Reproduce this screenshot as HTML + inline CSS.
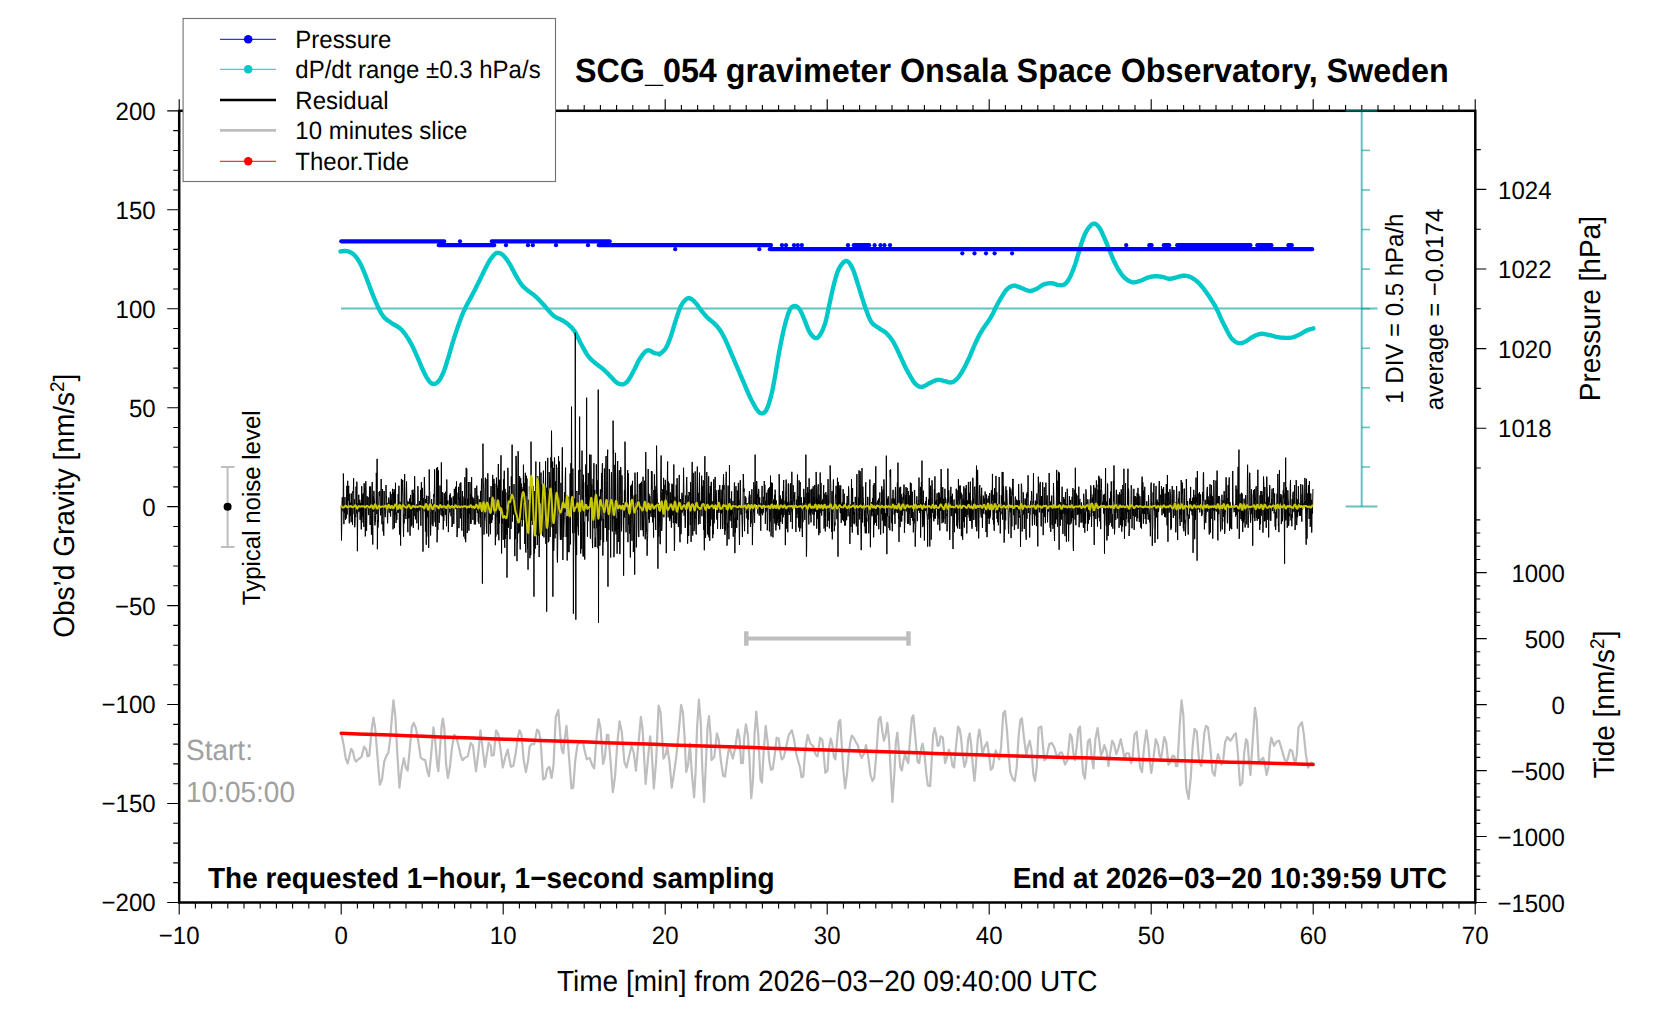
<!DOCTYPE html>
<html><head><meta charset="utf-8"><title>SCG_054 gravimeter Onsala Space Observatory, Sweden</title>
<style>html,body{margin:0;padding:0;background:#fff;}body{width:1676px;height:1020px;position:relative;overflow:hidden;}
svg text{font-family:"Liberation Sans", "DejaVu Sans", Arial, sans-serif;text-rendering:geometricPrecision;}</style></head>
<body>
<svg width="1676" height="1020" viewBox="0 0 1676 1020" style="position:absolute;left:0;top:0">
<rect width="1676" height="1020" fill="#ffffff"/>
<line x1="341" y1="308.6" x2="1377.5" y2="308.6" stroke="#009999" stroke-opacity="0.6" stroke-width="2"/>
<line x1="1361.7" y1="110.8" x2="1361.7" y2="506.6" stroke="#009999" stroke-opacity="0.6" stroke-width="2"/>
<line x1="1361.7" y1="150.38" x2="1370" y2="150.38" stroke="#009999" stroke-opacity="0.6" stroke-width="1.6"/>
<line x1="1361.7" y1="189.96" x2="1370" y2="189.96" stroke="#009999" stroke-opacity="0.6" stroke-width="1.6"/>
<line x1="1361.7" y1="229.54" x2="1370" y2="229.54" stroke="#009999" stroke-opacity="0.6" stroke-width="1.6"/>
<line x1="1361.7" y1="269.12" x2="1370" y2="269.12" stroke="#009999" stroke-opacity="0.6" stroke-width="1.6"/>
<line x1="1361.7" y1="308.7" x2="1370" y2="308.7" stroke="#009999" stroke-opacity="0.6" stroke-width="1.6"/>
<line x1="1361.7" y1="348.28" x2="1370" y2="348.28" stroke="#009999" stroke-opacity="0.6" stroke-width="1.6"/>
<line x1="1361.7" y1="387.86" x2="1370" y2="387.86" stroke="#009999" stroke-opacity="0.6" stroke-width="1.6"/>
<line x1="1361.7" y1="427.44" x2="1370" y2="427.44" stroke="#009999" stroke-opacity="0.6" stroke-width="1.6"/>
<line x1="1361.7" y1="467.02" x2="1370" y2="467.02" stroke="#009999" stroke-opacity="0.6" stroke-width="1.6"/>
<line x1="1345.7" y1="506.6" x2="1377.4" y2="506.6" stroke="#009999" stroke-opacity="0.6" stroke-width="2"/>
<path d="M340.51 251.5 L341.19 251.42 L342.12 251.26 L343.23 251.1 L344.44 250.98 L345.66 250.96 L346.81 251.11 L347.94 251.4 L349.1 251.78 L350.28 252.27 L351.46 252.87 L352.61 253.59 L353.7 254.46 L354.76 255.47 L355.78 256.64 L356.78 257.93 L357.75 259.32 L358.7 260.8 L359.61 262.33 L360.49 263.94 L361.32 265.65 L362.13 267.44 L362.93 269.3 L363.72 271.21 L364.53 273.16 L365.35 275.18 L366.17 277.28 L366.99 279.44 L367.81 281.62 L368.64 283.8 L369.46 285.96 L370.28 288.11 L371.1 290.3 L371.92 292.48 L372.74 294.64 L373.56 296.74 L374.38 298.76 L375.2 300.71 L376.02 302.62 L376.84 304.48 L377.66 306.27 L378.48 307.97 L379.3 309.58 L380.09 311.09 L380.83 312.5 L381.58 313.83 L382.36 315.09 L383.23 316.3 L384.22 317.46 L385.36 318.57 L386.63 319.61 L387.98 320.6 L389.36 321.54 L390.75 322.46 L392.1 323.37 L393.43 324.22 L394.8 325.01 L396.16 325.77 L397.49 326.54 L398.77 327.37 L399.97 328.29 L401.07 329.29 L402.09 330.33 L403.05 331.43 L403.98 332.59 L404.92 333.84 L405.88 335.18 L406.86 336.62 L407.85 338.13 L408.83 339.73 L409.82 341.41 L410.8 343.18 L411.79 345.02 L412.77 346.98 L413.76 349.04 L414.74 351.18 L415.72 353.37 L416.71 355.6 L417.69 357.82 L418.68 360.11 L419.68 362.5 L420.67 364.92 L421.66 367.29 L422.64 369.55 L423.6 371.6 L424.56 373.51 L425.51 375.32 L426.46 377.01 L427.38 378.55 L428.27 379.91 L429.11 381.06 L429.9 381.99 L430.62 382.73 L431.32 383.28 L432 383.67 L432.7 383.91 L433.44 384.01 L434.23 383.97 L435.04 383.8 L435.87 383.47 L436.7 382.97 L437.54 382.3 L438.37 381.45 L439.19 380.41 L440.01 379.18 L440.83 377.78 L441.65 376.21 L442.47 374.48 L443.29 372.59 L444.11 370.49 L444.93 368.18 L445.75 365.7 L446.57 363.11 L447.39 360.47 L448.21 357.82 L449.02 355.16 L449.82 352.43 L450.61 349.64 L451.42 346.81 L452.26 343.96 L453.13 341.09 L454.06 338.16 L455.03 335.14 L456.03 332.1 L457.03 329.09 L458.04 326.16 L459.04 323.37 L460 320.73 L460.94 318.23 L461.87 315.8 L462.83 313.41 L463.85 311.03 L464.95 308.6 L466.15 306.15 L467.43 303.71 L468.76 301.28 L470.12 298.83 L471.49 296.35 L472.82 293.83 L474.14 291.27 L475.45 288.66 L476.76 286.02 L478.07 283.37 L479.39 280.72 L480.7 278.08 L482.03 275.37 L483.4 272.54 L484.76 269.71 L486.09 267 L487.37 264.5 L488.57 262.33 L489.69 260.49 L490.76 258.89 L491.77 257.51 L492.73 256.32 L493.63 255.31 L494.48 254.46 L495.24 253.78 L495.9 253.31 L496.51 253.02 L497.11 252.87 L497.73 252.83 L498.42 252.88 L499.17 253.01 L499.95 253.23 L500.76 253.57 L501.59 254.04 L502.45 254.66 L503.34 255.44 L504.27 256.41 L505.24 257.56 L506.23 258.86 L507.24 260.27 L508.25 261.77 L509.25 263.32 L510.23 264.96 L511.22 266.74 L512.2 268.61 L513.18 270.5 L514.17 272.36 L515.15 274.14 L516.14 275.89 L517.12 277.64 L518.11 279.37 L519.09 281.04 L520.08 282.59 L521.06 283.99 L522.02 285.2 L522.96 286.25 L523.89 287.19 L524.85 288.07 L525.87 288.96 L526.97 289.9 L528.18 290.87 L529.48 291.83 L530.84 292.79 L532.22 293.76 L533.56 294.76 L534.84 295.8 L536.05 296.88 L537.21 297.99 L538.35 299.12 L539.47 300.29 L540.6 301.48 L541.73 302.69 L542.89 303.97 L544.07 305.32 L545.24 306.69 L546.4 308.05 L547.53 309.36 L548.62 310.57 L549.64 311.69 L550.59 312.76 L551.52 313.77 L552.45 314.73 L553.44 315.63 L554.53 316.48 L555.74 317.23 L557.05 317.9 L558.41 318.51 L559.78 319.1 L561.13 319.72 L562.41 320.41 L563.62 321.15 L564.81 321.91 L565.98 322.69 L567.11 323.51 L568.22 324.39 L569.3 325.34 L570.34 326.31 L571.34 327.3 L572.31 328.35 L573.27 329.49 L574.23 330.77 L575.2 332.23 L576.18 333.91 L577.14 335.8 L578.1 337.83 L579.07 339.92 L580.07 342.01 L581.11 344.04 L582.2 346.07 L583.34 348.16 L584.5 350.25 L585.67 352.28 L586.84 354.17 L588 355.85 L589.13 357.29 L590.23 358.52 L591.33 359.61 L592.45 360.63 L593.63 361.65 L594.89 362.74 L596.28 363.89 L597.77 365.04 L599.32 366.19 L600.87 367.34 L602.37 368.49 L603.75 369.64 L605.03 370.8 L606.23 371.97 L607.38 373.14 L608.49 374.3 L609.58 375.44 L610.64 376.53 L611.69 377.61 L612.7 378.71 L613.68 379.79 L614.65 380.79 L615.6 381.69 L616.55 382.43 L617.5 383.05 L618.43 383.56 L619.34 383.97 L620.26 384.26 L621.16 384.4 L622.06 384.4 L622.95 384.27 L623.83 384.04 L624.7 383.66 L625.57 383.13 L626.46 382.4 L627.38 381.45 L628.33 380.23 L629.31 378.75 L630.3 377.08 L631.3 375.29 L632.3 373.44 L633.29 371.6 L634.27 369.7 L635.26 367.67 L636.24 365.57 L637.22 363.51 L638.21 361.56 L639.19 359.79 L640.2 358.18 L641.24 356.64 L642.27 355.21 L643.28 353.93 L644.23 352.82 L645.1 351.92 L645.86 351.24 L646.52 350.77 L647.13 350.48 L647.73 350.33 L648.35 350.29 L649.04 350.34 L649.8 350.55 L650.61 350.95 L651.44 351.46 L652.28 352.01 L653.13 352.52 L653.96 352.9 L654.82 353.17 L655.74 353.38 L656.66 353.55 L657.52 353.69 L658.28 353.8 L658.88 353.88 L659.23 354.01 L659.36 354.18 L659.38 354.32 L659.41 354.36 L659.58 354.24 L660 353.88 L660.72 353.31 L661.65 352.57 L662.72 351.67 L663.83 350.6 L664.92 349.37 L665.91 347.98 L666.78 346.4 L667.62 344.62 L668.43 342.69 L669.22 340.61 L670.02 338.43 L670.83 336.16 L671.65 333.74 L672.47 331.13 L673.29 328.41 L674.11 325.66 L674.93 322.97 L675.75 320.41 L676.57 317.92 L677.39 315.42 L678.21 312.97 L679.03 310.64 L679.85 308.51 L680.67 306.63 L681.5 305.02 L682.34 303.62 L683.17 302.41 L684 301.37 L684.81 300.49 L685.6 299.74 L686.34 299.13 L687.04 298.66 L687.72 298.35 L688.42 298.19 L689.14 298.2 L689.93 298.36 L690.77 298.71 L691.66 299.25 L692.59 299.95 L693.53 300.78 L694.48 301.7 L695.44 302.69 L696.4 303.81 L697.38 305.09 L698.37 306.47 L699.36 307.89 L700.36 309.27 L701.35 310.57 L702.32 311.79 L703.28 312.98 L704.24 314.14 L705.21 315.27 L706.21 316.38 L707.25 317.46 L708.36 318.49 L709.51 319.47 L710.7 320.41 L711.88 321.36 L713.04 322.34 L714.14 323.37 L715.19 324.41 L716.19 325.45 L717.16 326.5 L718.12 327.63 L719.08 328.87 L720.05 330.26 L721.04 331.8 L722.02 333.47 L723 335.24 L723.99 337.11 L724.97 339.07 L725.96 341.09 L726.94 343.21 L727.93 345.46 L728.91 347.79 L729.9 350.17 L730.88 352.54 L731.86 354.87 L732.85 357.17 L733.83 359.46 L734.82 361.76 L735.8 364.06 L736.79 366.35 L737.77 368.65 L738.76 370.95 L739.74 373.25 L740.72 375.54 L741.71 377.84 L742.69 380.14 L743.68 382.43 L744.65 384.74 L745.61 387.06 L746.57 389.39 L747.54 391.69 L748.54 393.98 L749.58 396.22 L750.7 398.5 L751.88 400.87 L753.09 403.21 L754.29 405.41 L755.43 407.38 L756.48 409.01 L757.41 410.31 L758.26 411.37 L759.06 412.19 L759.83 412.78 L760.6 413.17 L761.4 413.35 L762.22 413.36 L763.04 413.22 L763.86 412.87 L764.68 412.24 L765.5 411.31 L766.32 410 L767.15 408.25 L768 406.1 L768.84 403.64 L769.67 400.94 L770.48 398.11 L771.24 395.23 L771.97 392.21 L772.66 388.96 L773.33 385.57 L773.98 382.14 L774.59 378.77 L775.18 375.54 L775.73 372.45 L776.24 369.42 L776.72 366.44 L777.19 363.51 L777.65 360.64 L778.13 357.82 L778.61 355.11 L779.08 352.5 L779.55 349.95 L780.03 347.39 L780.54 344.79 L781.09 342.07 L781.67 339.2 L782.29 336.2 L782.93 333.15 L783.6 330.11 L784.3 327.16 L785.02 324.35 L785.79 321.59 L786.59 318.79 L787.42 316.08 L788.27 313.57 L789.12 311.36 L789.95 309.58 L790.77 308.26 L791.59 307.31 L792.41 306.67 L793.23 306.28 L794.05 306.09 L794.87 306.04 L795.69 306.14 L796.51 306.43 L797.33 306.91 L798.15 307.6 L798.97 308.49 L799.79 309.58 L800.61 310.96 L801.43 312.62 L802.25 314.48 L803.07 316.46 L803.89 318.47 L804.71 320.41 L805.52 322.39 L806.32 324.5 L807.11 326.63 L807.92 328.69 L808.76 330.59 L809.64 332.23 L810.57 333.67 L811.57 335 L812.59 336.16 L813.61 337.11 L814.6 337.79 L815.54 338.13 L816.42 338.14 L817.26 337.84 L818.07 337.27 L818.86 336.46 L819.66 335.42 L820.46 334.2 L821.3 332.75 L822.14 331.06 L822.99 329.15 L823.82 327.05 L824.62 324.78 L825.39 322.38 L826.09 319.82 L826.74 317.06 L827.36 314.14 L827.98 311.08 L828.62 307.91 L829.32 304.66 L830.09 301.2 L830.89 297.48 L831.72 293.65 L832.57 289.86 L833.42 286.26 L834.25 283 L835.04 280.06 L835.81 277.29 L836.58 274.72 L837.38 272.35 L838.23 270.19 L839.17 268.24 L840.22 266.43 L841.36 264.75 L842.55 263.28 L843.76 262.1 L844.95 261.29 L846.06 260.95 L847.11 261.13 L848.14 261.77 L849.14 262.79 L850.11 264.1 L851.05 265.61 L851.97 267.25 L852.84 269.09 L853.68 271.22 L854.49 273.55 L855.28 276.02 L856.08 278.54 L856.89 281.04 L857.71 283.56 L858.53 286.18 L859.35 288.85 L860.17 291.54 L860.99 294.2 L861.81 296.79 L862.63 299.35 L863.45 301.93 L864.27 304.48 L865.09 306.96 L865.91 309.33 L866.73 311.55 L867.53 313.65 L868.3 315.65 L869.07 317.55 L869.87 319.31 L870.72 320.93 L871.66 322.38 L872.68 323.61 L873.77 324.62 L874.92 325.48 L876.1 326.27 L877.32 327.05 L878.55 327.9 L879.81 328.75 L881.14 329.55 L882.48 330.34 L883.83 331.18 L885.16 332.12 L886.42 333.21 L887.64 334.45 L888.83 335.79 L889.99 337.24 L891.13 338.77 L892.23 340.38 L893.31 342.07 L894.36 343.86 L895.36 345.75 L896.33 347.73 L897.29 349.76 L898.25 351.82 L899.22 353.88 L900.2 355.98 L901.19 358.15 L902.17 360.35 L903.16 362.53 L904.14 364.65 L905.13 366.68 L906.12 368.65 L907.13 370.58 L908.14 372.47 L909.14 374.27 L910.11 375.96 L911.03 377.51 L911.9 378.94 L912.71 380.26 L913.49 381.47 L914.28 382.57 L915.09 383.55 L915.96 384.4 L916.86 385.15 L917.78 385.82 L918.72 386.36 L919.71 386.75 L920.75 386.96 L921.86 386.96 L923.06 386.67 L924.34 386.1 L925.68 385.35 L927.04 384.52 L928.4 383.71 L929.74 383.02 L931.06 382.4 L932.4 381.76 L933.74 381.13 L935.06 380.57 L936.36 380.14 L937.61 379.87 L938.82 379.82 L939.98 379.94 L941.12 380.18 L942.24 380.49 L943.37 380.8 L944.5 381.06 L945.66 381.34 L946.84 381.7 L948.01 382.06 L949.17 382.36 L950.3 382.51 L951.4 382.43 L952.44 382.14 L953.44 381.7 L954.41 381.1 L955.37 380.37 L956.33 379.5 L957.3 378.5 L958.29 377.34 L959.27 376.02 L960.26 374.56 L961.24 372.99 L962.22 371.34 L963.21 369.64 L964.19 367.86 L965.18 365.99 L966.16 364.04 L967.15 362.02 L968.13 359.94 L969.12 357.82 L970.1 355.62 L971.08 353.3 L972.07 350.93 L973.05 348.56 L974.04 346.25 L975.02 344.04 L975.96 342 L976.84 340.08 L977.72 338.21 L978.66 336.33 L979.71 334.36 L980.93 332.23 L982.42 329.84 L984.14 327.25 L985.98 324.56 L987.8 321.91 L989.49 319.4 L990.91 317.15 L992.02 315.19 L992.92 313.44 L993.68 311.84 L994.38 310.32 L995.07 308.83 L995.83 307.3 L996.64 305.77 L997.43 304.28 L998.23 302.81 L999.04 301.36 L999.87 299.91 L1000.75 298.44 L1001.67 296.91 L1002.61 295.31 L1003.58 293.71 L1004.58 292.17 L1005.6 290.78 L1006.66 289.58 L1007.75 288.58 L1008.88 287.69 L1010.04 286.94 L1011.22 286.34 L1012.39 285.9 L1013.55 285.65 L1014.67 285.62 L1015.77 285.81 L1016.87 286.18 L1018 286.64 L1019.18 287.14 L1020.44 287.62 L1021.83 288.16 L1023.32 288.83 L1024.87 289.54 L1026.42 290.19 L1027.91 290.7 L1029.3 290.96 L1030.55 290.97 L1031.71 290.8 L1032.81 290.48 L1033.89 290.05 L1035.01 289.54 L1036.19 288.99 L1037.45 288.32 L1038.74 287.48 L1040.07 286.57 L1041.41 285.67 L1042.74 284.87 L1044.07 284.27 L1045.39 283.86 L1046.73 283.56 L1048.07 283.37 L1049.39 283.27 L1050.69 283.25 L1051.94 283.28 L1053.16 283.45 L1054.35 283.77 L1055.51 284.16 L1056.65 284.55 L1057.75 284.88 L1058.83 285.06 L1059.89 285.14 L1060.91 285.19 L1061.91 285.18 L1062.88 285.05 L1063.82 284.76 L1064.74 284.27 L1065.62 283.58 L1066.45 282.72 L1067.26 281.71 L1068.06 280.54 L1068.85 279.23 L1069.66 277.77 L1070.49 276.12 L1071.34 274.26 L1072.18 272.26 L1073.02 270.17 L1073.82 268.05 L1074.58 265.96 L1075.3 263.88 L1075.97 261.76 L1076.61 259.62 L1077.25 257.46 L1077.88 255.3 L1078.52 253.16 L1079.17 251 L1079.8 248.82 L1080.43 246.64 L1081.07 244.48 L1081.75 242.38 L1082.46 240.36 L1083.21 238.39 L1083.98 236.42 L1084.77 234.52 L1085.6 232.71 L1086.47 231.03 L1087.38 229.53 L1088.36 228.15 L1089.41 226.84 L1090.5 225.66 L1091.59 224.68 L1092.66 223.98 L1093.68 223.63 L1094.65 223.64 L1095.6 223.99 L1096.53 224.61 L1097.43 225.45 L1098.32 226.45 L1099.2 227.56 L1100.05 228.84 L1100.88 230.34 L1101.69 231.99 L1102.5 233.76 L1103.3 235.59 L1104.12 237.41 L1104.94 239.26 L1105.76 241.2 L1106.58 243.19 L1107.4 245.21 L1108.22 247.23 L1109.04 249.22 L1109.85 251.2 L1110.64 253.2 L1111.44 255.19 L1112.25 257.17 L1113.09 259.12 L1113.96 261.04 L1114.89 262.94 L1115.86 264.86 L1116.85 266.76 L1117.86 268.58 L1118.87 270.3 L1119.87 271.86 L1120.84 273.28 L1121.8 274.58 L1122.76 275.77 L1123.73 276.85 L1124.73 277.85 L1125.78 278.76 L1126.86 279.6 L1127.96 280.37 L1129.1 281.06 L1130.26 281.62 L1131.45 282.04 L1132.67 282.3 L1133.92 282.35 L1135.22 282.22 L1136.54 281.94 L1137.88 281.57 L1139.22 281.15 L1140.54 280.72 L1141.86 280.24 L1143.17 279.66 L1144.48 279.03 L1145.79 278.4 L1147.11 277.83 L1148.42 277.38 L1149.74 277.03 L1151.08 276.74 L1152.42 276.52 L1153.74 276.35 L1155.04 276.24 L1156.29 276.2 L1157.51 276.23 L1158.7 276.34 L1159.86 276.52 L1161 276.73 L1162.1 276.96 L1163.18 277.18 L1164.23 277.44 L1165.23 277.76 L1166.2 278.09 L1167.16 278.4 L1168.12 278.63 L1169.09 278.76 L1170.05 278.75 L1170.99 278.65 L1171.92 278.48 L1172.88 278.27 L1173.9 278.02 L1175 277.77 L1176.21 277.47 L1177.51 277.08 L1178.87 276.66 L1180.25 276.28 L1181.6 275.97 L1182.87 275.8 L1184.08 275.76 L1185.24 275.79 L1186.38 275.9 L1187.5 276.1 L1188.63 276.39 L1189.76 276.79 L1190.91 277.28 L1192.06 277.87 L1193.21 278.55 L1194.36 279.32 L1195.51 280.18 L1196.66 281.12 L1197.8 282.16 L1198.95 283.29 L1200.1 284.51 L1201.25 285.81 L1202.4 287.18 L1203.55 288.6 L1204.71 290.1 L1205.88 291.71 L1207.05 293.37 L1208.21 295.08 L1209.35 296.78 L1210.44 298.44 L1211.49 300.07 L1212.52 301.69 L1213.51 303.31 L1214.49 304.93 L1215.43 306.59 L1216.34 308.29 L1217.22 310.05 L1218.06 311.86 L1218.87 313.7 L1219.66 315.54 L1220.46 317.36 L1221.27 319.12 L1222.09 320.83 L1222.91 322.51 L1223.73 324.16 L1224.55 325.79 L1225.37 327.39 L1226.19 328.96 L1227.01 330.55 L1227.83 332.16 L1228.65 333.74 L1229.47 335.24 L1230.29 336.62 L1231.11 337.82 L1231.94 338.85 L1232.77 339.73 L1233.6 340.48 L1234.42 341.13 L1235.24 341.68 L1236.03 342.15 L1236.8 342.54 L1237.54 342.83 L1238.27 343.03 L1239.01 343.14 L1239.77 343.17 L1240.56 343.14 L1241.38 343.03 L1242.22 342.85 L1243.07 342.6 L1243.96 342.26 L1244.89 341.85 L1245.88 341.37 L1246.92 340.75 L1248.02 340 L1249.16 339.18 L1250.34 338.33 L1251.55 337.53 L1252.77 336.84 L1254.02 336.21 L1255.32 335.59 L1256.65 335.02 L1257.98 334.52 L1259.32 334.13 L1260.64 333.88 L1261.96 333.81 L1263.27 333.88 L1264.58 334.07 L1265.9 334.32 L1267.21 334.6 L1268.52 334.87 L1269.83 335.15 L1271.15 335.49 L1272.46 335.85 L1273.77 336.22 L1275.08 336.56 L1276.4 336.84 L1277.71 337.07 L1279.02 337.29 L1280.33 337.48 L1281.65 337.63 L1282.96 337.75 L1284.27 337.82 L1285.58 337.87 L1286.9 337.9 L1288.21 337.88 L1289.52 337.82 L1290.83 337.67 L1292.15 337.43 L1293.47 337.07 L1294.81 336.61 L1296.15 336.08 L1297.47 335.49 L1298.77 334.88 L1300.02 334.28 L1301.23 333.64 L1302.41 332.95 L1303.55 332.24 L1304.68 331.54 L1305.8 330.89 L1306.91 330.34 L1308.09 329.88 L1309.35 329.47 L1310.59 329.11 L1311.74 328.81 L1312.71 328.56 L1313.41 328.37" fill="none" stroke="#00c8c8" stroke-width="4.4" stroke-linecap="round" stroke-linejoin="round"/>
<line x1="341.3" y1="241.3" x2="444.2" y2="241.3" stroke="#0000ff" stroke-width="4.2" stroke-linecap="round"/>
<line x1="438.8" y1="245.2" x2="494.2" y2="245.2" stroke="#0000ff" stroke-width="4.2" stroke-linecap="round"/>
<line x1="491.8" y1="241.3" x2="609.7" y2="241.3" stroke="#0000ff" stroke-width="4.2" stroke-linecap="round"/>
<line x1="598.8" y1="245.2" x2="770.9" y2="245.2" stroke="#0000ff" stroke-width="4.2" stroke-linecap="round"/>
<line x1="769.8" y1="249.2" x2="1312.2" y2="249.2" stroke="#0000ff" stroke-width="4.2" stroke-linecap="round"/>
<circle cx="460" cy="241.3" r="2.1" fill="#0000ff"/>
<circle cx="506" cy="245.2" r="2.1" fill="#0000ff"/>
<circle cx="528" cy="245.2" r="2.1" fill="#0000ff"/>
<circle cx="532.8" cy="245.2" r="2.1" fill="#0000ff"/>
<circle cx="556" cy="245.2" r="2.1" fill="#0000ff"/>
<circle cx="588" cy="245.2" r="2.1" fill="#0000ff"/>
<circle cx="675.2" cy="249.2" r="2.1" fill="#0000ff"/>
<circle cx="759.3" cy="249.2" r="2.1" fill="#0000ff"/>
<circle cx="782" cy="245.2" r="2.1" fill="#0000ff"/>
<circle cx="786" cy="245.2" r="2.1" fill="#0000ff"/>
<circle cx="794" cy="245.2" r="2.1" fill="#0000ff"/>
<circle cx="797.8" cy="245.2" r="2.1" fill="#0000ff"/>
<circle cx="801.8" cy="245.2" r="2.1" fill="#0000ff"/>
<circle cx="848" cy="245.2" r="2.1" fill="#0000ff"/>
<circle cx="874.6" cy="245.2" r="2.1" fill="#0000ff"/>
<circle cx="880.5" cy="245.2" r="2.1" fill="#0000ff"/>
<circle cx="884.5" cy="245.2" r="2.1" fill="#0000ff"/>
<circle cx="890" cy="245.2" r="2.1" fill="#0000ff"/>
<circle cx="1126.2" cy="245.2" r="2.1" fill="#0000ff"/>
<line x1="853.8" y1="245.2" x2="869.2" y2="245.2" stroke="#0000ff" stroke-width="4.2" stroke-linecap="round"/>
<circle cx="962.3" cy="253.3" r="2.1" fill="#0000ff"/>
<circle cx="974.5" cy="253.3" r="2.1" fill="#0000ff"/>
<circle cx="986" cy="253.3" r="2.1" fill="#0000ff"/>
<circle cx="994.6" cy="253.3" r="2.1" fill="#0000ff"/>
<circle cx="1012.1" cy="253.3" r="2.1" fill="#0000ff"/>
<line x1="1149.3" y1="245.2" x2="1151.6" y2="245.2" stroke="#0000ff" stroke-width="4.2" stroke-linecap="round"/>
<line x1="1163.8" y1="245.2" x2="1169.2" y2="245.2" stroke="#0000ff" stroke-width="4.2" stroke-linecap="round"/>
<line x1="1177.2" y1="245.2" x2="1250.4" y2="245.2" stroke="#0000ff" stroke-width="4.2" stroke-linecap="round"/>
<line x1="1257.3" y1="245.2" x2="1271.4" y2="245.2" stroke="#0000ff" stroke-width="4.2" stroke-linecap="round"/>
<line x1="1288.4" y1="245.2" x2="1291.8" y2="245.2" stroke="#0000ff" stroke-width="4.2" stroke-linecap="round"/>
<path d="M341.2 505.6 L341.47 540.45 L341.74 526.8 L342.01 501.29 L342.28 497.36 L342.55 499.58 L342.82 510.6 L343.09 511.31 L343.36 473.55 L343.63 484.98 L343.9 524.13 L344.17 510.95 L344.44 512.93 L344.71 505.13 L344.98 497.04 L345.25 513.61 L345.52 519.72 L345.79 505.25 L346.06 505.72 L346.33 518.33 L346.6 493.39 L346.87 485.87 L347.14 514.53 L347.41 499.89 L347.68 480.79 L347.95 495.51 L348.22 500.63 L348.49 488.69 L348.76 485.8 L349.03 510.27 L349.3 523.37 L349.57 504.45 L349.84 493.73 L350.11 511.06 L350.38 515.81 L350.65 502.54 L350.92 514.75 L351.19 522.2 L351.46 499.7 L351.73 493.35 L352 510.39 L352.27 517.53 L352.54 524.79 L352.81 491.36 L353.08 493.23 L353.35 490.61 L353.62 478.17 L353.89 508.17 L354.16 514.2 L354.43 499.37 L354.7 527.26 L354.97 524.16 L355.24 514.41 L355.51 515.54 L355.78 517.02 L356.05 486.63 L356.32 513.65 L356.59 513.15 L356.86 481.71 L357.13 508.08 L357.4 551.25 L357.67 518.58 L357.94 503.39 L358.21 507.31 L358.48 510.13 L358.75 494.72 L359.02 512.12 L359.29 507.98 L359.56 510.56 L359.83 499.81 L360.1 519.77 L360.37 514.42 L360.64 502.84 L360.91 514.01 L361.18 529.47 L361.45 529.24 L361.72 486.23 L361.99 513.6 L362.26 516.44 L362.53 498.58 L362.8 494.47 L363.07 522.48 L363.34 493.01 L363.61 518.79 L363.88 526.89 L364.15 483.22 L364.42 493.06 L364.69 487.8 L364.96 508.99 L365.23 536.4 L365.5 534.76 L365.77 481.16 L366.04 490.4 L366.31 517.67 L366.58 530.75 L366.85 515.37 L367.12 496.16 L367.39 508.04 L367.66 505.14 L367.93 500.51 L368.2 497.24 L368.47 514.99 L368.74 514.92 L369.01 507.31 L369.28 502.51 L369.55 486.47 L369.82 497.81 L370.09 524.95 L370.36 499.91 L370.63 486.59 L370.9 524.17 L371.17 523.09 L371.44 534.69 L371.71 508.96 L371.98 490.09 L372.25 482 L372.52 526.6 L372.79 544.51 L373.06 497.55 L373.33 496.22 L373.6 511.55 L373.87 490.87 L374.14 497.74 L374.41 500.22 L374.68 512.11 L374.95 525.42 L375.22 516.02 L375.49 522.04 L375.76 505.35 L376.03 506.29 L376.3 472.92 L376.57 480.6 L376.84 514.14 L377.11 458.85 L377.38 549.25 L377.65 520.17 L377.92 527.64 L378.19 523.9 L378.46 522.5 L378.73 505.28 L379 492.04 L379.27 492.81 L379.54 496.07 L379.81 490.99 L380.08 501.76 L380.35 510.79 L380.62 515.33 L380.89 499.79 L381.16 479.05 L381.43 503 L381.7 514.9 L381.97 524.26 L382.24 516.32 L382.51 489.06 L382.78 491.67 L383.05 531.36 L383.32 521.54 L383.59 535.33 L383.86 535.67 L384.13 491.09 L384.4 504.08 L384.67 511.44 L384.94 515.56 L385.21 517.19 L385.48 514.31 L385.75 506.83 L386.02 485.04 L386.29 497.77 L386.56 496.33 L386.83 505.39 L387.1 502.94 L387.37 517.69 L387.64 523.33 L387.91 513.37 L388.18 512.55 L388.45 505.25 L388.72 497.62 L388.99 499.32 L389.26 500.15 L389.53 510.64 L389.8 512.89 L390.07 513.32 L390.34 491.81 L390.61 516.51 L390.88 497.25 L391.15 494.11 L391.42 504.97 L391.69 500.6 L391.96 511.01 L392.23 499.03 L392.5 488.84 L392.77 496.62 L393.04 529.36 L393.31 509.19 L393.58 492.29 L393.85 500.07 L394.12 489.05 L394.39 528.12 L394.66 490.66 L394.93 511.41 L395.2 514.58 L395.47 482.77 L395.74 508.13 L396.01 522.95 L396.28 513.72 L396.55 512.63 L396.82 519.69 L397.09 510.18 L397.36 507.99 L397.63 507.27 L397.9 512.53 L398.17 494.14 L398.44 512.88 L398.71 496.41 L398.98 485.79 L399.25 512.55 L399.52 534.57 L399.79 523.33 L400.06 501.88 L400.33 516.19 L400.6 545.55 L400.87 506.06 L401.14 505.92 L401.41 478.9 L401.68 508.73 L401.95 497.85 L402.22 493.52 L402.49 483.74 L402.76 479.9 L403.03 491.59 L403.3 524.96 L403.57 536.73 L403.84 514.32 L404.11 523.3 L404.38 498.14 L404.65 474.1 L404.92 504.37 L405.19 515.23 L405.46 504.69 L405.73 516.91 L406 519.06 L406.27 492.12 L406.54 481.47 L406.81 498.92 L407.08 502.35 L407.35 501.71 L407.62 525.74 L407.89 532.23 L408.16 501.52 L408.43 514.13 L408.7 518.39 L408.97 514.67 L409.24 517.74 L409.51 498.58 L409.78 515.32 L410.05 535.69 L410.32 516.77 L410.59 494.91 L410.86 512.31 L411.13 526.4 L411.4 509.3 L411.67 502.22 L411.94 525.18 L412.21 490.05 L412.48 510.11 L412.75 506.28 L413.02 489.65 L413.29 527.82 L413.56 516.75 L413.83 493.24 L414.1 516.19 L414.37 498.54 L414.64 476.18 L414.91 493.75 L415.18 512.71 L415.45 519.35 L415.72 510.95 L415.99 508.43 L416.26 510.46 L416.53 504.49 L416.8 523.27 L417.07 510.96 L417.34 509.51 L417.61 511.74 L417.88 486.15 L418.15 493.92 L418.42 529.59 L418.69 514.39 L418.96 504.66 L419.23 510.49 L419.5 501.36 L419.77 506.18 L420.04 501.15 L420.31 507.04 L420.58 490.01 L420.85 525.75 L421.12 503.01 L421.39 482.23 L421.66 499.96 L421.93 498.64 L422.2 506.33 L422.47 487.9 L422.74 520.81 L423.01 551.62 L423.28 498.24 L423.55 506.87 L423.82 505.05 L424.09 501.18 L424.36 477.17 L424.63 485.96 L424.9 511.41 L425.17 510.15 L425.44 531.59 L425.71 499.19 L425.98 513.39 L426.25 544.77 L426.52 495.7 L426.79 536.65 L427.06 502.91 L427.33 503.35 L427.6 517.24 L427.87 508.14 L428.14 495.96 L428.41 514.24 L428.68 547.96 L428.95 525.3 L429.22 469.44 L429.49 490.6 L429.76 491.83 L430.03 508.52 L430.3 511.74 L430.57 535.5 L430.84 526.46 L431.11 516.82 L431.38 506.3 L431.65 499.13 L431.92 508.3 L432.19 524.64 L432.46 514.08 L432.73 503.72 L433 526.25 L433.27 514.48 L433.54 506.58 L433.81 494.15 L434.08 497.03 L434.35 489.69 L434.62 469.32 L434.89 520.4 L435.16 522.35 L435.43 511.68 L435.7 526.75 L435.97 517.88 L436.24 502 L436.51 467.86 L436.78 492.25 L437.05 542.25 L437.32 535.98 L437.59 467.15 L437.86 529.94 L438.13 482.13 L438.4 470.37 L438.67 507.44 L438.94 513.05 L439.21 522.97 L439.48 513.3 L439.75 505.78 L440.02 485.55 L440.29 507.54 L440.56 502.19 L440.83 511.73 L441.1 515.2 L441.37 462.45 L441.64 510.55 L441.91 507.56 L442.18 516.39 L442.45 513.46 L442.72 492.25 L442.99 497.92 L443.26 529.6 L443.53 511.27 L443.8 520.92 L444.07 514.38 L444.34 493.34 L444.61 494.3 L444.88 506.71 L445.15 515.02 L445.42 514.9 L445.69 491.66 L445.96 493.42 L446.23 512.99 L446.5 526.18 L446.77 479.53 L447.04 505.25 L447.31 501.51 L447.58 507.23 L447.85 500.5 L448.12 512.94 L448.39 532.08 L448.66 514.25 L448.93 514.47 L449.2 510.38 L449.47 495.13 L449.74 512.27 L450.01 502.87 L450.28 493.38 L450.55 504.44 L450.82 503.34 L451.09 516.33 L451.36 502.81 L451.63 497.73 L451.9 526.96 L452.17 525.64 L452.44 525.89 L452.71 515.46 L452.98 500.68 L453.25 496.22 L453.52 501.61 L453.79 523.93 L454.06 509.52 L454.33 488.83 L454.6 503.2 L454.87 489.93 L455.14 507.89 L455.41 492.09 L455.68 486.81 L455.95 509.17 L456.22 503.89 L456.49 481.4 L456.76 522.68 L457.03 537.11 L457.3 533.45 L457.57 529.18 L457.84 497.32 L458.11 492.61 L458.38 499.22 L458.65 486.84 L458.92 528.12 L459.19 519.77 L459.46 497.73 L459.73 501.62 L460 483.36 L460.27 501.74 L460.54 518.31 L460.81 482.46 L461.08 497.02 L461.35 512.7 L461.62 526.72 L461.89 530.61 L462.16 499.49 L462.43 491 L462.7 506.47 L462.97 496.51 L463.24 500.29 L463.51 526.59 L463.78 536.57 L464.05 513.43 L464.32 505.68 L464.59 505.46 L464.86 477.25 L465.13 539.25 L465.4 498.37 L465.67 542.14 L465.94 526.85 L466.21 467.85 L466.48 497.28 L466.75 468.68 L467.02 514.56 L467.29 532.96 L467.56 498.67 L467.83 517.69 L468.1 513.69 L468.37 482.03 L468.64 517.99 L468.91 530.63 L469.18 509.97 L469.45 507.59 L469.72 513.75 L469.99 481.99 L470.26 507.29 L470.53 524.03 L470.8 493.96 L471.07 523.66 L471.34 500.74 L471.61 477.07 L471.88 499.39 L472.15 496.86 L472.42 508.16 L472.69 497.57 L472.96 519.91 L473.23 500.32 L473.5 508.09 L473.77 498.37 L474.04 501.9 L474.31 524.41 L474.58 511.23 L474.85 495.7 L475.12 487.94 L475.39 524.44 L475.66 522.44 L475.93 506.08 L476.2 509.87 L476.47 489.53 L476.74 485.69 L477.01 491.85 L477.28 513.04 L477.55 512.13 L477.82 495.62 L478.09 520.37 L478.36 521.99 L478.63 511.67 L478.9 523.75 L479.17 499.27 L479.44 501.8 L479.71 511.31 L479.98 510.85 L480.25 517.74 L480.52 491.04 L480.79 527.25 L481.06 493.93 L481.33 489.19 L481.6 478.56 L481.87 519.09 L482.14 541.37 L482.41 583.65 L482.68 526.45 L482.95 443.65 L483.22 479.98 L483.49 487.91 L483.76 488.04 L484.03 534.54 L484.3 521.78 L484.57 513.15 L484.84 517.21 L485.11 483.11 L485.38 477.74 L485.65 485.07 L485.92 519.1 L486.19 522.24 L486.46 530.06 L486.73 533.58 L487 479.09 L487.27 487.61 L487.54 501.84 L487.81 473.21 L488.08 492.5 L488.35 532.35 L488.62 536.44 L488.89 533.26 L489.16 504.56 L489.43 497.73 L489.7 523.62 L489.97 497.12 L490.24 513.86 L490.51 534.24 L490.78 495.13 L491.05 486.11 L491.32 503.58 L491.59 522.94 L491.86 521.58 L492.13 518.14 L492.4 519.42 L492.67 474.9 L492.94 487.29 L493.21 514.86 L493.48 489.73 L493.75 479.32 L494.02 478.85 L494.29 485.11 L494.56 499.08 L494.83 483.74 L495.1 517.56 L495.37 545.2 L495.64 513.79 L495.91 536.55 L496.18 511.58 L496.45 477.58 L496.72 486.83 L496.99 485.78 L497.26 517.15 L497.53 487.9 L497.8 534.48 L498.07 520.34 L498.34 464 L498.61 527.24 L498.88 540.3 L499.15 501.02 L499.42 523.29 L499.69 479.95 L499.96 503.08 L500.23 479.39 L500.5 508.34 L500.77 468.82 L501.04 455.29 L501.31 524.45 L501.58 553.48 L501.85 505.84 L502.12 523.53 L502.39 511.42 L502.66 490.64 L502.93 526.24 L503.2 539.8 L503.47 479.46 L503.74 511.8 L504.01 508.73 L504.28 470.73 L504.55 544.22 L504.82 547.71 L505.09 488.89 L505.36 538.92 L505.63 504.53 L505.9 492.41 L506.17 534.72 L506.44 509.57 L506.71 516.02 L506.98 577.65 L507.25 541.94 L507.52 528.39 L507.79 467.81 L508.06 469.67 L508.33 527.68 L508.6 494.94 L508.87 505.18 L509.14 490.82 L509.41 491.9 L509.68 486.15 L509.95 539.24 L510.22 494.61 L510.49 496.45 L510.76 513.52 L511.03 529 L511.3 476.37 L511.57 496.47 L511.84 505.02 L512.11 444.65 L512.38 521.67 L512.65 497.46 L512.92 510.6 L513.19 497.72 L513.46 514.49 L513.73 497.76 L514 484.14 L514.27 497.37 L514.54 524.1 L514.81 556.13 L515.08 507.28 L515.35 522.42 L515.62 539.14 L515.89 456.21 L516.16 455.88 L516.43 467 L516.7 512.6 L516.97 561.12 L517.24 542.27 L517.51 542.85 L517.78 498.87 L518.05 451.22 L518.32 454.15 L518.59 533.33 L518.86 513.49 L519.13 482.31 L519.4 531.59 L519.67 476.13 L519.94 534.57 L520.21 549.43 L520.48 479.94 L520.75 478.27 L521.02 516.1 L521.29 483.54 L521.56 519.93 L521.83 487.03 L522.1 526.52 L522.37 523.81 L522.64 490.69 L522.91 488.99 L523.18 502.76 L523.45 464.69 L523.72 487.21 L523.99 508.67 L524.26 520.26 L524.53 483 L524.8 544.02 L525.07 499.72 L525.34 472.8 L525.61 547.32 L525.88 552.57 L526.15 501.51 L526.42 475.79 L526.69 495.94 L526.96 478.52 L527.23 498.7 L527.5 549.08 L527.77 525.36 L528.04 569.65 L528.31 513.81 L528.58 499.84 L528.85 525.44 L529.12 527.99 L529.39 486.47 L529.66 507.25 L529.93 558.18 L530.2 521.6 L530.47 503.8 L530.74 555.22 L531.01 441.65 L531.28 472.67 L531.55 520.46 L531.82 482.18 L532.09 491.81 L532.36 524.8 L532.63 506.24 L532.9 487.03 L533.17 486.01 L533.44 491.52 L533.71 538.3 L533.98 596.65 L534.25 491.08 L534.52 553.6 L534.79 503.65 L535.06 546.68 L535.33 548.49 L535.6 487.61 L535.87 461.56 L536.14 504.88 L536.41 528.16 L536.68 534.67 L536.95 513.13 L537.22 545.05 L537.49 542.07 L537.76 476.27 L538.03 536.01 L538.3 510.59 L538.57 478.64 L538.84 499.64 L539.11 557.03 L539.38 539.06 L539.65 461.93 L539.92 503.13 L540.19 503.25 L540.46 502.8 L540.73 488.47 L541 472.55 L541.27 531.11 L541.54 484.51 L541.81 490.38 L542.08 489.73 L542.35 487.55 L542.62 536.06 L542.89 524.03 L543.16 482.44 L543.43 470.69 L543.7 490.49 L543.97 537.4 L544.24 521.24 L544.51 518.92 L544.78 494.04 L545.05 499.88 L545.32 499.09 L545.59 461.29 L545.86 543.81 L546.13 487.58 L546.4 489.66 L546.67 611.65 L546.94 521.51 L547.21 504.57 L547.48 479.01 L547.75 457.9 L548.02 514.62 L548.29 542.29 L548.56 490.97 L548.83 541.05 L549.1 472.06 L549.37 475.59 L549.64 525.63 L549.91 521.99 L550.18 536.98 L550.45 494.47 L550.72 471.06 L550.99 457.34 L551.26 467.81 L551.53 430.65 L551.8 468.53 L552.07 527.26 L552.34 483.18 L552.61 461.62 L552.88 596.65 L553.15 490.15 L553.42 468.02 L553.69 550.9 L553.96 543.21 L554.23 470.65 L554.5 457.54 L554.77 474.62 L555.04 538.34 L555.31 509.37 L555.58 481.44 L555.85 519.31 L556.12 533.7 L556.39 464.6 L556.66 468.74 L556.93 467.87 L557.2 557.85 L557.47 562.56 L557.74 540.85 L558.01 518.14 L558.28 514.16 L558.55 456.21 L558.82 497.9 L559.09 467.33 L559.36 461.42 L559.63 484.21 L559.9 501.58 L560.17 534.25 L560.44 540.04 L560.71 514.27 L560.98 482.83 L561.25 528.03 L561.52 515.66 L561.79 539.71 L562.06 470.67 L562.33 447.34 L562.6 484.17 L562.87 560.02 L563.14 533.12 L563.41 508.37 L563.68 536.94 L563.95 527.21 L564.22 519.99 L564.49 492.35 L564.76 507.62 L565.03 512.18 L565.3 478.76 L565.57 467.63 L565.84 508.33 L566.11 536.99 L566.38 531.16 L566.65 516.6 L566.92 527 L567.19 560.51 L567.46 516.09 L567.73 532.37 L568 551.96 L568.27 496.86 L568.54 501.24 L568.81 539.43 L569.08 552.24 L569.35 518.8 L569.62 518.67 L569.89 503.48 L570.16 473.45 L570.43 544.39 L570.7 506.84 L570.97 463.18 L571.24 498.71 L571.51 406.65 L571.78 478.13 L572.05 509.15 L572.32 490.62 L572.59 533.21 L572.86 468.59 L573.13 504.37 L573.4 613.65 L573.67 550.1 L573.94 539.82 L574.21 513.56 L574.48 498.6 L574.75 503.85 L575.02 532.97 L575.29 332.65 L575.56 511.29 L575.83 619.65 L576.1 502.48 L576.37 509.03 L576.64 555.07 L576.91 490.9 L577.18 501.32 L577.45 516.2 L577.72 526.27 L577.99 525.37 L578.26 532.65 L578.53 535.32 L578.8 470.23 L579.07 494.94 L579.34 475.01 L579.61 416.65 L579.88 471.59 L580.15 469.74 L580.42 511.66 L580.69 553.58 L580.96 541.55 L581.23 533.48 L581.5 548.98 L581.77 469.06 L582.04 450.62 L582.31 478.39 L582.58 490.3 L582.85 549.72 L583.12 556.44 L583.39 474.72 L583.66 556.27 L583.93 553.41 L584.2 521.69 L584.47 526.74 L584.74 559.56 L585.01 509.45 L585.28 482.29 L585.55 496.97 L585.82 464.53 L586.09 516.29 L586.36 508.62 L586.63 397.65 L586.9 515.98 L587.17 484.99 L587.44 536.71 L587.71 489.93 L587.98 521.25 L588.25 472.95 L588.52 512.37 L588.79 494.21 L589.06 507.28 L589.33 486.49 L589.6 454.65 L589.87 475.75 L590.14 525.59 L590.41 538.58 L590.68 470.06 L590.95 454.65 L591.22 474.09 L591.49 497.02 L591.76 484.41 L592.03 488.45 L592.3 539.59 L592.57 548.07 L592.84 533.46 L593.11 478.84 L593.38 501.92 L593.65 489.5 L593.92 463.19 L594.19 528.34 L594.46 507.1 L594.73 489.9 L595 547.16 L595.27 539.23 L595.54 537.52 L595.81 546.89 L596.08 526.76 L596.35 464.36 L596.62 486.44 L596.89 528.14 L597.16 480.31 L597.43 499.54 L597.7 525.95 L597.97 548.43 L598.24 389.65 L598.51 622.65 L598.78 496.14 L599.05 525.92 L599.32 517.62 L599.59 496.87 L599.86 545.74 L600.13 519.3 L600.4 489.39 L600.67 540.02 L600.94 516.12 L601.21 520.66 L601.48 473.05 L601.75 492.4 L602.02 481.12 L602.29 464.25 L602.56 463.24 L602.83 555.57 L603.1 518.89 L603.37 520.52 L603.64 542.1 L603.91 506.42 L604.18 508.4 L604.45 468.46 L604.72 504.53 L604.99 504.76 L605.26 528.04 L605.53 515.86 L605.8 463.92 L606.07 455.98 L606.34 480.51 L606.61 540.34 L606.88 541.44 L607.15 528.68 L607.42 457.34 L607.69 449.69 L607.96 586.65 L608.23 503.29 L608.5 502.63 L608.77 530 L609.04 506.31 L609.31 469.04 L609.58 472.23 L609.85 507.48 L610.12 505.66 L610.39 519.44 L610.66 557.5 L610.93 508.13 L611.2 494.54 L611.47 472.26 L611.74 483.57 L612.01 526.36 L612.28 531.47 L612.55 515.97 L612.82 519.07 L613.09 420.65 L613.36 453.68 L613.63 450.03 L613.9 557.2 L614.17 549.34 L614.44 514.67 L614.71 464.89 L614.98 473.25 L615.25 531.2 L615.52 452.83 L615.79 489.59 L616.06 534.35 L616.33 521.44 L616.6 529.56 L616.87 518.13 L617.14 553.73 L617.41 476.72 L617.68 461.02 L617.95 515.61 L618.22 541.95 L618.49 512.07 L618.76 529.02 L619.03 482.23 L619.3 470.22 L619.57 542.82 L619.84 554.12 L620.11 548.64 L620.38 495.22 L620.65 466.95 L620.92 469.68 L621.19 495.93 L621.46 531.29 L621.73 523.34 L622 475.42 L622.27 507.21 L622.54 508.87 L622.81 507.18 L623.08 506.03 L623.35 503.32 L623.62 575.65 L623.89 516.3 L624.16 513.75 L624.43 490.2 L624.7 517.49 L624.97 441.65 L625.24 460.4 L625.51 510.91 L625.78 509.57 L626.05 532.31 L626.32 512.62 L626.59 507.23 L626.86 513.32 L627.13 511.01 L627.4 486.08 L627.67 470.18 L627.94 542.14 L628.21 473.23 L628.48 489.06 L628.75 524.71 L629.02 514.6 L629.29 516.99 L629.56 530.99 L629.83 533.82 L630.1 527.99 L630.37 557.45 L630.64 485.87 L630.91 495.49 L631.18 494.64 L631.45 484.71 L631.72 519.63 L631.99 540.79 L632.26 485.05 L632.53 480.83 L632.8 519.95 L633.07 526.23 L633.34 552.07 L633.61 540.19 L633.88 512.86 L634.15 495.43 L634.42 508.94 L634.69 574.65 L634.96 472.67 L635.23 498.99 L635.5 502.4 L635.77 494.33 L636.04 504.37 L636.31 547.43 L636.58 536.68 L636.85 529.57 L637.12 489.27 L637.39 472.21 L637.66 492.36 L637.93 509.54 L638.2 500.47 L638.47 507.86 L638.74 537.03 L639.01 517.37 L639.28 484.28 L639.55 489.48 L639.82 490.85 L640.09 506.5 L640.36 483.01 L640.63 504.9 L640.9 530.17 L641.17 507.65 L641.44 481.73 L641.71 487.84 L641.98 510.1 L642.25 520.7 L642.52 530.27 L642.79 496.94 L643.06 476.73 L643.33 536.32 L643.6 521.18 L643.87 517 L644.14 513.06 L644.41 480.71 L644.68 500.44 L644.95 520.56 L645.22 539.19 L645.49 501.12 L645.76 452.14 L646.03 481.63 L646.3 514.9 L646.57 532.51 L646.84 534.67 L647.11 555.74 L647.38 542.71 L647.65 535.41 L647.92 517.94 L648.19 469.08 L648.46 515.8 L648.73 519.3 L649 493.77 L649.27 522.85 L649.54 517.7 L649.81 495.86 L650.08 500.97 L650.35 506.6 L650.62 513.48 L650.89 509.78 L651.16 516.92 L651.43 471.13 L651.7 489.29 L651.97 471.32 L652.24 491.83 L652.51 522.27 L652.78 512.78 L653.05 504.12 L653.32 518.48 L653.59 537.52 L653.86 489.98 L654.13 517.35 L654.4 474.4 L654.67 487.84 L654.94 511.06 L655.21 489.63 L655.48 519.67 L655.75 529.96 L656.02 486.14 L656.29 506.88 L656.56 445.65 L656.83 468.08 L657.1 491.99 L657.37 497.84 L657.64 528.08 L657.91 568.65 L658.18 533.17 L658.45 502.86 L658.72 536.57 L658.99 517.89 L659.26 505.13 L659.53 522.77 L659.8 527.83 L660.07 544.07 L660.34 544.16 L660.61 498.6 L660.88 467.47 L661.15 455.53 L661.42 491.34 L661.69 530.92 L661.96 525.93 L662.23 517.32 L662.5 502.55 L662.77 489.18 L663.04 504 L663.31 510.25 L663.58 477.85 L663.85 517.3 L664.12 484.83 L664.39 500.9 L664.66 499.59 L664.93 496.69 L665.2 479.88 L665.47 480.64 L665.74 494.78 L666.01 495.5 L666.28 553.16 L666.55 513.97 L666.82 490.6 L667.09 495.44 L667.36 476.68 L667.63 461.59 L667.9 503.67 L668.17 517.4 L668.44 481.56 L668.71 502.9 L668.98 483.19 L669.25 503.15 L669.52 517.46 L669.79 521.09 L670.06 513.01 L670.33 492.34 L670.6 519.1 L670.87 499.48 L671.14 512.87 L671.41 527.64 L671.68 498.55 L671.95 483.69 L672.22 515.34 L672.49 487.75 L672.76 484.46 L673.03 486.88 L673.3 523.07 L673.57 498.05 L673.84 464.46 L674.11 520.51 L674.38 550.81 L674.65 542.65 L674.92 496.73 L675.19 501.54 L675.46 514.36 L675.73 523.15 L676 506.18 L676.27 484.72 L676.54 523.48 L676.81 519.29 L677.08 478.15 L677.35 494.55 L677.62 512.36 L677.89 509.66 L678.16 524.08 L678.43 527.05 L678.7 518.13 L678.97 493.87 L679.24 474.9 L679.51 512.17 L679.78 537.89 L680.05 542.28 L680.32 504.94 L680.59 499 L680.86 534.23 L681.13 532.94 L681.4 517.4 L681.67 515.52 L681.94 492.8 L682.21 512.55 L682.48 495.67 L682.75 503.49 L683.02 510.62 L683.29 493.66 L683.56 467.75 L683.83 485.75 L684.1 515.55 L684.37 506.31 L684.64 503.14 L684.91 517.6 L685.18 527.89 L685.45 524.87 L685.72 495.48 L685.99 503.46 L686.26 499.72 L686.53 479.48 L686.8 477.13 L687.07 495.94 L687.34 498.33 L687.61 543.62 L687.88 516.06 L688.15 495.34 L688.42 506.1 L688.69 535.91 L688.96 492.02 L689.23 493.43 L689.5 492.4 L689.77 496.42 L690.04 509.97 L690.31 525.05 L690.58 482.24 L690.85 509.47 L691.12 541.89 L691.39 501.62 L691.66 502 L691.93 483.99 L692.2 461.92 L692.47 504.19 L692.74 535.51 L693.01 496.72 L693.28 472.9 L693.55 507.4 L693.82 511.97 L694.09 531.07 L694.36 526.69 L694.63 503.29 L694.9 500.25 L695.17 471.43 L695.44 518.12 L695.71 517.07 L695.98 531.94 L696.25 534.46 L696.52 503.35 L696.79 501.14 L697.06 482.8 L697.33 466.57 L697.6 501.13 L697.87 510.48 L698.14 492.83 L698.41 524.44 L698.68 515.46 L698.95 514.53 L699.22 486.64 L699.49 472.61 L699.76 519.21 L700.03 523.96 L700.3 507.45 L700.57 502.79 L700.84 500.76 L701.11 507.39 L701.38 491.49 L701.65 475.69 L701.92 516.22 L702.19 486.22 L702.46 494.21 L702.73 506.03 L703 502.53 L703.27 480.2 L703.54 528.16 L703.81 530 L704.08 525.45 L704.35 550.25 L704.62 480.23 L704.89 456.19 L705.16 504.59 L705.43 538.05 L705.7 535.21 L705.97 504.88 L706.24 507.25 L706.51 504.89 L706.78 472.09 L707.05 483.76 L707.32 500.68 L707.59 533.87 L707.86 504.49 L708.13 535.22 L708.4 502.69 L708.67 476.29 L708.94 537.41 L709.21 493.59 L709.48 516.93 L709.75 540.71 L710.02 496.56 L710.29 485.96 L710.56 526.12 L710.83 508.97 L711.1 481.96 L711.37 481.9 L711.64 497.05 L711.91 519.51 L712.18 501.35 L712.45 518.03 L712.72 538.17 L712.99 529.72 L713.26 534.25 L713.53 521.75 L713.8 479.3 L714.07 523.33 L714.34 519.02 L714.61 503.45 L714.88 488.93 L715.15 476.91 L715.42 488.45 L715.69 506.32 L715.96 490.15 L716.23 491.02 L716.5 498.74 L716.77 519.5 L717.04 503.19 L717.31 508.53 L717.58 528.92 L717.85 505.15 L718.12 510.88 L718.39 489.82 L718.66 509.1 L718.93 512.83 L719.2 509.5 L719.47 495.74 L719.74 485.04 L720.01 497.09 L720.28 499.17 L720.55 529.08 L720.82 524 L721.09 489.79 L721.36 513.45 L721.63 499.49 L721.9 512.09 L722.17 498.11 L722.44 485.32 L722.71 528.97 L722.98 523.11 L723.25 484.5 L723.52 474.22 L723.79 489.72 L724.06 484.98 L724.33 497.63 L724.6 525.42 L724.87 534.74 L725.14 509.83 L725.41 530.46 L725.68 527.47 L725.95 485.92 L726.22 471.79 L726.49 509.41 L726.76 520.13 L727.03 545.65 L727.3 536.12 L727.57 523.3 L727.84 527.93 L728.11 485.57 L728.38 501.55 L728.65 504.13 L728.92 539.25 L729.19 513.57 L729.46 465.06 L729.73 520.27 L730 498.56 L730.27 515.93 L730.54 506.07 L730.81 509.41 L731.08 521.28 L731.35 505.96 L731.62 491.36 L731.89 528.02 L732.16 513.44 L732.43 505.2 L732.7 513.92 L732.97 500.93 L733.24 536.69 L733.51 518.21 L733.78 512.86 L734.05 511.56 L734.32 483.68 L734.59 482.48 L734.86 553.15 L735.13 517.99 L735.4 532.62 L735.67 515 L735.94 486.15 L736.21 513.42 L736.48 522.22 L736.75 527.89 L737.02 510.48 L737.29 490.5 L737.56 520.02 L737.83 500.47 L738.1 505.65 L738.37 482.84 L738.64 509.64 L738.91 499.88 L739.18 527.73 L739.45 544.89 L739.72 527.52 L739.99 485.76 L740.26 480.21 L740.53 487.76 L740.8 513.77 L741.07 514.83 L741.34 507.69 L741.61 513.05 L741.88 515.74 L742.15 525.22 L742.42 536.92 L742.69 514.14 L742.96 505.87 L743.23 473.97 L743.5 477.22 L743.77 492.06 L744.04 488.54 L744.31 518.74 L744.58 531.21 L744.85 505.48 L745.12 496.16 L745.39 497.43 L745.66 503.87 L745.93 497.62 L746.2 512.66 L746.47 513.11 L746.74 511.14 L747.01 518.53 L747.28 502.99 L747.55 510.42 L747.82 533.9 L748.09 511.5 L748.36 519.75 L748.63 509.66 L748.9 496.79 L749.17 496.03 L749.44 491.06 L749.71 505.24 L749.98 494.69 L750.25 502.32 L750.52 527.01 L750.79 511.52 L751.06 523.36 L751.33 511.99 L751.6 513.04 L751.87 489.24 L752.14 506.52 L752.41 545.09 L752.68 527.61 L752.95 522.12 L753.22 512.35 L753.49 512.56 L753.76 482.35 L754.03 485.61 L754.3 515.66 L754.57 522.94 L754.84 505.59 L755.11 454.65 L755.38 504.09 L755.65 504.88 L755.92 487.17 L756.19 485.85 L756.46 505.04 L756.73 481.11 L757 490.5 L757.27 497.59 L757.54 494.24 L757.81 513.69 L758.08 504.64 L758.35 504.29 L758.62 488.92 L758.89 491.87 L759.16 515.57 L759.43 512.25 L759.7 497.34 L759.97 510.79 L760.24 506.46 L760.51 511.04 L760.78 530.72 L761.05 503.13 L761.32 509.27 L761.59 513.4 L761.86 495.11 L762.13 485.85 L762.4 515.02 L762.67 515.22 L762.94 508.18 L763.21 512.67 L763.48 505.82 L763.75 496.79 L764.02 506.01 L764.29 481.02 L764.56 499.26 L764.83 484.8 L765.1 499.82 L765.37 523.86 L765.64 504.28 L765.91 500.61 L766.18 511.36 L766.45 500.05 L766.72 492.68 L766.99 502.53 L767.26 530.33 L767.53 525.72 L767.8 510.07 L768.07 489.81 L768.34 504.73 L768.61 488.38 L768.88 502.61 L769.15 497.31 L769.42 531.46 L769.69 487.07 L769.96 521.64 L770.23 519.7 L770.5 475.67 L770.77 501.8 L771.04 536.43 L771.31 527.82 L771.58 482.53 L771.85 489.54 L772.12 483.67 L772.39 482.93 L772.66 500.66 L772.93 537.34 L773.2 515.33 L773.47 501.06 L773.74 499.54 L774.01 518.34 L774.28 514.87 L774.55 494.77 L774.82 523.48 L775.09 489.62 L775.36 493.6 L775.63 516.48 L775.9 530.41 L776.17 500.26 L776.44 506.99 L776.71 525.11 L776.98 514.91 L777.25 522.57 L777.52 521.43 L777.79 507.39 L778.06 517.42 L778.33 518.95 L778.6 509.31 L778.87 525.96 L779.14 474.18 L779.41 485.28 L779.68 529.53 L779.95 514.77 L780.22 495.41 L780.49 514.88 L780.76 521.89 L781.03 498.58 L781.3 514.72 L781.57 505.99 L781.84 500.12 L782.11 508.69 L782.38 523.84 L782.65 491.15 L782.92 499.65 L783.19 517.29 L783.46 484.12 L783.73 480.05 L784 514.72 L784.27 506.14 L784.54 507.11 L784.81 506.4 L785.08 500.67 L785.35 545.16 L785.62 496.07 L785.89 489.04 L786.16 479.6 L786.43 495.32 L786.7 528.7 L786.97 512.36 L787.24 514.02 L787.51 502.28 L787.78 532.26 L788.05 506.2 L788.32 483.42 L788.59 512.03 L788.86 501.7 L789.13 514.95 L789.4 513.34 L789.67 510.02 L789.94 507.8 L790.21 485.39 L790.48 483.28 L790.75 521.91 L791.02 512 L791.29 511.92 L791.56 499.48 L791.83 471.79 L792.1 488.21 L792.37 528.8 L792.64 502.11 L792.91 498.17 L793.18 485.27 L793.45 494.94 L793.72 502.17 L793.99 504.63 L794.26 505.96 L794.53 494.66 L794.8 492.2 L795.07 504.23 L795.34 507.85 L795.61 507.97 L795.88 531.95 L796.15 515.77 L796.42 505.43 L796.69 499.64 L796.96 518.06 L797.23 489.83 L797.5 474.57 L797.77 492.38 L798.04 513.92 L798.31 496.03 L798.58 527.39 L798.85 511.1 L799.12 480.33 L799.39 504.21 L799.66 531.42 L799.93 491.32 L800.2 482.13 L800.47 514.13 L800.74 528.31 L801.01 521.06 L801.28 497.32 L801.55 502.5 L801.82 505.71 L802.09 526.12 L802.36 537.02 L802.63 510.84 L802.9 522.19 L803.17 502.88 L803.44 509.16 L803.71 488.84 L803.98 492.06 L804.25 510.63 L804.52 497.08 L804.79 519.88 L805.06 500.91 L805.33 502.69 L805.6 500.16 L805.87 454.65 L806.14 505.35 L806.41 556.65 L806.68 548.34 L806.95 493.1 L807.22 504.16 L807.49 499.54 L807.76 487.13 L808.03 509 L808.3 492.55 L808.57 509.31 L808.84 524.38 L809.11 478.3 L809.38 506.33 L809.65 513.29 L809.92 489.82 L810.19 515.32 L810.46 511.43 L810.73 504.73 L811 522.4 L811.27 489.31 L811.54 512.45 L811.81 502.08 L812.08 488.74 L812.35 500.68 L812.62 504.96 L812.89 514.47 L813.16 486.33 L813.43 495.47 L813.7 506.68 L813.97 525.67 L814.24 497.48 L814.51 514.66 L814.78 484.94 L815.05 507.25 L815.32 511.6 L815.59 511.14 L815.86 495.02 L816.13 471.93 L816.4 481.61 L816.67 528.63 L816.94 515.76 L817.21 498.4 L817.48 518.63 L817.75 492.63 L818.02 486.26 L818.29 484.38 L818.56 524.92 L818.83 535.2 L819.1 494.85 L819.37 506.51 L819.64 527.66 L819.91 533.05 L820.18 472.5 L820.45 501.62 L820.72 512.69 L820.99 482.84 L821.26 509.92 L821.53 515.42 L821.8 515.58 L822.07 501.13 L822.34 509.25 L822.61 499.5 L822.88 511.09 L823.15 509.02 L823.42 492.01 L823.69 485.13 L823.96 528.58 L824.23 528.21 L824.5 517.55 L824.77 493.64 L825.04 496.93 L825.31 531.4 L825.58 517.64 L825.85 492.07 L826.12 501.52 L826.39 506.41 L826.66 497.77 L826.93 495.01 L827.2 526.76 L827.47 521.09 L827.74 498.16 L828.01 479.12 L828.28 488.13 L828.55 507.28 L828.82 520.71 L829.09 512.16 L829.36 528.38 L829.63 517.08 L829.9 488.55 L830.17 465.46 L830.44 478.02 L830.71 483.41 L830.98 503.57 L831.25 518.63 L831.52 531.75 L831.79 506.04 L832.06 491.12 L832.33 539.31 L832.6 513.64 L832.87 497.58 L833.14 492.84 L833.41 479.47 L833.68 507 L833.95 513.74 L834.22 531.25 L834.49 527.69 L834.76 522.3 L835.03 525.48 L835.3 498.41 L835.57 494.61 L835.84 498.36 L836.11 485.8 L836.38 501.68 L836.65 505.11 L836.92 519.18 L837.19 507.92 L837.46 477.78 L837.73 509.86 L838 556.65 L838.27 481.89 L838.54 493.59 L838.81 507.54 L839.08 485.26 L839.35 499.02 L839.62 507.96 L839.89 488.25 L840.16 511.39 L840.43 513.16 L840.7 485.37 L840.97 505.95 L841.24 522.81 L841.51 504.05 L841.78 513.25 L842.05 516.26 L842.32 502.21 L842.59 520.1 L842.86 509.48 L843.13 489.15 L843.4 511.12 L843.67 521.25 L843.94 515.74 L844.21 493.7 L844.48 510.01 L844.75 525.54 L845.02 510.02 L845.29 525.41 L845.56 525.11 L845.83 506.18 L846.1 511.88 L846.37 503.39 L846.64 520.21 L846.91 505.59 L847.18 496 L847.45 507.06 L847.72 507.6 L847.99 516.41 L848.26 513.95 L848.53 486.42 L848.8 489.57 L849.07 509.7 L849.34 510.94 L849.61 511.72 L849.88 543.94 L850.15 526.86 L850.42 504.68 L850.69 516.58 L850.96 526.88 L851.23 505.03 L851.5 479.27 L851.77 498.5 L852.04 514.61 L852.31 532.5 L852.58 488.01 L852.85 523.05 L853.12 509.75 L853.39 514.46 L853.66 502 L853.93 507.75 L854.2 524.21 L854.47 511.87 L854.74 523.11 L855.01 505.99 L855.28 496.83 L855.55 502.67 L855.82 498.71 L856.09 509 L856.36 526.29 L856.63 485.58 L856.9 474.14 L857.17 503.03 L857.44 533.27 L857.71 529.7 L857.98 535.07 L858.25 527.37 L858.52 497.41 L858.79 500.73 L859.06 470.34 L859.33 496.6 L859.6 519.39 L859.87 481.8 L860.14 471.25 L860.41 483.44 L860.68 512.78 L860.95 535.36 L861.22 550.16 L861.49 533.64 L861.76 480.26 L862.03 468.09 L862.3 507.05 L862.57 522.51 L862.84 486.58 L863.11 496.55 L863.38 501.32 L863.65 504.75 L863.92 504.75 L864.19 516.14 L864.46 526.36 L864.73 510.18 L865 522.27 L865.27 533.25 L865.54 488.2 L865.81 482.24 L866.08 515.9 L866.35 533.35 L866.62 517.67 L866.89 521.62 L867.16 506.07 L867.43 513.34 L867.7 496.88 L867.97 512.4 L868.24 515.66 L868.51 514.97 L868.78 533.34 L869.05 521.75 L869.32 497.4 L869.59 509.89 L869.86 479.53 L870.13 520.81 L870.4 547.28 L870.67 521.15 L870.94 513.29 L871.21 509.5 L871.48 515.06 L871.75 502.12 L872.02 516.26 L872.29 505.79 L872.56 498.29 L872.83 511.73 L873.1 503.13 L873.37 485.28 L873.64 537.36 L873.91 511.55 L874.18 483.03 L874.45 524.58 L874.72 514.77 L874.99 514.2 L875.26 522.84 L875.53 488.24 L875.8 466.3 L876.07 500.7 L876.34 518.91 L876.61 526 L876.88 502.64 L877.15 503.91 L877.42 515.05 L877.69 500.6 L877.96 506.12 L878.23 509 L878.5 499.15 L878.77 529.2 L879.04 498.31 L879.31 502.29 L879.58 499.52 L879.85 492.46 L880.12 516.06 L880.39 527.18 L880.66 534.57 L880.93 517.12 L881.2 501.76 L881.47 513.81 L881.74 486.36 L882.01 505.36 L882.28 520.5 L882.55 519.22 L882.82 491.49 L883.09 489.6 L883.36 533.14 L883.63 502.33 L883.9 479.48 L884.17 485.15 L884.44 508.2 L884.71 525.62 L884.98 513.51 L885.25 526.29 L885.52 513.16 L885.79 514.61 L886.06 521.33 L886.33 455.65 L886.6 509.84 L886.87 554.15 L887.14 499.09 L887.41 516.2 L887.68 498.58 L887.95 504.51 L888.22 496.29 L888.49 500.9 L888.76 502.18 L889.03 528.05 L889.3 516.05 L889.57 520.43 L889.84 530.25 L890.11 470.01 L890.38 477.22 L890.65 469.39 L890.92 502.99 L891.19 520.68 L891.46 523.16 L891.73 513.3 L892 498.48 L892.27 531.19 L892.54 516.07 L892.81 497.82 L893.08 489.82 L893.35 508.38 L893.62 499.75 L893.89 498.2 L894.16 514.53 L894.43 510.29 L894.7 499.33 L894.97 523.88 L895.24 492.28 L895.51 487.01 L895.78 512.27 L896.05 512.68 L896.32 511.37 L896.59 503.96 L896.86 509.67 L897.13 495.12 L897.4 482.55 L897.67 512.9 L897.94 462.65 L898.21 504.08 L898.48 518.84 L898.75 516.14 L899.02 541.85 L899.29 488.79 L899.56 487.53 L899.83 508.97 L900.1 527.14 L900.37 502.22 L900.64 486.77 L900.91 520.88 L901.18 494.14 L901.45 502.82 L901.72 521.64 L901.99 496.76 L902.26 500.79 L902.53 515.43 L902.8 508.93 L903.07 511.05 L903.34 492.77 L903.61 500.09 L903.88 484.6 L904.15 484.65 L904.42 532.72 L904.69 524.21 L904.96 521.8 L905.23 494.85 L905.5 503.84 L905.77 500.36 L906.04 487.06 L906.31 511.33 L906.58 499.25 L906.85 497.87 L907.12 487.94 L907.39 521.01 L907.66 523.91 L907.93 511.99 L908.2 490.95 L908.47 496.73 L908.74 523.64 L909.01 504.12 L909.28 513.43 L909.55 507.09 L909.82 495.31 L910.09 525.3 L910.36 482.59 L910.63 506.6 L910.9 506.65 L911.17 483.35 L911.44 512.24 L911.71 518.01 L911.98 505.82 L912.25 491.74 L912.52 511.11 L912.79 520.7 L913.06 511.83 L913.33 532.41 L913.6 522.37 L913.87 518.67 L914.14 523.33 L914.41 490 L914.68 490.36 L914.95 509.77 L915.22 546.65 L915.49 532.24 L915.76 527.62 L916.03 510.44 L916.3 506.3 L916.57 499.62 L916.84 496.33 L917.11 501.22 L917.38 521.18 L917.65 504.13 L917.92 504.85 L918.19 510.8 L918.46 502.18 L918.73 498.66 L919 477.58 L919.27 509.91 L919.54 504.34 L919.81 513 L920.08 510 L920.35 486.89 L920.62 537.64 L920.89 518.61 L921.16 502.67 L921.43 482.03 L921.7 510.51 L921.97 460.65 L922.24 501.76 L922.51 514.77 L922.78 527.11 L923.05 500.07 L923.32 490.61 L923.59 525.32 L923.86 510.86 L924.13 508.95 L924.4 540.53 L924.67 513.94 L924.94 503.37 L925.21 511.02 L925.48 501.1 L925.75 510.96 L926.02 509.99 L926.29 496.91 L926.56 502.17 L926.83 513.07 L927.1 515.15 L927.37 520.44 L927.64 546.65 L927.91 514.57 L928.18 515.53 L928.45 499.35 L928.72 501.9 L928.99 519.47 L929.26 477.88 L929.53 519.48 L929.8 546.49 L930.07 488.16 L930.34 518.1 L930.61 485.7 L930.88 508.5 L931.15 539.61 L931.42 531.46 L931.69 496.64 L931.96 480.36 L932.23 484.01 L932.5 512.56 L932.77 505.37 L933.04 508.19 L933.31 516.98 L933.58 514.77 L933.85 521.27 L934.12 503.68 L934.39 489.11 L934.66 518.39 L934.93 476.39 L935.2 518.73 L935.47 507.19 L935.74 501.85 L936.01 503.56 L936.28 499.96 L936.55 508.52 L936.82 498.49 L937.09 493.25 L937.36 515.88 L937.63 503.82 L937.9 524.7 L938.17 507.22 L938.44 492.55 L938.71 513.32 L938.98 518.97 L939.25 492.77 L939.52 505.06 L939.79 530.58 L940.06 497.52 L940.33 497.19 L940.6 510.94 L940.87 486.24 L941.14 469.07 L941.41 481.28 L941.68 515.9 L941.95 523.23 L942.22 522.21 L942.49 512.91 L942.76 487.17 L943.03 515.09 L943.3 522.38 L943.57 498.81 L943.84 519.13 L944.11 501.97 L944.38 509.69 L944.65 508.97 L944.92 488.75 L945.19 523.76 L945.46 497.64 L945.73 499.13 L946 499.13 L946.27 512.48 L946.54 515.88 L946.81 515.03 L947.08 531.4 L947.35 518.47 L947.62 496.18 L947.89 468.6 L948.16 495.86 L948.43 502.28 L948.7 490.08 L948.97 494.78 L949.24 517.95 L949.51 528.94 L949.78 539.82 L950.05 525.44 L950.32 496.86 L950.59 502.55 L950.86 486.85 L951.13 516.14 L951.4 515.97 L951.67 496.24 L951.94 501.08 L952.21 497.21 L952.48 493.8 L952.75 529.72 L953.02 549.05 L953.29 523.24 L953.56 520.37 L953.83 502.47 L954.1 499.53 L954.37 532.17 L954.64 504.88 L954.91 508.11 L955.18 508.95 L955.45 512.68 L955.72 509.73 L955.99 513.39 L956.26 488.71 L956.53 503.51 L956.8 526.22 L957.07 490.19 L957.34 499.62 L957.61 528.39 L957.88 523.64 L958.15 520.58 L958.42 479.23 L958.69 500.43 L958.96 489.29 L959.23 485.71 L959.5 522.33 L959.77 528.88 L960.04 489.93 L960.31 485.55 L960.58 498.52 L960.85 499.1 L961.12 492.62 L961.39 536.17 L961.66 519.29 L961.93 494.46 L962.2 497.93 L962.47 538.41 L962.74 539.67 L963.01 499.24 L963.28 510.06 L963.55 521.56 L963.82 486.39 L964.09 498.8 L964.36 527.59 L964.63 500.78 L964.9 499.57 L965.17 488.3 L965.44 496.5 L965.71 517.07 L965.98 496.09 L966.25 485.04 L966.52 500.26 L966.79 533.46 L967.06 514.32 L967.33 500.35 L967.6 509.39 L967.87 514.92 L968.14 503.67 L968.41 481.94 L968.68 505.99 L968.95 510.46 L969.22 517.67 L969.49 492.87 L969.76 520.94 L970.03 497.74 L970.3 481.64 L970.57 520.77 L970.84 500.39 L971.11 505.73 L971.38 506.43 L971.65 523.9 L971.92 528.76 L972.19 527.04 L972.46 517.06 L972.73 477.75 L973 478.24 L973.27 506.05 L973.54 498.55 L973.81 520.04 L974.08 516.07 L974.35 487.19 L974.62 487.65 L974.89 486.62 L975.16 492.27 L975.43 505.02 L975.7 521.44 L975.97 526.91 L976.24 492.3 L976.51 465.65 L976.78 531.31 L977.05 525.07 L977.32 506.42 L977.59 469.92 L977.86 484.47 L978.13 503.97 L978.4 505.39 L978.67 538.38 L978.94 519.6 L979.21 510.11 L979.48 489.88 L979.75 485.03 L980.02 493.43 L980.29 495.39 L980.56 507.04 L980.83 514.28 L981.1 516.12 L981.37 517.5 L981.64 487.81 L981.91 502.92 L982.18 515.11 L982.45 527.85 L982.72 508.63 L982.99 507.83 L983.26 495.59 L983.53 511.08 L983.8 513.74 L984.07 498.2 L984.34 498.52 L984.61 508.04 L984.88 509.91 L985.15 491.55 L985.42 514.73 L985.69 506.67 L985.96 532.01 L986.23 530.15 L986.5 494.47 L986.77 497.43 L987.04 537.14 L987.31 519.57 L987.58 511.16 L987.85 498.76 L988.12 499.5 L988.39 518.43 L988.66 514.02 L988.93 495.79 L989.2 524.03 L989.47 509.44 L989.74 493.11 L990.01 518.25 L990.28 510.34 L990.55 516.04 L990.82 506.18 L991.09 508.19 L991.36 490.41 L991.63 506.43 L991.9 490.41 L992.17 500.35 L992.44 473.92 L992.71 501.71 L992.98 519.73 L993.25 517.85 L993.52 524.2 L993.79 494.76 L994.06 529.75 L994.33 530.83 L994.6 488.22 L994.87 491.79 L995.14 496.45 L995.41 508.83 L995.68 507.46 L995.95 475.92 L996.22 512.89 L996.49 503.2 L996.76 492.36 L997.03 518.96 L997.3 504.42 L997.57 522.19 L997.84 516.5 L998.11 504.03 L998.38 525.24 L998.65 519.49 L998.92 494.12 L999.19 476.94 L999.46 493.44 L999.73 511.6 L1000 508.07 L1000.27 533.42 L1000.54 516.18 L1000.81 511.51 L1001.08 514.16 L1001.35 495.23 L1001.62 503.39 L1001.89 495.49 L1002.16 471.91 L1002.43 483.38 L1002.7 519.66 L1002.97 472.05 L1003.24 505.12 L1003.51 486.15 L1003.78 494.89 L1004.05 542.65 L1004.32 541.75 L1004.59 501.76 L1004.86 529.76 L1005.13 506.72 L1005.4 504.91 L1005.67 520.44 L1005.94 486.36 L1006.21 509.05 L1006.48 492.95 L1006.75 490.21 L1007.02 497.27 L1007.29 505.75 L1007.56 508.25 L1007.83 508.6 L1008.1 510.71 L1008.37 528.76 L1008.64 533.59 L1008.91 518.26 L1009.18 515.53 L1009.45 493.8 L1009.72 486.87 L1009.99 507.62 L1010.26 512.24 L1010.53 512.16 L1010.8 488.62 L1011.07 538.09 L1011.34 496.22 L1011.61 508.92 L1011.88 526.36 L1012.15 491.67 L1012.42 495.32 L1012.69 478.91 L1012.96 480.04 L1013.23 479.1 L1013.5 507.96 L1013.77 515.18 L1014.04 507.61 L1014.31 529.88 L1014.58 529.79 L1014.85 504.75 L1015.12 499.18 L1015.39 496.54 L1015.66 499.22 L1015.93 524.77 L1016.2 513.62 L1016.47 499.67 L1016.74 502.97 L1017.01 509.79 L1017.28 500.5 L1017.55 509.44 L1017.82 509.59 L1018.09 528.84 L1018.36 523.89 L1018.63 483.98 L1018.9 499.83 L1019.17 513.3 L1019.44 500.44 L1019.71 517.58 L1019.98 515.72 L1020.25 517.11 L1020.52 546.75 L1020.79 513.66 L1021.06 510.93 L1021.33 483.67 L1021.6 485.22 L1021.87 494.58 L1022.14 531.48 L1022.41 520.27 L1022.68 513.78 L1022.95 510.42 L1023.22 492.37 L1023.49 494.11 L1023.76 514.62 L1024.03 507.11 L1024.3 528.97 L1024.57 513.26 L1024.84 501.97 L1025.11 498.44 L1025.38 499.99 L1025.65 505.56 L1025.92 532.75 L1026.19 539.72 L1026.46 493.79 L1026.73 509.42 L1027 518.76 L1027.27 491.95 L1027.54 497.75 L1027.81 495.45 L1028.08 475.29 L1028.35 512.96 L1028.62 508.7 L1028.89 504.88 L1029.16 507.05 L1029.43 514.87 L1029.7 537.46 L1029.97 515.34 L1030.24 515.16 L1030.51 500.93 L1030.78 507.16 L1031.05 501.59 L1031.32 500.23 L1031.59 491.08 L1031.86 494.38 L1032.13 516.36 L1032.4 525.53 L1032.67 515.51 L1032.94 501.64 L1033.21 502.48 L1033.48 473.12 L1033.75 514.01 L1034.02 510 L1034.29 513.55 L1034.56 524.79 L1034.83 504.22 L1035.1 515.61 L1035.37 500.61 L1035.64 510.08 L1035.91 501.22 L1036.18 511.99 L1036.45 526.13 L1036.72 494.22 L1036.99 493.41 L1037.26 500.36 L1037.53 518.53 L1037.8 546.37 L1038.07 503.02 L1038.34 476.66 L1038.61 492.55 L1038.88 484.04 L1039.15 502.04 L1039.42 512.27 L1039.69 498.67 L1039.96 493.34 L1040.23 481.93 L1040.5 505.72 L1040.77 501.48 L1041.04 526.24 L1041.31 526.44 L1041.58 496.06 L1041.85 497.44 L1042.12 506.97 L1042.39 512.63 L1042.66 482.2 L1042.93 506.16 L1043.2 535.16 L1043.47 508.57 L1043.74 509.76 L1044.01 502.11 L1044.28 487.3 L1044.55 516.9 L1044.82 514.97 L1045.09 510.05 L1045.36 523.19 L1045.63 515.39 L1045.9 482.7 L1046.17 508.16 L1046.44 501.02 L1046.71 506.74 L1046.98 497.14 L1047.25 495.49 L1047.52 522.3 L1047.79 511.86 L1048.06 506.82 L1048.33 506.63 L1048.6 511.55 L1048.87 503.14 L1049.14 473.04 L1049.41 489.06 L1049.68 503.04 L1049.95 522.89 L1050.22 527.79 L1050.49 501.67 L1050.76 531.88 L1051.03 512.25 L1051.3 509.69 L1051.57 495.78 L1051.84 495.58 L1052.11 524.88 L1052.38 507.25 L1052.65 506.09 L1052.92 528.84 L1053.19 527.46 L1053.46 483.02 L1053.73 494.55 L1054 505.16 L1054.27 533.16 L1054.54 541.04 L1054.81 507.59 L1055.08 508 L1055.35 520.93 L1055.62 523.57 L1055.89 507.31 L1056.16 519.43 L1056.43 494.8 L1056.7 469.92 L1056.97 487.37 L1057.24 519.69 L1057.51 526.62 L1057.78 480.76 L1058.05 485.01 L1058.32 504.37 L1058.59 471.75 L1058.86 518.77 L1059.13 549.75 L1059.4 472.72 L1059.67 513.66 L1059.94 512.02 L1060.21 525.81 L1060.48 515.96 L1060.75 501.94 L1061.02 511.39 L1061.29 519.57 L1061.56 512.15 L1061.83 501.26 L1062.1 486.76 L1062.37 509.1 L1062.64 515.37 L1062.91 533.93 L1063.18 514.61 L1063.45 502.73 L1063.72 497.17 L1063.99 513.49 L1064.26 503.53 L1064.53 499.36 L1064.8 533.58 L1065.07 536.17 L1065.34 496.61 L1065.61 492.07 L1065.88 515.4 L1066.15 503.93 L1066.42 541.82 L1066.69 516.62 L1066.96 514.98 L1067.23 488.73 L1067.5 498.8 L1067.77 524.2 L1068.04 512.38 L1068.31 506.43 L1068.58 541.33 L1068.85 522.93 L1069.12 502.42 L1069.39 496.08 L1069.66 505.05 L1069.93 524.72 L1070.2 500.9 L1070.47 503.39 L1070.74 499.94 L1071.01 523.53 L1071.28 510.74 L1071.55 521.32 L1071.82 517.66 L1072.09 496.71 L1072.36 514.16 L1072.63 517.78 L1072.9 488.05 L1073.17 545.75 L1073.44 550.94 L1073.71 512.12 L1073.98 509.38 L1074.25 489.76 L1074.52 505.99 L1074.79 501.71 L1075.06 519.6 L1075.33 467.75 L1075.6 494.21 L1075.87 525.24 L1076.14 506.71 L1076.41 493.64 L1076.68 507.13 L1076.95 495.72 L1077.22 515.04 L1077.49 509.57 L1077.76 508.02 L1078.03 514.12 L1078.3 495.11 L1078.57 514.31 L1078.84 486.72 L1079.11 527.23 L1079.38 518.42 L1079.65 500.8 L1079.92 498.89 L1080.19 514.23 L1080.46 506.39 L1080.73 506.73 L1081 522.69 L1081.27 502.59 L1081.54 502.38 L1081.81 516.03 L1082.08 522.45 L1082.35 506.29 L1082.62 509.18 L1082.89 509.03 L1083.16 521.69 L1083.43 527.79 L1083.7 493.72 L1083.97 500.03 L1084.24 505.38 L1084.51 517.64 L1084.78 532.67 L1085.05 512.27 L1085.32 515.27 L1085.59 523.57 L1085.86 489.38 L1086.13 491.95 L1086.4 499.84 L1086.67 509.66 L1086.94 511.55 L1087.21 506.02 L1087.48 531.05 L1087.75 499.29 L1088.02 501.52 L1088.29 523.72 L1088.56 518.76 L1088.83 506.73 L1089.1 514.95 L1089.37 519.72 L1089.64 513.25 L1089.91 516.84 L1090.18 499.25 L1090.45 502.94 L1090.72 485.51 L1090.99 488.54 L1091.26 497.73 L1091.53 526.88 L1091.8 511.56 L1092.07 512.59 L1092.34 497.67 L1092.61 503.1 L1092.88 500.39 L1093.15 494.28 L1093.42 516.12 L1093.69 485.08 L1093.96 521.93 L1094.23 544.88 L1094.5 503.57 L1094.77 501.25 L1095.04 487.7 L1095.31 500.18 L1095.58 489.43 L1095.85 519.05 L1096.12 505.74 L1096.39 480.45 L1096.66 486.47 L1096.93 484.88 L1097.2 507.9 L1097.47 526.51 L1097.74 508.49 L1098.01 489.66 L1098.28 496.8 L1098.55 504.63 L1098.82 475.83 L1099.09 517.64 L1099.36 512.96 L1099.63 477.47 L1099.9 521.36 L1100.17 490.02 L1100.44 507.12 L1100.71 529.1 L1100.98 485.12 L1101.25 478.77 L1101.52 488.64 L1101.79 492.63 L1102.06 507.74 L1102.33 505.01 L1102.6 501.93 L1102.87 502.58 L1103.14 503.63 L1103.41 494.69 L1103.68 513.54 L1103.95 505.54 L1104.22 498.07 L1104.49 553.65 L1104.76 493.87 L1105.03 510.03 L1105.3 496.77 L1105.57 468.05 L1105.84 513.48 L1106.11 522.79 L1106.38 525.74 L1106.65 501.49 L1106.92 540.42 L1107.19 514.34 L1107.46 483.49 L1107.73 484.75 L1108 535.99 L1108.27 533.91 L1108.54 508.51 L1108.81 519.94 L1109.08 525.01 L1109.35 506.57 L1109.62 498.36 L1109.89 507.11 L1110.16 522.92 L1110.43 507.67 L1110.7 491.66 L1110.97 513.42 L1111.24 481.43 L1111.51 493.25 L1111.78 526.5 L1112.05 515.49 L1112.32 514.2 L1112.59 515.14 L1112.86 528.7 L1113.13 507.01 L1113.4 480.82 L1113.67 501.54 L1113.94 465.39 L1114.21 475.63 L1114.48 534.35 L1114.75 528.88 L1115.02 506.49 L1115.29 507.58 L1115.56 511.59 L1115.83 519.8 L1116.1 495.29 L1116.37 489.77 L1116.64 495.96 L1116.91 510.4 L1117.18 512.92 L1117.45 507.78 L1117.72 518.38 L1117.99 494.37 L1118.26 503.46 L1118.53 496.72 L1118.8 495.07 L1119.07 527.75 L1119.34 504.93 L1119.61 492.26 L1119.88 504.07 L1120.15 494.37 L1120.42 515.54 L1120.69 525.16 L1120.96 521.34 L1121.23 489.33 L1121.5 502.61 L1121.77 531.64 L1122.04 505.58 L1122.31 526.51 L1122.58 525.15 L1122.85 484.97 L1123.12 517.54 L1123.39 519.02 L1123.66 520.08 L1123.93 468.75 L1124.2 514.69 L1124.47 538.75 L1124.74 511.41 L1125.01 504.3 L1125.28 505.42 L1125.55 483.12 L1125.82 526.23 L1126.09 507.37 L1126.36 514.96 L1126.63 519.08 L1126.9 510.08 L1127.17 512.12 L1127.44 506.94 L1127.71 482.62 L1127.98 468.75 L1128.25 522.59 L1128.52 488.66 L1128.79 491.95 L1129.06 536.04 L1129.33 530.35 L1129.6 528.74 L1129.87 508.47 L1130.14 509.48 L1130.41 519.04 L1130.68 517.39 L1130.95 502.43 L1131.22 485.19 L1131.49 488.45 L1131.76 488.46 L1132.03 528.31 L1132.3 508.67 L1132.57 505.96 L1132.84 514.7 L1133.11 507.59 L1133.38 516.03 L1133.65 494.64 L1133.92 488.83 L1134.19 529.91 L1134.46 502.07 L1134.73 496.19 L1135 496.82 L1135.27 496.11 L1135.54 511.42 L1135.81 516.88 L1136.08 496.92 L1136.35 506.75 L1136.62 502.6 L1136.89 521.32 L1137.16 492.88 L1137.43 508.37 L1137.7 518.28 L1137.97 487.92 L1138.24 506.51 L1138.51 509.31 L1138.78 494.22 L1139.05 504.93 L1139.32 522.03 L1139.59 509.64 L1139.86 496.26 L1140.13 498.61 L1140.4 510.85 L1140.67 527.46 L1140.94 522.77 L1141.21 525.75 L1141.48 528.59 L1141.75 486.83 L1142.02 476.61 L1142.29 477.33 L1142.56 513.63 L1142.83 482.36 L1143.1 509.65 L1143.37 523.6 L1143.64 490.58 L1143.91 495.32 L1144.18 506.49 L1144.45 513.89 L1144.72 486.83 L1144.99 508.05 L1145.26 519.08 L1145.53 507.87 L1145.8 512.02 L1146.07 524.12 L1146.34 511.38 L1146.61 501.5 L1146.88 501.2 L1147.15 511.39 L1147.42 505.32 L1147.69 514.18 L1147.96 513.2 L1148.23 519.63 L1148.5 495.16 L1148.77 502.07 L1149.04 508.88 L1149.31 510.05 L1149.58 522.24 L1149.85 514.59 L1150.12 523.63 L1150.39 536.25 L1150.66 520.05 L1150.93 485.6 L1151.2 482.59 L1151.47 509.13 L1151.74 502.57 L1152.01 510.45 L1152.28 545.75 L1152.55 530.2 L1152.82 527.06 L1153.09 492.37 L1153.36 507.83 L1153.63 497.13 L1153.9 483.39 L1154.17 510.28 L1154.44 503.84 L1154.71 516.56 L1154.98 542.91 L1155.25 530.69 L1155.52 522.06 L1155.79 495.11 L1156.06 485.93 L1156.33 517.47 L1156.6 501.13 L1156.87 503.68 L1157.14 499.62 L1157.41 511.03 L1157.68 539.08 L1157.95 507.58 L1158.22 502.12 L1158.49 511.91 L1158.76 509.66 L1159.03 488.12 L1159.3 481.03 L1159.57 499.02 L1159.84 506.64 L1160.11 498.76 L1160.38 495.46 L1160.65 494.75 L1160.92 503.56 L1161.19 504.88 L1161.46 486.04 L1161.73 498.76 L1162 515.23 L1162.27 504.08 L1162.54 488.83 L1162.81 498.21 L1163.08 510.11 L1163.35 513.44 L1163.62 487.09 L1163.89 512.49 L1164.16 503.11 L1164.43 509.06 L1164.7 517.07 L1164.97 493.76 L1165.24 493.54 L1165.51 506.48 L1165.78 517.29 L1166.05 497.3 L1166.32 484.1 L1166.59 494.04 L1166.86 515.21 L1167.13 525.49 L1167.4 475.05 L1167.67 501.02 L1167.94 541.75 L1168.21 501.3 L1168.48 492.13 L1168.75 500.9 L1169.02 512.62 L1169.29 511.58 L1169.56 505.28 L1169.83 489.21 L1170.1 491.26 L1170.37 492.98 L1170.64 522.62 L1170.91 529.82 L1171.18 518.82 L1171.45 527.99 L1171.72 503.66 L1171.99 493.41 L1172.26 486.08 L1172.53 504.95 L1172.8 503.36 L1173.07 510.09 L1173.34 517.92 L1173.61 502.41 L1173.88 489.84 L1174.15 503.47 L1174.42 505.04 L1174.69 506.1 L1174.96 515.71 L1175.23 502.44 L1175.5 504.83 L1175.77 532.36 L1176.04 524.2 L1176.31 500.75 L1176.58 485.99 L1176.85 493.77 L1177.12 508.34 L1177.39 524.32 L1177.66 540.09 L1177.93 508.76 L1178.2 504.83 L1178.47 498.64 L1178.74 502.39 L1179.01 495.32 L1179.28 491.38 L1179.55 518.57 L1179.82 515.22 L1180.09 525.92 L1180.36 504.37 L1180.63 510.53 L1180.9 515.07 L1181.17 480.09 L1181.44 488.47 L1181.71 522.09 L1181.98 511.11 L1182.25 482.58 L1182.52 493.59 L1182.79 488.8 L1183.06 503.32 L1183.33 528.34 L1183.6 506.74 L1183.87 531.26 L1184.14 500.69 L1184.41 488.64 L1184.68 523.35 L1184.95 519.88 L1185.22 529.44 L1185.49 536 L1185.76 526.18 L1186.03 518.9 L1186.3 479.12 L1186.57 487.61 L1186.84 509.31 L1187.11 509.78 L1187.38 515.71 L1187.65 500.97 L1187.92 522.95 L1188.19 534.56 L1188.46 517.24 L1188.73 517.06 L1189 514.64 L1189.27 518.57 L1189.54 510.11 L1189.81 498.4 L1190.08 510.34 L1190.35 505.8 L1190.62 486.91 L1190.89 508.05 L1191.16 511.35 L1191.43 509.76 L1191.7 501.28 L1191.97 513.75 L1192.24 515.34 L1192.51 497.77 L1192.78 512.54 L1193.05 552.85 L1193.32 517.79 L1193.59 489.81 L1193.86 490.09 L1194.13 500.11 L1194.4 497.67 L1194.67 539.17 L1194.94 503.74 L1195.21 494.99 L1195.48 519.56 L1195.75 497.34 L1196.02 477.63 L1196.29 502.16 L1196.56 497.54 L1196.83 498.04 L1197.1 560.65 L1197.37 471.05 L1197.64 509.24 L1197.91 507.27 L1198.18 493.49 L1198.45 495.31 L1198.72 495.03 L1198.99 509.62 L1199.26 503.64 L1199.53 492 L1199.8 512.41 L1200.07 500.14 L1200.34 506.91 L1200.61 494.44 L1200.88 505.64 L1201.15 504.45 L1201.42 505.73 L1201.69 516.11 L1201.96 515.07 L1202.23 514.78 L1202.5 510.2 L1202.77 491.94 L1203.04 500.65 L1203.31 473.5 L1203.58 472.3 L1203.85 498.22 L1204.12 508.57 L1204.39 529.38 L1204.66 522.24 L1204.93 519.2 L1205.2 499.79 L1205.47 508.33 L1205.74 522.88 L1206.01 515.53 L1206.28 513.73 L1206.55 506.52 L1206.82 492.13 L1207.09 488.82 L1207.36 486.91 L1207.63 511.65 L1207.9 503.41 L1208.17 496.43 L1208.44 509.5 L1208.71 500.29 L1208.98 523.84 L1209.25 534.51 L1209.52 513.77 L1209.79 489.99 L1210.06 484.22 L1210.33 532.73 L1210.6 515.17 L1210.87 494.47 L1211.14 518.8 L1211.41 485.03 L1211.68 492.67 L1211.95 504.36 L1212.22 496.2 L1212.49 497.33 L1212.76 538.61 L1213.03 509.35 L1213.3 510.68 L1213.57 504.21 L1213.84 480.03 L1214.11 492.74 L1214.38 511.75 L1214.65 520.28 L1214.92 508.68 L1215.19 510.13 L1215.46 507.99 L1215.73 509.88 L1216 480.56 L1216.27 511.52 L1216.54 504.07 L1216.81 490.55 L1217.08 470.62 L1217.35 486.97 L1217.62 523.7 L1217.89 540.33 L1218.16 504.18 L1218.43 496.31 L1218.7 514.3 L1218.97 507.08 L1219.24 496.07 L1219.51 498.04 L1219.78 499.28 L1220.05 512.07 L1220.32 521.83 L1220.59 531.43 L1220.86 523.13 L1221.13 510.4 L1221.4 507.57 L1221.67 509.24 L1221.94 494.79 L1222.21 529.46 L1222.48 518.09 L1222.75 521.62 L1223.02 500.13 L1223.29 516.91 L1223.56 511.58 L1223.83 498.1 L1224.1 491.13 L1224.37 493.27 L1224.64 533.77 L1224.91 531.59 L1225.18 515.08 L1225.45 512.18 L1225.72 494.29 L1225.99 477.22 L1226.26 477.84 L1226.53 497.75 L1226.8 505.28 L1227.07 497.67 L1227.34 522.41 L1227.61 523.34 L1227.88 510.14 L1228.15 485.17 L1228.42 499.61 L1228.69 506.02 L1228.96 482.69 L1229.23 477.46 L1229.5 530.97 L1229.77 518.55 L1230.04 502.05 L1230.31 528.32 L1230.58 521.38 L1230.85 508.69 L1231.12 506.96 L1231.39 517.64 L1231.66 529.28 L1231.93 508.13 L1232.2 506.22 L1232.47 507.87 L1232.74 470.97 L1233.01 500.4 L1233.28 505.19 L1233.55 505.92 L1233.82 509.08 L1234.09 512.18 L1234.36 510.64 L1234.63 505.89 L1234.9 507.58 L1235.17 510.18 L1235.44 503.95 L1235.71 516.61 L1235.98 485.51 L1236.25 505.55 L1236.52 514.58 L1236.79 489.21 L1237.06 506.77 L1237.33 528.63 L1237.6 510.04 L1237.87 486.23 L1238.14 466.86 L1238.41 504.19 L1238.68 511.5 L1238.95 449.65 L1239.22 538.8 L1239.49 511.44 L1239.76 503.11 L1240.03 493.99 L1240.3 500.93 L1240.57 507.57 L1240.84 519.1 L1241.11 517.17 L1241.38 492.76 L1241.65 499.09 L1241.92 520.78 L1242.19 493.61 L1242.46 514.94 L1242.73 531.95 L1243 515.71 L1243.27 511.49 L1243.54 522.42 L1243.81 509.13 L1244.08 498.67 L1244.35 502.49 L1244.62 520.34 L1244.89 521.97 L1245.16 527.47 L1245.43 503.36 L1245.7 495.1 L1245.97 499.19 L1246.24 508.42 L1246.51 504.35 L1246.78 524.36 L1247.05 516.56 L1247.32 488.68 L1247.59 464.77 L1247.86 479.52 L1248.13 527.77 L1248.4 517.94 L1248.67 515.73 L1248.94 510.53 L1249.21 510.16 L1249.48 478.13 L1249.75 472.71 L1250.02 482.2 L1250.29 509.61 L1250.56 522.62 L1250.83 519.75 L1251.1 503.85 L1251.37 489.26 L1251.64 514.07 L1251.91 505.56 L1252.18 506.5 L1252.45 508.86 L1252.72 545.75 L1252.99 495.93 L1253.26 493.51 L1253.53 490.24 L1253.8 506.8 L1254.07 511.68 L1254.34 517.9 L1254.61 489.01 L1254.88 521.12 L1255.15 512.94 L1255.42 501.22 L1255.69 496 L1255.96 487.92 L1256.23 486.27 L1256.5 517.54 L1256.77 510.33 L1257.04 520.08 L1257.31 520.79 L1257.58 498.73 L1257.85 469.75 L1258.12 500.47 L1258.39 519 L1258.66 508.06 L1258.93 509.21 L1259.2 512.68 L1259.47 508.03 L1259.74 529.88 L1260.01 495.31 L1260.28 521.76 L1260.55 524.26 L1260.82 491.05 L1261.09 514.77 L1261.36 515.63 L1261.63 514.48 L1261.9 491.18 L1262.17 505.36 L1262.44 495.38 L1262.71 505.67 L1262.98 532.65 L1263.25 506.71 L1263.52 476.51 L1263.79 482.34 L1264.06 491.5 L1264.33 521.46 L1264.6 498.5 L1264.87 487 L1265.14 521.01 L1265.41 515.62 L1265.68 511.34 L1265.95 502.2 L1266.22 527.75 L1266.49 505.69 L1266.76 476.6 L1267.03 486.41 L1267.3 492.34 L1267.57 504.73 L1267.84 519.74 L1268.11 497.43 L1268.38 502.23 L1268.65 537.42 L1268.92 510.27 L1269.19 496.35 L1269.46 501.7 L1269.73 485.17 L1270 512.77 L1270.27 520.37 L1270.54 503.67 L1270.81 520.8 L1271.08 508.2 L1271.35 507.92 L1271.62 497.6 L1271.89 490.83 L1272.16 488.68 L1272.43 511.07 L1272.7 509.83 L1272.97 504.36 L1273.24 492.44 L1273.51 488.16 L1273.78 497.89 L1274.05 513.33 L1274.32 511.36 L1274.59 493.46 L1274.86 510.82 L1275.13 526.66 L1275.4 512.44 L1275.67 529.88 L1275.94 518.3 L1276.21 518.65 L1276.48 503.64 L1276.75 518.08 L1277.02 493.67 L1277.29 505.28 L1277.56 499.62 L1277.83 473.94 L1278.1 487.52 L1278.37 526 L1278.64 523.28 L1278.91 532.15 L1279.18 509.29 L1279.45 470.22 L1279.72 503.91 L1279.99 500.88 L1280.26 497.54 L1280.53 502.36 L1280.8 494.02 L1281.07 495.03 L1281.34 524.06 L1281.61 515.5 L1281.88 495.29 L1282.15 502.03 L1282.42 521.3 L1282.69 517.91 L1282.96 510.41 L1283.23 490.39 L1283.5 497.87 L1283.77 487.61 L1284.04 482.11 L1284.31 518.14 L1284.58 563.65 L1284.85 497.06 L1285.12 492.71 L1285.39 520.19 L1285.66 457.65 L1285.93 520.33 L1286.2 514.48 L1286.47 487.53 L1286.74 501.9 L1287.01 512.45 L1287.28 527.73 L1287.55 506.7 L1287.82 490.32 L1288.09 499.05 L1288.36 500.36 L1288.63 525.87 L1288.9 522.16 L1289.17 513.49 L1289.44 514.14 L1289.71 516.12 L1289.98 498.76 L1290.25 484.37 L1290.52 479.95 L1290.79 518.35 L1291.06 520.44 L1291.33 514.53 L1291.6 515.49 L1291.87 526.29 L1292.14 499.24 L1292.41 517.72 L1292.68 497.74 L1292.95 493.14 L1293.22 491.73 L1293.49 506.32 L1293.76 506.6 L1294.03 512.15 L1294.3 496.33 L1294.57 485.14 L1294.84 515.03 L1295.11 530.02 L1295.38 519.87 L1295.65 508.43 L1295.92 506.53 L1296.19 480.12 L1296.46 496.55 L1296.73 525.1 L1297 513.25 L1297.27 499.34 L1297.54 517.28 L1297.81 508.85 L1298.08 511.91 L1298.35 486.14 L1298.62 494.3 L1298.89 511.01 L1299.16 511.72 L1299.43 515.84 L1299.7 508.17 L1299.97 503.49 L1300.24 514.92 L1300.51 515.69 L1300.78 484.05 L1301.05 497.78 L1301.32 503.17 L1301.59 514.03 L1301.86 521.67 L1302.13 494.63 L1302.4 509.41 L1302.67 484.76 L1302.94 491.43 L1303.21 502.28 L1303.48 504.76 L1303.75 504.12 L1304.02 503.48 L1304.29 506.47 L1304.56 500.46 L1304.83 477.94 L1305.1 479.64 L1305.37 498.5 L1305.64 514.42 L1305.91 528.71 L1306.18 544.64 L1306.45 478.85 L1306.72 490.15 L1306.99 538.75 L1307.26 515.05 L1307.53 508.27 L1307.8 493.45 L1308.07 505.51 L1308.34 508.43 L1308.61 485.29 L1308.88 493.54 L1309.15 518.93 L1309.42 481.02 L1309.69 504.58 L1309.96 508.76 L1310.23 526.82 L1310.5 514.01 L1310.77 493.53 L1311.04 516.53 L1311.31 499.76 L1311.58 532.42 L1311.85 532.49 L1312.12 505.13 L1312.39 513.49 L1312.66 503.02 L1312.93 489.05" fill="none" stroke="#000000" stroke-width="1" stroke-linejoin="round"/>
<path d="M341.2 505.71 L341.47 506.06 L341.74 506.45 L342.01 506.84 L342.28 507.16 L342.55 507.38 L342.82 507.5 L343.09 507.52 L343.36 507.48 L343.63 507.4 L343.9 507.27 L344.17 507.09 L344.44 506.84 L344.71 506.53 L344.98 506.18 L345.25 505.88 L345.52 505.69 L345.79 505.68 L346.06 505.89 L346.33 506.26 L346.6 506.72 L346.87 507.11 L347.14 507.34 L347.41 507.34 L347.68 507.13 L347.95 506.79 L348.22 506.46 L348.49 506.26 L348.76 506.25 L349.03 506.4 L349.3 506.6 L349.57 506.75 L349.84 506.75 L350.11 506.59 L350.38 506.34 L350.65 506.11 L350.92 506.03 L351.19 506.15 L351.46 506.43 L351.73 506.79 L352 507.1 L352.27 507.26 L352.54 507.24 L352.81 507.1 L353.08 506.91 L353.35 506.74 L353.62 506.64 L353.89 506.55 L354.16 506.43 L354.43 506.2 L354.7 505.86 L354.97 505.5 L355.24 505.25 L355.51 505.27 L355.78 505.63 L356.05 506.3 L356.32 507.15 L356.59 507.95 L356.86 508.5 L357.13 508.66 L357.4 508.41 L357.67 507.88 L357.94 507.23 L358.21 506.65 L358.48 506.27 L358.75 506.12 L359.02 506.17 L359.29 506.36 L359.56 506.57 L359.83 506.73 L360.1 506.78 L360.37 506.73 L360.64 506.58 L360.91 506.41 L361.18 506.26 L361.45 506.2 L361.72 506.24 L361.99 506.35 L362.26 506.48 L362.53 506.56 L362.8 506.55 L363.07 506.45 L363.34 506.32 L363.61 506.22 L363.88 506.25 L364.15 506.42 L364.42 506.73 L364.69 507.08 L364.96 507.36 L365.23 507.46 L365.5 507.34 L365.77 507.02 L366.04 506.6 L366.31 506.2 L366.58 505.93 L366.85 505.83 L367.12 505.9 L367.39 506.06 L367.66 506.26 L367.93 506.44 L368.2 506.61 L368.47 506.79 L368.74 506.98 L369.01 507.19 L369.28 507.37 L369.55 507.48 L369.82 507.45 L370.09 507.27 L370.36 506.92 L370.63 506.45 L370.9 505.95 L371.17 505.53 L371.44 505.31 L371.71 505.38 L371.98 505.79 L372.25 506.49 L372.52 507.34 L372.79 508.13 L373.06 508.65 L373.33 508.74 L373.6 508.34 L373.87 507.54 L374.14 506.51 L374.41 505.5 L374.68 504.72 L374.95 504.32 L375.22 504.34 L375.49 504.73 L375.76 505.41 L376.03 506.23 L376.3 507.07 L376.57 507.81 L376.84 508.35 L377.11 508.6 L377.38 508.54 L377.65 508.17 L377.92 507.58 L378.19 506.9 L378.46 506.27 L378.73 505.82 L379 505.65 L379.27 505.75 L379.54 506.05 L379.81 506.45 L380.08 506.83 L380.35 507.1 L380.62 507.2 L380.89 507.14 L381.16 506.98 L381.43 506.77 L381.7 506.6 L381.97 506.49 L382.24 506.47 L382.51 506.51 L382.78 506.57 L383.05 506.64 L383.32 506.7 L383.59 506.75 L383.86 506.78 L384.13 506.76 L384.4 506.63 L384.67 506.38 L384.94 506.02 L385.21 505.66 L385.48 505.43 L385.75 505.48 L386.02 505.89 L386.29 506.6 L386.56 507.45 L386.83 508.18 L387.1 508.55 L387.37 508.41 L387.64 507.77 L387.91 506.81 L388.18 505.81 L388.45 505.05 L388.72 504.76 L388.99 504.98 L389.26 505.63 L389.53 506.49 L389.8 507.29 L390.07 507.81 L390.34 507.94 L390.61 507.69 L390.88 507.19 L391.15 506.61 L391.42 506.15 L391.69 505.94 L391.96 506.04 L392.23 506.41 L392.5 506.95 L392.77 507.52 L393.04 507.98 L393.31 508.2 L393.58 508.11 L393.85 507.72 L394.12 507.08 L394.39 506.3 L394.66 505.53 L394.93 504.92 L395.2 504.56 L395.47 504.49 L395.74 504.69 L396.01 505.09 L396.28 505.62 L396.55 506.23 L396.82 506.89 L397.09 507.57 L397.36 508.21 L397.63 508.72 L397.9 508.98 L398.17 508.84 L398.44 508.29 L398.71 507.37 L398.98 506.29 L399.25 505.34 L399.52 504.79 L399.79 504.79 L400.06 505.36 L400.33 506.32 L400.6 507.37 L400.87 508.21 L401.14 508.61 L401.41 508.48 L401.68 507.89 L401.95 507.04 L402.22 506.18 L402.49 505.51 L402.76 505.16 L403.03 505.13 L403.3 505.35 L403.57 505.7 L403.84 506.06 L404.11 506.34 L404.38 506.52 L404.65 506.63 L404.92 506.71 L405.19 506.83 L405.46 507.01 L405.73 507.24 L406 507.48 L406.27 507.66 L406.54 507.73 L406.81 507.66 L407.08 507.44 L407.35 507.11 L407.62 506.69 L407.89 506.23 L408.16 505.76 L408.43 505.35 L408.7 505.06 L408.97 504.95 L409.24 505.09 L409.51 505.49 L409.78 506.09 L410.05 506.81 L410.32 507.5 L410.59 508.02 L410.86 508.29 L411.13 508.27 L411.4 508.01 L411.67 507.6 L411.94 507.13 L412.21 506.68 L412.48 506.3 L412.75 506.02 L413.02 505.87 L413.29 505.85 L413.56 505.97 L413.83 506.22 L414.1 506.54 L414.37 506.85 L414.64 507.06 L414.91 507.12 L415.18 507 L415.45 506.77 L415.72 506.53 L415.99 506.38 L416.26 506.39 L416.53 506.54 L416.8 506.77 L417.07 506.98 L417.34 507.1 L417.61 507.09 L417.88 506.96 L418.15 506.78 L418.42 506.6 L418.69 506.46 L418.96 506.36 L419.23 506.28 L419.5 506.19 L419.77 506.11 L420.04 506.05 L420.31 506.05 L420.58 506.14 L420.85 506.31 L421.12 506.54 L421.39 506.74 L421.66 506.86 L421.93 506.87 L422.2 506.77 L422.47 506.65 L422.74 506.61 L423.01 506.73 L423.28 507.05 L423.55 507.5 L423.82 507.97 L424.09 508.27 L424.36 508.25 L424.63 507.85 L424.9 507.1 L425.17 506.14 L425.44 505.17 L425.71 504.37 L425.98 503.91 L426.25 503.88 L426.52 504.29 L426.79 505.11 L427.06 506.21 L427.33 507.44 L427.6 508.58 L427.87 509.41 L428.14 509.77 L428.41 509.56 L428.68 508.83 L428.95 507.73 L429.22 506.52 L429.49 505.42 L429.76 504.63 L430.03 504.25 L430.3 504.24 L430.57 504.54 L430.84 505.04 L431.11 505.65 L431.38 506.34 L431.65 507.08 L431.92 507.81 L432.19 508.49 L432.46 508.98 L432.73 509.17 L433 508.98 L433.27 508.4 L433.54 507.53 L433.81 506.56 L434.08 505.68 L434.35 505.1 L434.62 504.89 L434.89 505.05 L435.16 505.45 L435.43 505.93 L435.7 506.31 L435.97 506.49 L436.24 506.45 L436.51 506.26 L436.78 506.07 L437.05 506 L437.32 506.17 L437.59 506.58 L437.86 507.16 L438.13 507.76 L438.4 508.2 L438.67 508.33 L438.94 508.05 L439.21 507.42 L439.48 506.56 L439.75 505.73 L440.02 505.16 L440.29 505.02 L440.56 505.32 L440.83 505.95 L441.1 506.67 L441.37 507.23 L441.64 507.47 L441.91 507.36 L442.18 507.02 L442.45 506.64 L442.72 506.36 L442.99 506.27 L443.26 506.32 L443.53 506.42 L443.8 506.47 L444.07 506.43 L444.34 506.35 L444.61 506.33 L444.88 506.46 L445.15 506.76 L445.42 507.2 L445.69 507.64 L445.96 507.95 L446.23 508.03 L446.5 507.85 L446.77 507.43 L447.04 506.87 L447.31 506.27 L447.58 505.74 L447.85 505.36 L448.12 505.16 L448.39 505.19 L448.66 505.43 L448.93 505.85 L449.2 506.39 L449.47 506.95 L449.74 507.42 L450.01 507.73 L450.28 507.82 L450.55 507.71 L450.82 507.43 L451.09 507.07 L451.36 506.7 L451.63 506.38 L451.9 506.16 L452.17 506.05 L452.44 506.09 L452.71 506.27 L452.98 506.58 L453.25 506.97 L453.52 507.36 L453.79 507.63 L454.06 507.69 L454.33 507.49 L454.6 507.04 L454.87 506.45 L455.14 505.87 L455.41 505.45 L455.68 505.32 L455.95 505.49 L456.22 505.9 L456.49 506.41 L456.76 506.88 L457.03 507.19 L457.3 507.28 L457.57 507.17 L457.84 506.93 L458.11 506.64 L458.38 506.4 L458.65 506.3 L458.92 506.35 L459.19 506.55 L459.46 506.83 L459.73 507.11 L460 507.28 L460.27 507.3 L460.54 507.16 L460.81 506.91 L461.08 506.65 L461.35 506.47 L461.62 506.44 L461.89 506.53 L462.16 506.68 L462.43 506.8 L462.7 506.83 L462.97 506.75 L463.24 506.59 L463.51 506.42 L463.78 506.29 L464.05 506.22 L464.32 506.2 L464.59 506.2 L464.86 506.19 L465.13 506.19 L465.4 506.24 L465.67 506.39 L465.94 506.65 L466.21 506.99 L466.48 507.33 L466.75 507.57 L467.02 507.62 L467.29 507.46 L467.56 507.14 L467.83 506.8 L468.1 506.56 L468.37 506.53 L468.64 506.69 L468.91 506.95 L469.18 507.13 L469.45 507.11 L469.72 506.82 L469.99 506.3 L470.26 505.74 L470.53 505.32 L470.8 505.2 L471.07 505.46 L471.34 506 L471.61 506.66 L471.88 507.2 L472.15 507.46 L472.42 507.4 L472.69 507.09 L472.96 506.73 L473.23 506.51 L473.5 506.56 L473.77 506.88 L474.04 507.37 L474.31 507.83 L474.58 508.06 L474.85 507.94 L475.12 507.47 L475.39 506.74 L475.66 505.94 L475.93 505.24 L476.2 504.83 L476.47 504.78 L476.74 505.09 L477.01 505.7 L477.28 506.46 L477.55 507.22 L477.82 507.81 L478.09 508.24 L478.36 508.51 L478.63 508.29 L478.9 507.56 L479.17 506.42 L479.44 505.09 L479.71 503.86 L479.98 503.05 L480.25 502.94 L480.52 503.65 L480.79 505.1 L481.06 507.03 L481.33 508.97 L481.6 510.44 L481.87 511.01 L482.14 510.5 L482.41 508.97 L482.68 506.81 L482.95 504.57 L483.22 502.88 L483.49 502.22 L483.76 502.81 L484.03 504.51 L484.3 506.85 L484.57 509.17 L484.84 510.85 L485.11 511.41 L485.38 510.76 L485.65 509.26 L485.92 507.34 L486.19 505.46 L486.46 503.97 L486.73 503.01 L487 502.6 L487.27 502.66 L487.54 503.07 L487.81 503.73 L488.08 504.59 L488.35 505.57 L488.62 506.64 L488.89 507.75 L489.16 508.88 L489.43 509.99 L489.7 511.06 L489.97 512.03 L490.24 512.73 L490.51 512.94 L490.78 512.41 L491.05 510.96 L491.32 508.59 L491.59 505.55 L491.86 502.33 L492.13 499.55 L492.4 497.8 L492.67 497.46 L492.94 498.63 L493.21 501.01 L493.48 504.02 L493.75 506.97 L494.02 509.25 L494.29 510.54 L494.56 510.87 L494.83 510.58 L495.1 510.12 L495.37 509.85 L495.64 509.86 L495.91 509.94 L496.18 509.74 L496.45 508.9 L496.72 507.33 L496.99 505.22 L497.26 503.02 L497.53 501.25 L497.8 500.34 L498.07 500.45 L498.34 501.52 L498.61 503.25 L498.88 505.28 L499.15 507.24 L499.42 508.84 L499.69 509.87 L499.96 510.21 L500.23 507.64 L500.5 507.67 L500.77 507.83 L501.04 508.21 L501.31 508.91 L501.58 509.99 L501.85 511.41 L502.12 513.06 L502.39 514.73 L502.66 516.19 L502.93 517.22 L503.2 517.7 L503.47 517.67 L503.74 517.27 L504.01 516.73 L504.28 516.27 L504.55 516.05 L504.82 516.19 L505.09 516.6 L505.36 517.17 L505.63 517.74 L505.9 518.16 L506.17 518.31 L506.44 518.08 L506.71 517.35 L506.98 516 L507.25 514.01 L507.52 511.48 L507.79 508.63 L508.06 505.83 L508.33 503.47 L508.6 501.86 L508.87 501.13 L509.14 501.15 L509.41 501.63 L509.68 502.15 L509.95 502.32 L510.22 501.92 L510.49 500.9 L510.76 499.42 L511.03 497.78 L511.3 496.3 L511.57 495.26 L511.84 494.77 L512.11 494.84 L512.38 495.37 L512.65 496.18 L512.92 497.09 L513.19 498.02 L513.46 499 L513.73 500.12 L514 501.52 L514.27 503.26 L514.54 505.29 L514.81 507.43 L515.08 509.43 L515.35 511.09 L515.62 512.3 L515.89 513.13 L516.16 513.76 L516.43 514.43 L516.7 515.32 L516.97 516.5 L517.24 517.88 L517.51 519.3 L517.78 520.59 L518.05 521.59 L518.32 522.25 L518.59 522.5 L518.86 522.23 L519.13 521.44 L519.4 520.15 L519.67 518.38 L519.94 516.19 L520.21 513.67 L520.48 510.95 L520.75 508.14 L521.02 505.34 L521.29 502.63 L521.56 500.06 L521.83 497.69 L522.1 495.64 L522.37 493.98 L522.64 492.82 L522.91 492.18 L523.18 492.04 L523.45 492.32 L523.72 493.03 L523.99 494.3 L524.26 496.08 L524.53 498.34 L524.8 501.05 L525.07 504.11 L525.34 507.38 L525.61 510.68 L525.88 513.87 L526.15 516.84 L526.42 519.61 L526.69 522.22 L526.96 524.75 L527.23 527.22 L527.5 529.53 L527.77 531.49 L528.04 532.83 L528.31 532.9 L528.58 530.62 L528.85 526.14 L529.12 519.9 L529.39 512.5 L529.66 504.62 L529.93 496.91 L530.2 489.91 L530.47 484.03 L530.74 479.58 L531.01 476.79 L531.28 475.82 L531.55 476.33 L531.82 478.28 L532.09 481.73 L532.36 486.63 L532.63 492.76 L532.9 499.78 L533.17 507.21 L533.44 514.53 L533.71 521.24 L533.98 526.93 L534.25 531.3 L534.52 534.19 L534.79 535.55 L535.06 535.37 L535.33 532.53 L535.6 526.84 L535.87 518.91 L536.14 509.65 L536.41 500.09 L536.68 491.31 L536.95 484.33 L537.22 479.92 L537.49 478.58 L537.76 479.73 L538.03 482.44 L538.3 486.52 L538.57 491.7 L538.84 497.71 L539.11 504.24 L539.38 510.98 L539.65 517.55 L539.92 523.53 L540.19 528.48 L540.46 531.97 L540.73 533.67 L541 533.39 L541.27 531.13 L541.54 527.06 L541.81 521.55 L542.08 515.05 L542.35 508.1 L542.62 501.25 L542.89 495.05 L543.16 489.95 L543.43 486.34 L543.7 484.44 L543.97 484.35 L544.24 485.9 L544.51 488.86 L544.78 492.98 L545.05 497.98 L545.32 503.51 L545.59 509.23 L545.86 514.77 L546.13 519.74 L546.4 523.8 L546.67 526.6 L546.94 527.9 L547.21 527.66 L547.48 526.14 L547.75 523.48 L548.02 519.9 L548.29 515.7 L548.56 511.16 L548.83 506.56 L549.1 502.1 L549.37 497.97 L549.64 494.34 L549.91 491.4 L550.18 489.37 L550.45 488.47 L550.72 488.71 L550.99 490.21 L551.26 492.95 L551.53 496.77 L551.8 501.37 L552.07 506.35 L552.34 511.26 L552.61 515.68 L552.88 519.25 L553.15 521.73 L553.42 522.99 L553.69 523.05 L553.96 521.95 L554.23 519.86 L554.5 516.93 L554.77 513.36 L555.04 509.36 L555.31 505.19 L555.58 501.13 L555.85 497.53 L556.12 494.74 L556.39 493.07 L556.66 492.71 L556.93 493.29 L557.2 494.55 L557.47 496.36 L557.74 498.51 L558.01 500.79 L558.28 503.02 L558.55 505.08 L558.82 506.89 L559.09 508.44 L559.36 509.73 L559.63 510.78 L559.9 511.59 L560.17 512.16 L560.44 512.44 L560.71 512.38 L560.98 511.97 L561.25 511.15 L561.52 509.95 L561.79 508.45 L562.06 506.78 L562.33 505.16 L562.6 503.8 L562.87 502.87 L563.14 502.49 L563.41 502.69 L563.68 503.37 L563.95 504.3 L564.22 505.3 L564.49 506.23 L564.76 506.97 L565.03 507.43 L565.3 507.56 L565.57 507.32 L565.84 506.72 L566.11 504.04 L566.38 500.9 L566.65 498.18 L566.92 496.31 L567.19 495.68 L567.46 496.48 L567.73 498.63 L568 501.82 L568.27 505.54 L568.54 509.23 L568.81 512.38 L569.08 514.68 L569.35 516.01 L569.62 516.4 L569.89 516 L570.16 514.94 L570.43 513.28 L570.7 511.05 L570.97 508.28 L571.24 505.12 L571.51 501.89 L571.78 499.1 L572.05 497.29 L572.32 496.93 L572.59 498.14 L572.86 500.7 L573.13 503.99 L573.4 507.24 L573.67 509.74 L573.94 511.04 L574.21 511.14 L574.48 510.36 L574.75 509.25 L575.02 508.28 L575.29 507.72 L575.56 507.53 L575.83 507.46 L576.1 507.19 L576.37 506.53 L576.64 505.5 L576.91 504.35 L577.18 503.41 L577.45 503 L577.72 503.27 L577.99 504.2 L578.26 505.59 L578.53 507.2 L578.8 508.79 L579.07 510.16 L579.34 511.17 L579.61 511.67 L579.88 511.55 L580.15 510.74 L580.42 509.24 L580.69 507.18 L580.96 504.88 L581.23 502.72 L581.5 501.13 L581.77 500.45 L582.04 500.82 L582.31 502.14 L582.58 504.09 L582.85 506.25 L583.12 508.19 L583.39 509.6 L583.66 510.32 L583.93 510.37 L584.2 509.87 L584.47 509 L584.74 507.91 L585.01 506.78 L585.28 505.76 L585.55 505.02 L585.82 504.71 L586.09 504.89 L586.36 505.56 L586.63 506.55 L586.9 507.61 L587.17 508.45 L587.44 508.86 L587.71 508.79 L587.98 508.34 L588.25 507.74 L588.52 507.25 L588.79 507.07 L589.06 507.18 L589.33 507.39 L589.6 507.37 L589.87 506.77 L590.14 505.4 L590.41 503.33 L590.68 500.97 L590.95 498.9 L591.22 497.81 L591.49 498.21 L591.76 500.3 L592.03 503.87 L592.3 508.34 L592.57 512.9 L592.84 516.73 L593.11 519.17 L593.38 519.87 L593.65 518.81 L593.92 516.26 L594.19 512.72 L594.46 508.7 L594.73 504.7 L595 501.1 L595.27 498.16 L595.54 496.06 L595.81 494.91 L596.08 494.8 L596.35 495.82 L596.62 497.98 L596.89 501.17 L597.16 505.14 L597.43 509.43 L597.7 513.48 L597.97 516.67 L598.24 518.48 L598.51 518.61 L598.78 517.05 L599.05 514.11 L599.32 510.35 L599.59 506.47 L599.86 503.15 L600.13 500.89 L600.4 499.93 L600.67 500.17 L600.94 501.27 L601.21 502.77 L601.48 504.18 L601.75 505.21 L602.02 505.77 L602.29 506.01 L602.56 506.2 L602.83 506.64 L603.1 507.48 L603.37 508.71 L603.64 510.11 L603.91 511.34 L604.18 512.04 L604.45 511.97 L604.72 511.02 L604.99 509.32 L605.26 507.1 L605.53 504.73 L605.8 502.57 L606.07 500.93 L606.34 500.02 L606.61 499.94 L606.88 500.7 L607.15 502.22 L607.42 504.33 L607.69 506.81 L607.96 509.37 L608.23 511.67 L608.5 513.4 L608.77 514.26 L609.04 514.09 L609.31 512.9 L609.58 510.86 L609.85 508.29 L610.12 505.6 L610.39 503.18 L610.66 501.33 L610.93 500.2 L611.2 499.8 L611.47 500.03 L611.74 500.72 L612.01 501.78 L612.28 503.16 L612.55 504.87 L612.82 506.9 L613.09 509.19 L613.36 511.51 L613.63 513.52 L613.9 514.8 L614.17 515.03 L614.44 514.05 L614.71 511.97 L614.98 509.17 L615.25 506.16 L615.52 503.49 L615.79 501.62 L616.06 500.76 L616.33 500.92 L616.6 501.92 L616.87 503.43 L617.14 505.1 L617.41 506.61 L617.68 507.72 L617.95 508.3 L618.22 508.32 L618.49 507.86 L618.76 507.11 L619.03 506.31 L619.3 505.7 L619.57 505.48 L619.84 505.72 L620.11 506.36 L620.38 507.21 L620.65 508.05 L620.92 508.62 L621.19 508.75 L621.46 508.39 L621.73 507.64 L622 506.71 L622.27 505.89 L622.54 505.46 L622.81 505.6 L623.08 506.32 L623.35 507.44 L623.62 508.64 L623.89 509.54 L624.16 509.81 L624.43 509.31 L624.7 508.12 L624.97 506.5 L625.24 504.85 L625.51 503.51 L625.78 502.72 L626.05 502.51 L626.32 502.75 L626.59 503.22 L626.86 503.71 L627.13 504.14 L627.4 504.57 L627.67 505.17 L627.94 506.09 L628.21 507.42 L628.48 509.07 L628.75 510.81 L629.02 512.32 L629.29 513.29 L629.56 513.5 L629.83 512.87 L630.1 511.46 L630.37 509.47 L630.64 507.18 L630.91 504.86 L631.18 502.79 L631.45 501.17 L631.72 500.13 L631.99 499.74 L632.26 499.97 L632.53 500.79 L632.8 502.11 L633.07 503.85 L633.34 505.89 L633.61 508.04 L633.88 510.04 L634.15 511.59 L634.42 512.45 L634.69 512.51 L634.96 511.83 L635.23 510.68 L635.5 509.41 L635.77 508.32 L636.04 507.59 L636.31 507.19 L636.58 506.95 L636.85 506.61 L637.12 505.99 L637.39 505.04 L637.66 503.91 L637.93 502.86 L638.2 502.16 L638.47 502.03 L638.74 502.52 L639.01 503.49 L639.28 504.7 L639.55 505.83 L639.82 506.68 L640.09 507.14 L640.36 507.3 L640.63 507.34 L640.9 507.47 L641.17 507.84 L641.44 508.47 L641.71 509.23 L641.98 509.95 L642.25 510.42 L642.52 510.5 L642.79 510.15 L643.06 509.38 L643.33 508.26 L643.6 506.87 L643.87 505.35 L644.14 503.84 L644.41 502.59 L644.68 501.82 L644.95 501.77 L645.22 502.53 L645.49 504.03 L645.76 506.02 L646.03 508.09 L646.3 509.81 L646.57 510.79 L646.84 510.85 L647.11 510 L647.38 508.48 L647.65 506.66 L647.92 504.99 L648.19 503.84 L648.46 503.48 L648.73 503.95 L649 505.11 L649.27 506.64 L649.54 508.11 L649.81 509.15 L650.08 509.52 L650.35 509.18 L650.62 508.27 L650.89 507.08 L651.16 505.92 L651.43 505.04 L651.7 504.56 L651.97 504.49 L652.24 504.77 L652.51 505.3 L652.78 506 L653.05 506.78 L653.32 507.55 L653.59 508.18 L653.86 508.55 L654.13 508.59 L654.4 508.27 L654.67 507.71 L654.94 507.06 L655.21 506.49 L655.48 506.13 L655.75 505.99 L656.02 505.99 L656.29 506.01 L656.56 505.9 L656.83 505.61 L657.1 505.16 L657.37 504.71 L657.64 504.41 L657.91 504.46 L658.18 504.96 L658.45 505.92 L658.72 507.21 L658.99 508.6 L659.26 509.83 L659.53 510.63 L659.8 510.78 L660.07 510.21 L660.34 508.95 L660.61 507.17 L660.88 505.15 L661.15 503.25 L661.42 501.85 L661.69 501.28 L661.96 501.77 L662.23 503.33 L662.5 505.74 L662.77 508.54 L663.04 511.16 L663.31 513.03 L663.58 513.74 L663.85 513.12 L664.12 511.32 L664.39 508.74 L664.66 505.89 L664.93 503.31 L665.2 501.42 L665.47 500.46 L665.74 500.49 L666.01 501.39 L666.28 502.93 L666.55 504.79 L666.82 506.67 L667.09 508.26 L667.36 509.38 L667.63 509.92 L667.9 509.93 L668.17 509.56 L668.44 509 L668.71 508.42 L668.98 507.9 L669.25 507.46 L669.52 507.02 L669.79 506.51 L670.06 505.91 L670.33 505.25 L670.6 504.67 L670.87 504.31 L671.14 504.3 L671.41 504.73 L671.68 505.56 L671.95 506.7 L672.22 507.94 L672.49 509.04 L672.76 509.78 L673.03 509.97 L673.3 509.51 L673.57 508.42 L673.84 506.85 L674.11 505.07 L674.38 503.38 L674.65 502.12 L674.92 501.57 L675.19 501.86 L675.46 503 L675.73 504.79 L676 506.91 L676.27 508.97 L676.54 510.6 L676.81 511.57 L677.08 511.78 L677.35 511.29 L677.62 510.26 L677.89 508.9 L678.16 507.4 L678.43 505.92 L678.7 504.61 L678.97 503.57 L679.24 502.91 L679.51 502.74 L679.78 503.08 L680.05 503.9 L680.32 505.08 L680.59 506.41 L680.86 507.64 L681.13 508.57 L681.4 509.04 L681.67 509.05 L681.94 508.69 L682.21 508.11 L682.48 507.48 L682.75 506.89 L683.02 506.39 L683.29 505.96 L683.56 505.59 L683.83 505.29 L684.1 505.13 L684.37 505.18 L684.64 505.5 L684.91 506.1 L685.18 506.88 L685.45 507.73 L685.72 508.48 L685.99 509.01 L686.26 509.22 L686.53 509.08 L686.8 508.58 L687.07 507.73 L687.34 506.6 L687.61 505.31 L687.88 504.04 L688.15 503.01 L688.42 502.49 L688.69 502.66 L688.96 503.6 L689.23 505.17 L689.5 507.06 L689.77 508.84 L690.04 510.11 L690.31 510.59 L690.58 510.23 L690.85 509.2 L691.12 507.83 L691.39 506.47 L691.66 505.38 L691.93 504.68 L692.2 504.35 L692.47 504.3 L692.74 504.48 L693.01 504.89 L693.28 505.57 L693.55 506.52 L693.82 507.71 L694.09 508.93 L694.36 509.92 L694.63 510.39 L694.9 510.16 L695.17 509.18 L695.44 507.64 L695.71 505.87 L695.98 504.25 L696.25 503.13 L696.52 502.72 L696.79 503 L697.06 503.82 L697.33 504.91 L697.6 505.97 L697.87 506.81 L698.14 507.34 L698.41 507.61 L698.68 507.73 L698.95 507.85 L699.22 508.04 L699.49 508.34 L699.76 508.7 L700.03 509.01 L700.3 509.15 L700.57 509.03 L700.84 508.63 L701.11 507.96 L701.38 507.13 L701.65 506.25 L701.92 505.45 L702.19 504.81 L702.46 504.37 L702.73 504.12 L703 504.01 L703.27 504.03 L703.54 504.19 L703.81 504.53 L704.08 505.09 L704.35 505.89 L704.62 506.88 L704.89 507.94 L705.16 508.9 L705.43 509.58 L705.7 509.81 L705.97 509.52 L706.24 508.72 L706.51 507.58 L706.78 506.34 L707.05 505.29 L707.32 504.66 L707.59 504.61 L707.86 505.11 L708.13 505.99 L708.4 506.95 L708.67 507.73 L708.94 508.12 L709.21 508.08 L709.48 507.71 L709.75 507.21 L710.02 506.76 L710.29 506.49 L710.56 506.38 L710.83 506.34 L711.1 506.25 L711.37 506.03 L711.64 505.71 L711.91 505.4 L712.18 505.26 L712.45 505.39 L712.72 505.84 L712.99 506.53 L713.26 507.28 L713.53 507.91 L713.8 508.22 L714.07 508.12 L714.34 507.61 L714.61 506.84 L714.88 506.03 L715.15 505.44 L715.42 505.27 L715.69 505.62 L715.96 506.43 L716.23 507.5 L716.5 508.51 L716.77 509.15 L717.04 509.17 L717.31 508.49 L717.58 507.22 L717.85 505.65 L718.12 504.16 L718.39 503.1 L718.66 502.73 L718.93 503.08 L719.2 504.03 L719.47 505.31 L719.74 506.62 L720.01 507.7 L720.28 508.43 L720.55 508.8 L720.82 508.92 L721.09 508.88 L721.36 508.76 L721.63 508.57 L721.9 508.27 L722.17 507.81 L722.44 507.17 L722.71 506.43 L722.98 505.72 L723.25 505.19 L723.52 504.97 L723.79 505.07 L724.06 505.4 L724.33 505.79 L724.6 506.06 L724.87 506.09 L725.14 505.91 L725.41 505.65 L725.68 505.49 L725.95 505.64 L726.22 506.17 L726.49 507.03 L726.76 508.04 L727.03 508.94 L727.3 509.5 L727.57 509.55 L727.84 509.07 L728.11 508.16 L728.38 506.99 L728.65 505.78 L728.92 504.77 L729.19 504.12 L729.46 503.96 L729.73 504.32 L730 505.14 L730.27 506.24 L730.54 507.39 L730.81 508.32 L731.08 508.84 L731.35 508.86 L731.62 508.42 L731.89 507.7 L732.16 506.92 L732.43 506.29 L732.7 505.93 L732.97 505.85 L733.24 505.96 L733.51 506.13 L733.78 506.27 L734.05 506.32 L734.32 506.29 L734.59 506.24 L734.86 506.22 L735.13 506.26 L735.4 506.33 L735.67 506.41 L735.94 506.48 L736.21 506.53 L736.48 506.6 L736.75 506.73 L737.02 506.92 L737.29 507.14 L737.56 507.32 L737.83 507.37 L738.1 507.25 L738.37 506.98 L738.64 506.61 L738.91 506.25 L739.18 505.99 L739.45 505.88 L739.72 505.94 L739.99 506.13 L740.26 506.4 L740.53 506.71 L740.8 507 L741.07 507.2 L741.34 507.28 L741.61 507.21 L741.88 507.01 L742.15 506.76 L742.42 506.54 L742.69 506.41 L742.96 506.39 L743.23 506.44 L743.5 506.47 L743.77 506.41 L744.04 506.23 L744.31 505.98 L744.58 505.78 L744.85 505.73 L745.12 505.92 L745.39 506.34 L745.66 506.92 L745.93 507.51 L746.2 508 L746.47 508.26 L746.74 508.25 L747.01 507.95 L747.28 507.4 L747.55 506.7 L747.82 505.96 L748.09 505.33 L748.36 504.99 L748.63 505.06 L748.9 505.55 L749.17 506.39 L749.44 507.33 L749.71 508.09 L749.98 508.43 L750.25 508.2 L750.52 507.49 L750.79 506.51 L751.06 505.59 L751.33 505.03 L751.6 504.99 L751.87 505.44 L752.14 506.22 L752.41 507.08 L752.68 507.77 L752.95 508.12 L753.22 508.05 L753.49 507.6 L753.76 506.89 L754.03 506.09 L754.3 505.4 L754.57 504.97 L754.84 504.91 L755.11 505.21 L755.38 505.79 L755.65 506.52 L755.92 507.23 L756.19 507.83 L756.46 508.23 L756.73 508.42 L757 508.39 L757.27 508.14 L757.54 507.7 L757.81 507.11 L758.08 506.48 L758.35 505.94 L758.62 505.6 L758.89 505.5 L759.16 505.59 L759.43 505.78 L759.7 505.93 L759.97 505.98 L760.24 505.96 L760.51 505.98 L760.78 506.15 L761.05 506.53 L761.32 507.07 L761.59 507.62 L761.86 508 L762.13 508.06 L762.4 507.77 L762.67 507.22 L762.94 506.57 L763.21 506.02 L763.48 505.72 L763.75 505.71 L764.02 505.95 L764.29 506.32 L764.56 506.68 L764.83 506.92 L765.1 507 L765.37 506.92 L765.64 506.76 L765.91 506.6 L766.18 506.5 L766.45 506.5 L766.72 506.6 L766.99 506.71 L767.26 506.78 L767.53 506.74 L767.8 506.58 L768.07 506.33 L768.34 506.1 L768.61 506 L768.88 506.13 L769.15 506.51 L769.42 507.09 L769.69 507.7 L769.96 508.15 L770.23 508.25 L770.5 507.92 L770.77 507.19 L771.04 506.24 L771.31 505.33 L771.58 504.73 L771.85 504.62 L772.12 505.05 L772.39 505.88 L772.66 506.84 L772.93 507.65 L773.2 508.05 L773.47 507.95 L773.74 507.4 L774.01 506.63 L774.28 505.92 L774.55 505.53 L774.82 505.6 L775.09 506.11 L775.36 506.87 L775.63 507.61 L775.9 508.03 L776.17 507.95 L776.44 507.38 L776.71 506.47 L776.98 505.53 L777.25 504.87 L777.52 504.71 L777.79 505.11 L778.06 505.95 L778.33 506.99 L778.6 507.92 L778.87 508.52 L779.14 508.66 L779.41 508.37 L779.68 507.77 L779.95 507.02 L780.22 506.31 L780.49 505.76 L780.76 505.43 L781.03 505.36 L781.3 505.52 L781.57 505.87 L781.84 506.34 L782.11 506.84 L782.38 507.28 L782.65 507.54 L782.92 507.57 L783.19 507.34 L783.46 506.89 L783.73 506.33 L784 505.8 L784.27 505.44 L784.54 505.34 L784.81 505.55 L785.08 506.05 L785.35 506.71 L785.62 507.4 L785.89 507.96 L786.16 508.27 L786.43 508.29 L786.7 508.02 L786.97 507.58 L787.24 507.07 L787.51 506.64 L787.78 506.36 L788.05 506.25 L788.32 506.27 L788.59 506.34 L788.86 506.38 L789.13 506.36 L789.4 506.3 L789.67 506.24 L789.94 506.24 L790.21 506.31 L790.48 506.41 L790.75 506.45 L791.02 506.39 L791.29 506.23 L791.56 506.02 L791.83 505.9 L792.1 505.97 L792.37 506.29 L792.64 506.8 L792.91 507.4 L793.18 507.91 L793.45 508.2 L793.72 508.18 L793.99 507.86 L794.26 507.34 L794.53 506.73 L794.8 506.18 L795.07 505.79 L795.34 505.62 L795.61 505.68 L795.88 505.91 L796.15 506.25 L796.42 506.61 L796.69 506.92 L796.96 507.11 L797.23 507.17 L797.5 507.11 L797.77 506.97 L798.04 506.8 L798.31 506.65 L798.58 506.56 L798.85 506.51 L799.12 506.48 L799.39 506.44 L799.66 506.35 L799.93 506.23 L800.2 506.11 L800.47 506.04 L800.74 506.08 L801.01 506.26 L801.28 506.59 L801.55 507.02 L801.82 507.47 L802.09 507.83 L802.36 508 L802.63 507.93 L802.9 507.62 L803.17 507.16 L803.44 506.65 L803.71 506.23 L803.98 505.96 L804.25 505.85 L804.52 505.84 L804.79 505.85 L805.06 505.81 L805.33 505.71 L805.6 505.63 L805.87 505.69 L806.14 505.98 L806.41 506.52 L806.68 507.24 L806.95 507.98 L807.22 508.56 L807.49 508.83 L807.76 508.71 L808.03 508.22 L808.3 507.46 L808.57 506.56 L808.84 505.66 L809.11 504.92 L809.38 504.44 L809.65 504.32 L809.92 504.58 L810.19 505.18 L810.46 506.01 L810.73 506.87 L811 507.56 L811.27 507.92 L811.54 507.9 L811.81 507.57 L812.08 507.12 L812.35 506.74 L812.62 506.61 L812.89 506.77 L813.16 507.13 L813.43 507.53 L813.7 507.76 L813.97 507.67 L814.24 507.21 L814.51 506.47 L814.78 505.62 L815.05 504.9 L815.32 504.53 L815.59 504.62 L815.86 505.21 L816.13 506.17 L816.4 507.3 L816.67 508.31 L816.94 508.94 L817.21 509.04 L817.48 508.56 L817.75 507.64 L818.02 506.54 L818.29 505.56 L818.56 504.98 L818.83 504.94 L819.1 505.42 L819.37 506.23 L819.64 507.09 L819.91 507.7 L820.18 507.84 L820.45 507.49 L820.72 506.77 L820.99 505.95 L821.26 505.33 L821.53 505.12 L821.8 505.44 L822.07 506.19 L822.34 507.15 L822.61 508.03 L822.88 508.56 L823.15 508.57 L823.42 508.06 L823.69 507.17 L823.96 506.15 L824.23 505.29 L824.5 504.81 L824.77 504.82 L825.04 505.29 L825.31 506.04 L825.58 506.87 L825.85 507.55 L826.12 507.93 L826.39 507.96 L826.66 507.7 L826.93 507.28 L827.2 506.84 L827.47 506.54 L827.74 506.46 L828.01 506.61 L828.28 506.89 L828.55 507.16 L828.82 507.29 L829.09 507.14 L829.36 506.68 L829.63 505.98 L829.9 505.2 L830.17 504.56 L830.44 504.23 L830.71 504.34 L830.98 504.88 L831.25 505.73 L831.52 506.7 L831.79 507.57 L832.06 508.22 L832.33 508.57 L832.6 508.67 L832.87 508.58 L833.14 508.37 L833.41 508.05 L833.68 507.61 L833.95 507.03 L834.22 506.33 L834.49 505.58 L834.76 504.93 L835.03 504.55 L835.3 504.54 L835.57 504.94 L835.84 505.67 L836.11 506.56 L836.38 507.42 L836.65 508.05 L836.92 508.38 L837.19 508.4 L837.46 508.18 L837.73 507.81 L838 507.39 L838.27 506.96 L838.54 506.52 L838.81 506.1 L839.08 505.7 L839.35 505.4 L839.62 505.27 L839.89 505.38 L840.16 505.7 L840.43 506.18 L840.7 506.67 L840.97 507.06 L841.24 507.26 L841.51 507.3 L841.78 507.24 L842.05 507.21 L842.32 507.27 L842.59 507.39 L842.86 507.48 L843.13 507.42 L843.4 507.14 L843.67 506.65 L843.94 506.06 L844.21 505.53 L844.48 505.18 L844.75 505.11 L845.02 505.27 L845.29 505.59 L845.56 505.98 L845.83 506.37 L846.1 506.74 L846.37 507.13 L846.64 507.51 L846.91 507.87 L847.18 508.1 L847.45 508.13 L847.72 507.89 L847.99 507.41 L848.26 506.8 L848.53 506.21 L848.8 505.83 L849.07 505.74 L849.34 505.96 L849.61 506.38 L849.88 506.84 L850.15 507.19 L850.42 507.36 L850.69 507.32 L850.96 507.14 L851.23 506.91 L851.5 506.71 L851.77 506.55 L852.04 506.4 L852.31 506.23 L852.58 506.02 L852.85 505.77 L853.12 505.57 L853.39 505.49 L853.66 505.61 L853.93 505.95 L854.2 506.45 L854.47 507.02 L854.74 507.52 L855.01 507.82 L855.28 507.84 L855.55 507.57 L855.82 507.11 L856.09 506.58 L856.36 506.16 L856.63 505.95 L856.9 506 L857.17 506.28 L857.44 506.65 L857.71 507.01 L857.98 507.25 L858.25 507.32 L858.52 507.24 L858.79 507.06 L859.06 506.81 L859.33 506.55 L859.6 506.27 L859.87 506 L860.14 505.76 L860.41 505.61 L860.68 505.61 L860.95 505.79 L861.22 506.14 L861.49 506.61 L861.76 507.09 L862.03 507.48 L862.3 507.68 L862.57 507.63 L862.84 507.38 L863.11 506.99 L863.38 506.59 L863.65 506.3 L863.92 506.2 L864.19 506.3 L864.46 506.53 L864.73 506.79 L865 506.97 L865.27 506.99 L865.54 506.84 L865.81 506.6 L866.08 506.36 L866.35 506.23 L866.62 506.22 L866.89 506.29 L867.16 506.34 L867.43 506.29 L867.7 506.12 L867.97 505.93 L868.24 505.86 L868.51 506.06 L868.78 506.59 L869.05 507.36 L869.32 508.16 L869.59 508.73 L869.86 508.87 L870.13 508.47 L870.4 507.63 L870.67 506.56 L870.94 505.54 L871.21 504.84 L871.48 504.61 L871.75 504.87 L872.02 505.49 L872.29 506.28 L872.56 506.98 L872.83 507.41 L873.1 507.47 L873.37 507.2 L873.64 506.73 L873.91 506.29 L874.18 506.06 L874.45 506.17 L874.72 506.59 L874.99 507.2 L875.26 507.77 L875.53 508.09 L875.8 508.03 L876.07 507.62 L876.34 506.99 L876.61 506.34 L876.88 505.85 L877.15 505.6 L877.42 505.58 L877.69 505.71 L877.96 505.86 L878.23 505.99 L878.5 506.1 L878.77 506.24 L879.04 506.47 L879.31 506.8 L879.58 507.21 L879.85 507.58 L880.12 507.8 L880.39 507.77 L880.66 507.48 L880.93 507 L881.2 506.47 L881.47 506.02 L881.74 505.78 L882.01 505.79 L882.28 506.01 L882.55 506.35 L882.82 506.7 L883.09 507 L883.36 507.21 L883.63 507.35 L883.9 507.41 L884.17 507.4 L884.44 507.3 L884.71 507.06 L884.98 506.7 L885.25 506.29 L885.52 505.93 L885.79 505.74 L886.06 505.79 L886.33 506.08 L886.6 506.5 L886.87 506.9 L887.14 507.13 L887.41 507.13 L887.68 506.93 L887.95 506.65 L888.22 506.41 L888.49 506.32 L888.76 506.36 L889.03 506.5 L889.3 506.62 L889.57 506.67 L889.84 506.65 L890.11 506.61 L890.38 506.66 L890.65 506.84 L890.92 507.15 L891.19 507.47 L891.46 507.65 L891.73 507.55 L892 507.08 L892.27 506.32 L892.54 505.46 L892.81 504.77 L893.08 504.5 L893.35 504.76 L893.62 505.53 L893.89 506.57 L894.16 507.56 L894.43 508.18 L894.7 508.26 L894.97 507.82 L895.24 507.08 L895.51 506.37 L895.78 506 L896.05 506.12 L896.32 506.7 L896.59 507.51 L896.86 508.2 L897.13 508.47 L897.4 508.18 L897.67 507.35 L897.94 506.19 L898.21 505.04 L898.48 504.19 L898.75 503.88 L899.02 504.17 L899.29 504.99 L899.56 506.15 L899.83 507.39 L900.1 508.49 L900.37 509.26 L900.64 509.58 L900.91 509.46 L901.18 508.93 L901.45 508.11 L901.72 507.14 L901.99 506.17 L902.26 505.31 L902.53 504.7 L902.8 504.39 L903.07 504.43 L903.34 504.78 L903.61 505.37 L903.88 506.11 L904.15 506.86 L904.42 507.51 L904.69 507.97 L904.96 508.2 L905.23 508.19 L905.5 507.98 L905.77 507.61 L906.04 507.13 L906.31 506.6 L906.58 506.06 L906.85 505.6 L907.12 505.27 L907.39 505.14 L907.66 505.25 L907.93 505.58 L908.2 506.06 L908.47 506.59 L908.74 507.02 L909.01 507.27 L909.28 507.28 L909.55 507.11 L909.82 506.82 L910.09 506.55 L910.36 506.36 L910.63 506.29 L910.9 506.29 L911.17 506.3 L911.44 506.29 L911.71 506.26 L911.98 506.26 L912.25 506.4 L912.52 506.72 L912.79 507.21 L913.06 507.8 L913.33 508.3 L913.6 508.55 L913.87 508.42 L914.14 507.87 L914.41 506.99 L914.68 505.99 L914.95 505.11 L915.22 504.57 L915.49 504.51 L915.76 504.95 L916.03 505.75 L916.3 506.68 L916.57 507.48 L916.84 507.93 L917.11 507.93 L917.38 507.53 L917.65 506.91 L917.92 506.32 L918.19 506 L918.46 506.03 L918.73 506.36 L919 506.79 L919.27 507.08 L919.54 507.04 L919.81 506.63 L920.08 506 L920.35 505.39 L920.62 505.09 L920.89 505.27 L921.16 505.93 L921.43 506.9 L921.7 507.89 L921.97 508.6 L922.24 508.84 L922.51 508.55 L922.78 507.86 L923.05 506.97 L923.32 506.14 L923.59 505.57 L923.86 505.37 L924.13 505.53 L924.4 505.96 L924.67 506.51 L924.94 507.01 L925.21 507.34 L925.48 507.41 L925.75 507.26 L926.02 506.96 L926.29 506.64 L926.56 506.41 L926.83 506.34 L927.1 506.42 L927.37 506.56 L927.64 506.66 L927.91 506.64 L928.18 506.5 L928.45 506.26 L928.72 506.04 L928.99 505.92 L929.26 505.95 L929.53 506.14 L929.8 506.44 L930.07 506.81 L930.34 507.2 L930.61 507.56 L930.88 507.84 L931.15 507.96 L931.42 507.84 L931.69 507.45 L931.96 506.8 L932.23 505.99 L932.5 505.24 L932.77 504.76 L933.04 504.73 L933.31 505.22 L933.58 506.09 L933.85 507.08 L934.12 507.88 L934.39 508.23 L934.66 508.03 L934.93 507.38 L935.2 506.53 L935.47 505.8 L935.74 505.42 L936.01 505.49 L936.28 505.95 L936.55 506.58 L936.82 507.16 L937.09 507.54 L937.36 507.68 L937.63 507.67 L937.9 507.63 L938.17 507.66 L938.44 507.78 L938.71 507.89 L938.98 507.87 L939.25 507.58 L939.52 506.99 L939.79 506.2 L940.06 505.37 L940.33 504.71 L940.6 504.37 L940.87 504.4 L941.14 504.71 L941.41 505.18 L941.68 505.67 L941.95 506.1 L942.22 506.48 L942.49 506.87 L942.76 507.34 L943.03 507.91 L943.3 508.53 L943.57 509.05 L943.84 509.31 L944.11 509.2 L944.38 508.66 L944.65 507.78 L944.92 506.69 L945.19 505.59 L945.46 504.68 L945.73 504.1 L946 503.93 L946.27 504.18 L946.54 504.81 L946.81 505.73 L947.08 506.77 L947.35 507.75 L947.62 508.47 L947.89 508.77 L948.16 508.6 L948.43 508.01 L948.7 507.16 L948.97 506.27 L949.24 505.55 L949.51 505.16 L949.78 505.13 L950.05 505.42 L950.32 505.89 L950.59 506.4 L950.86 506.81 L951.13 507.04 L951.4 507.07 L951.67 506.96 L951.94 506.79 L952.21 506.67 L952.48 506.66 L952.75 506.77 L953.02 506.98 L953.29 507.19 L953.56 507.35 L953.83 507.4 L954.1 507.35 L954.37 507.21 L954.64 507.02 L954.91 506.79 L955.18 506.53 L955.45 506.23 L955.72 505.93 L955.99 505.66 L956.26 505.5 L956.53 505.5 L956.8 505.69 L957.07 506.05 L957.34 506.53 L957.61 507.04 L957.88 507.48 L958.15 507.75 L958.42 507.8 L958.69 507.58 L958.96 507.14 L959.23 506.56 L959.5 505.98 L959.77 505.57 L960.04 505.49 L960.31 505.76 L960.58 506.35 L960.85 507.06 L961.12 507.69 L961.39 508.03 L961.66 508 L961.93 507.62 L962.2 507.04 L962.47 506.44 L962.74 506 L963.01 505.77 L963.28 505.75 L963.55 505.87 L963.82 506.03 L964.09 506.17 L964.36 506.27 L964.63 506.35 L964.9 506.46 L965.17 506.62 L965.44 506.85 L965.71 507.13 L965.98 507.44 L966.25 507.72 L966.52 507.88 L966.79 507.88 L967.06 507.68 L967.33 507.26 L967.6 506.68 L967.87 506.03 L968.14 505.42 L968.41 505 L968.68 504.87 L968.95 505.08 L969.22 505.59 L969.49 506.28 L969.76 506.98 L970.03 507.48 L970.3 507.65 L970.57 507.48 L970.84 507.06 L971.11 506.61 L971.38 506.33 L971.65 506.4 L971.92 506.83 L972.19 507.5 L972.46 508.16 L972.73 508.54 L973 508.45 L973.27 507.85 L973.54 506.88 L973.81 505.79 L974.08 504.9 L974.35 504.47 L974.62 504.6 L974.89 505.23 L975.16 506.14 L975.43 507.04 L975.7 507.68 L975.97 507.92 L976.24 507.75 L976.51 507.3 L976.78 506.73 L977.05 506.25 L977.32 505.96 L977.59 505.91 L977.86 506.09 L978.13 506.4 L978.4 506.74 L978.67 506.99 L978.94 507.06 L979.21 506.93 L979.48 506.62 L979.75 506.22 L980.02 505.85 L980.29 505.62 L980.56 505.61 L980.83 505.85 L981.1 506.3 L981.37 506.85 L981.64 507.4 L981.91 507.82 L982.18 507.98 L982.45 507.84 L982.72 507.41 L982.99 506.74 L983.26 506 L983.53 505.32 L983.8 504.88 L984.07 504.75 L984.34 504.97 L984.61 505.5 L984.88 506.25 L985.15 507.11 L985.42 507.95 L985.69 508.67 L985.96 509.14 L986.23 509.26 L986.5 508.96 L986.77 508.22 L987.04 507.11 L987.31 505.83 L987.58 504.62 L987.85 503.78 L988.12 503.52 L988.39 503.95 L988.66 504.98 L988.93 506.37 L989.2 507.76 L989.47 508.78 L989.74 509.15 L990.01 508.82 L990.28 507.9 L990.55 506.7 L990.82 505.57 L991.09 504.83 L991.36 504.67 L991.63 505.09 L991.9 505.97 L992.17 507.05 L992.44 508.07 L992.71 508.82 L992.98 509.15 L993.25 509 L993.52 508.42 L993.79 507.5 L994.06 506.4 L994.33 505.33 L994.6 504.45 L994.87 503.96 L995.14 503.94 L995.41 504.41 L995.68 505.3 L995.95 506.45 L996.22 507.64 L996.49 508.64 L996.76 509.28 L997.03 509.43 L997.3 509.1 L997.57 508.39 L997.84 507.47 L998.11 506.56 L998.38 505.8 L998.65 505.31 L998.92 505.1 L999.19 505.13 L999.46 505.33 L999.73 505.63 L1000 505.98 L1000.27 506.34 L1000.54 506.69 L1000.81 507.02 L1001.08 507.28 L1001.35 507.47 L1001.62 507.55 L1001.89 507.52 L1002.16 507.36 L1002.43 507.1 L1002.7 506.77 L1002.97 506.42 L1003.24 506.08 L1003.51 505.82 L1003.78 505.67 L1004.05 505.68 L1004.32 505.84 L1004.59 506.18 L1004.86 506.65 L1005.13 507.16 L1005.4 507.61 L1005.67 507.87 L1005.94 507.85 L1006.21 507.54 L1006.48 507.04 L1006.75 506.51 L1007.02 506.14 L1007.29 506.05 L1007.56 506.26 L1007.83 506.64 L1008.1 507 L1008.37 507.13 L1008.64 506.96 L1008.91 506.54 L1009.18 506.03 L1009.45 505.65 L1009.72 505.57 L1009.99 505.82 L1010.26 506.31 L1010.53 506.83 L1010.8 507.15 L1011.07 507.14 L1011.34 506.81 L1011.61 506.31 L1011.88 505.87 L1012.15 505.7 L1012.42 505.9 L1012.69 506.42 L1012.96 507.09 L1013.23 507.7 L1013.5 508.06 L1013.77 508.08 L1014.04 507.81 L1014.31 507.35 L1014.58 506.86 L1014.85 506.45 L1015.12 506.18 L1015.39 506.04 L1015.66 506 L1015.93 505.98 L1016.2 505.98 L1016.47 505.96 L1016.74 505.95 L1017.01 505.96 L1017.28 506 L1017.55 506.1 L1017.82 506.3 L1018.09 506.61 L1018.36 507.05 L1018.63 507.57 L1018.9 508.09 L1019.17 508.47 L1019.44 508.56 L1019.71 508.25 L1019.98 507.54 L1020.25 506.52 L1020.52 505.44 L1020.79 504.57 L1021.06 504.17 L1021.33 504.39 L1021.6 505.18 L1021.87 506.34 L1022.14 507.54 L1022.41 508.47 L1022.68 508.89 L1022.95 508.75 L1023.22 508.15 L1023.49 507.34 L1023.76 506.55 L1024.03 505.96 L1024.3 505.65 L1024.57 505.58 L1024.84 505.66 L1025.11 505.8 L1025.38 505.98 L1025.65 506.2 L1025.92 506.47 L1026.19 506.81 L1026.46 507.17 L1026.73 507.46 L1027 507.61 L1027.27 507.54 L1027.54 507.25 L1027.81 506.83 L1028.08 506.4 L1028.35 506.09 L1028.62 506.01 L1028.89 506.17 L1029.16 506.5 L1029.43 506.87 L1029.7 507.14 L1029.97 507.2 L1030.24 507.03 L1030.51 506.69 L1030.78 506.29 L1031.05 505.97 L1031.32 505.83 L1031.59 505.9 L1031.86 506.14 L1032.13 506.45 L1032.4 506.71 L1032.67 506.81 L1032.94 506.69 L1033.21 506.38 L1033.48 505.96 L1033.75 505.59 L1034.02 505.42 L1034.29 505.57 L1034.56 506.05 L1034.83 506.78 L1035.1 507.61 L1035.37 508.32 L1035.64 508.74 L1035.91 508.76 L1036.18 508.37 L1036.45 507.66 L1036.72 506.82 L1036.99 506.03 L1037.26 505.47 L1037.53 505.25 L1037.8 505.37 L1038.07 505.73 L1038.34 506.19 L1038.61 506.57 L1038.88 506.75 L1039.15 506.72 L1039.42 506.53 L1039.69 506.31 L1039.96 506.2 L1040.23 506.28 L1040.5 506.57 L1040.77 506.98 L1041.04 507.39 L1041.31 507.7 L1041.58 507.81 L1041.85 507.73 L1042.12 507.47 L1042.39 507.12 L1042.66 506.73 L1042.93 506.37 L1043.2 506.07 L1043.47 505.9 L1043.74 505.85 L1044.01 505.92 L1044.28 506.08 L1044.55 506.22 L1044.82 506.28 L1045.09 506.21 L1045.36 506.01 L1045.63 505.79 L1045.9 505.66 L1046.17 505.74 L1046.44 506.09 L1046.71 506.67 L1046.98 507.34 L1047.25 507.92 L1047.52 508.27 L1047.79 508.3 L1048.06 508.02 L1048.33 507.54 L1048.6 507.02 L1048.87 506.61 L1049.14 506.39 L1049.41 506.37 L1049.68 506.46 L1049.95 506.55 L1050.22 506.55 L1050.49 506.42 L1050.76 506.21 L1051.03 506.04 L1051.3 506.04 L1051.57 506.27 L1051.84 506.73 L1052.11 507.27 L1052.38 507.7 L1052.65 507.84 L1052.92 507.59 L1053.19 507 L1053.46 506.24 L1053.73 505.58 L1054 505.24 L1054.27 505.32 L1054.54 505.78 L1054.81 506.46 L1055.08 507.1 L1055.35 507.52 L1055.62 507.61 L1055.89 507.4 L1056.16 507.03 L1056.43 506.67 L1056.7 506.46 L1056.97 506.46 L1057.24 506.63 L1057.51 506.87 L1057.78 507.04 L1058.05 507.05 L1058.32 506.87 L1058.59 506.51 L1058.86 506.06 L1059.13 505.62 L1059.4 505.32 L1059.67 505.25 L1059.94 505.43 L1060.21 505.88 L1060.48 506.51 L1060.75 507.24 L1061.02 507.93 L1061.29 508.45 L1061.56 508.68 L1061.83 508.57 L1062.1 508.11 L1062.37 507.4 L1062.64 506.6 L1062.91 505.88 L1063.18 505.43 L1063.45 505.32 L1063.72 505.55 L1063.99 506.01 L1064.26 506.52 L1064.53 506.9 L1064.8 507.03 L1065.07 506.9 L1065.34 506.6 L1065.61 506.28 L1065.88 506.11 L1066.15 506.17 L1066.42 506.46 L1066.69 506.87 L1066.96 507.26 L1067.23 507.49 L1067.5 507.46 L1067.77 507.19 L1068.04 506.76 L1068.31 506.3 L1068.58 505.96 L1068.85 505.83 L1069.12 505.95 L1069.39 506.3 L1069.66 506.76 L1069.93 507.16 L1070.2 507.35 L1070.47 507.24 L1070.74 506.83 L1071.01 506.22 L1071.28 505.62 L1071.55 505.23 L1071.82 505.19 L1072.09 505.52 L1072.36 506.13 L1072.63 506.82 L1072.9 507.41 L1073.17 507.76 L1073.44 507.85 L1073.71 507.71 L1073.98 507.45 L1074.25 507.17 L1074.52 506.91 L1074.79 506.72 L1075.06 506.57 L1075.33 506.46 L1075.6 506.4 L1075.87 506.39 L1076.14 506.44 L1076.41 506.51 L1076.68 506.58 L1076.95 506.61 L1077.22 506.6 L1077.49 506.57 L1077.76 506.57 L1078.03 506.61 L1078.3 506.68 L1078.57 506.73 L1078.84 506.69 L1079.11 506.52 L1079.38 506.25 L1079.65 505.97 L1079.92 505.81 L1080.19 505.88 L1080.46 506.22 L1080.73 506.77 L1081 507.37 L1081.27 507.87 L1081.54 508.1 L1081.81 508.02 L1082.08 507.66 L1082.35 507.13 L1082.62 506.59 L1082.89 506.16 L1083.16 505.94 L1083.43 505.96 L1083.7 506.2 L1083.97 506.58 L1084.24 506.99 L1084.51 507.31 L1084.78 507.44 L1085.05 507.36 L1085.32 507.1 L1085.59 506.74 L1085.86 506.36 L1086.13 506.05 L1086.4 505.8 L1086.67 505.61 L1086.94 505.42 L1087.21 505.24 L1087.48 505.12 L1087.75 505.15 L1088.02 505.44 L1088.29 506.03 L1088.56 506.86 L1088.83 507.82 L1089.1 508.7 L1089.37 509.32 L1089.64 509.56 L1089.91 509.36 L1090.18 508.78 L1090.45 507.9 L1090.72 506.85 L1090.99 505.75 L1091.26 504.74 L1091.53 503.94 L1091.8 503.48 L1092.07 503.44 L1092.34 503.88 L1092.61 504.79 L1092.88 506.04 L1093.15 507.44 L1093.42 508.75 L1093.69 509.72 L1093.96 510.17 L1094.23 510.02 L1094.5 509.31 L1094.77 508.18 L1095.04 506.83 L1095.31 505.51 L1095.58 504.43 L1095.85 503.77 L1096.12 503.62 L1096.39 503.98 L1096.66 504.75 L1096.93 505.74 L1097.2 506.73 L1097.47 507.5 L1097.74 507.92 L1098.01 507.98 L1098.28 507.75 L1098.55 507.41 L1098.82 507.12 L1099.09 506.99 L1099.36 507.03 L1099.63 507.17 L1099.9 507.26 L1100.17 507.18 L1100.44 506.88 L1100.71 506.42 L1100.98 505.97 L1101.25 505.7 L1101.52 505.73 L1101.79 506.07 L1102.06 506.57 L1102.33 507.04 L1102.6 507.28 L1102.87 507.19 L1103.14 506.83 L1103.41 506.34 L1103.68 505.93 L1103.95 505.77 L1104.22 505.93 L1104.49 506.36 L1104.76 506.9 L1105.03 507.37 L1105.3 507.61 L1105.57 507.56 L1105.84 507.29 L1106.11 506.9 L1106.38 506.56 L1106.65 506.38 L1106.92 506.4 L1107.19 506.6 L1107.46 506.87 L1107.73 507.08 L1108 507.16 L1108.27 507.06 L1108.54 506.8 L1108.81 506.46 L1109.08 506.14 L1109.35 505.93 L1109.62 505.91 L1109.89 506.1 L1110.16 506.46 L1110.43 506.91 L1110.7 507.32 L1110.97 507.54 L1111.24 507.48 L1111.51 507.13 L1111.78 506.59 L1112.05 506.04 L1112.32 505.68 L1112.59 505.68 L1112.86 506.06 L1113.13 506.71 L1113.4 507.4 L1113.67 507.9 L1113.94 508.03 L1114.21 507.74 L1114.48 507.11 L1114.75 506.33 L1115.02 505.61 L1115.29 505.12 L1115.56 504.93 L1115.83 505.03 L1116.1 505.35 L1116.37 505.76 L1116.64 506.19 L1116.91 506.59 L1117.18 506.95 L1117.45 507.31 L1117.72 507.67 L1117.99 507.99 L1118.26 508.19 L1118.53 508.18 L1118.8 507.9 L1119.07 507.38 L1119.34 506.72 L1119.61 506.09 L1119.88 505.67 L1120.15 505.55 L1120.42 505.74 L1120.69 506.13 L1120.96 506.58 L1121.23 506.93 L1121.5 507.1 L1121.77 507.07 L1122.04 506.89 L1122.31 506.65 L1122.58 506.41 L1122.85 506.24 L1123.12 506.15 L1123.39 506.17 L1123.66 506.3 L1123.93 506.51 L1124.2 506.77 L1124.47 507.01 L1124.74 507.19 L1125.01 507.25 L1125.28 507.19 L1125.55 507.01 L1125.82 506.74 L1126.09 506.44 L1126.36 506.15 L1126.63 505.9 L1126.9 505.74 L1127.17 505.72 L1127.44 505.89 L1127.71 506.26 L1127.98 506.81 L1128.25 507.46 L1128.52 508.08 L1128.79 508.5 L1129.06 508.6 L1129.33 508.31 L1129.6 507.7 L1129.87 506.92 L1130.14 506.15 L1130.41 505.57 L1130.68 505.27 L1130.95 505.24 L1131.22 505.38 L1131.49 505.56 L1131.76 505.71 L1132.03 505.81 L1132.3 505.91 L1132.57 506.09 L1132.84 506.41 L1133.11 506.84 L1133.38 507.34 L1133.65 507.79 L1133.92 508.07 L1134.19 508.14 L1134.46 507.99 L1134.73 507.67 L1135 507.27 L1135.27 506.86 L1135.54 506.5 L1135.81 506.22 L1136.08 506.01 L1136.35 505.88 L1136.62 505.84 L1136.89 505.89 L1137.16 506.05 L1137.43 506.31 L1137.7 506.6 L1137.97 506.86 L1138.24 507.02 L1138.51 507.03 L1138.78 506.89 L1139.05 506.64 L1139.32 506.38 L1139.59 506.17 L1139.86 506.07 L1140.13 506.11 L1140.4 506.25 L1140.67 506.42 L1140.94 506.57 L1141.21 506.65 L1141.48 506.66 L1141.75 506.64 L1142.02 506.67 L1142.29 506.78 L1142.56 506.98 L1142.83 507.21 L1143.1 507.37 L1143.37 507.39 L1143.64 507.22 L1143.91 506.91 L1144.18 506.56 L1144.45 506.27 L1144.72 506.13 L1144.99 506.16 L1145.26 506.31 L1145.53 506.52 L1145.8 506.68 L1146.07 506.76 L1146.34 506.75 L1146.61 506.66 L1146.88 506.57 L1147.15 506.54 L1147.42 506.61 L1147.69 506.78 L1147.96 507.02 L1148.23 507.24 L1148.5 507.35 L1148.77 507.3 L1149.04 507.06 L1149.31 506.69 L1149.58 506.3 L1149.85 506.02 L1150.12 505.96 L1150.39 506.15 L1150.66 506.52 L1150.93 506.97 L1151.2 507.35 L1151.47 507.56 L1151.74 507.54 L1152.01 507.32 L1152.28 506.99 L1152.55 506.65 L1152.82 506.38 L1153.09 506.21 L1153.36 506.11 L1153.63 506.03 L1153.9 505.92 L1154.17 505.78 L1154.44 505.63 L1154.71 505.55 L1154.98 505.63 L1155.25 505.9 L1155.52 506.37 L1155.79 506.92 L1156.06 507.44 L1156.33 507.77 L1156.6 507.83 L1156.87 507.59 L1157.14 507.15 L1157.41 506.62 L1157.68 506.19 L1157.95 505.98 L1158.22 506.04 L1158.49 506.32 L1158.76 506.72 L1159.03 507.07 L1159.3 507.27 L1159.57 507.23 L1159.84 507 L1160.11 506.68 L1160.38 506.4 L1160.65 506.3 L1160.92 506.43 L1161.19 506.75 L1161.46 507.17 L1161.73 507.53 L1162 507.7 L1162.27 507.61 L1162.54 507.25 L1162.81 506.73 L1163.08 506.17 L1163.35 505.7 L1163.62 505.42 L1163.89 505.36 L1164.16 505.51 L1164.43 505.83 L1164.7 506.25 L1164.97 506.7 L1165.24 507.09 L1165.51 507.35 L1165.78 507.44 L1166.05 507.36 L1166.32 507.13 L1166.59 506.86 L1166.86 506.65 L1167.13 506.57 L1167.4 506.64 L1167.67 506.83 L1167.94 507.02 L1168.21 507.14 L1168.48 507.09 L1168.75 506.88 L1169.02 506.53 L1169.29 506.12 L1169.56 505.76 L1169.83 505.5 L1170.1 505.41 L1170.37 505.49 L1170.64 505.73 L1170.91 506.1 L1171.18 506.54 L1171.45 506.99 L1171.72 507.4 L1171.99 507.76 L1172.26 508.06 L1172.53 508.29 L1172.8 508.44 L1173.07 508.43 L1173.34 508.2 L1173.61 507.65 L1173.88 506.79 L1174.15 505.72 L1174.42 504.65 L1174.69 503.87 L1174.96 503.63 L1175.23 504.07 L1175.5 505.12 L1175.77 506.53 L1176.04 507.92 L1176.31 508.94 L1176.58 509.33 L1176.85 509.03 L1177.12 508.19 L1177.39 507.06 L1177.66 505.96 L1177.93 505.13 L1178.2 504.74 L1178.47 504.83 L1178.74 505.35 L1179.01 506.17 L1179.28 507.08 L1179.55 507.9 L1179.82 508.41 L1180.09 508.49 L1180.36 508.08 L1180.63 507.26 L1180.9 506.22 L1181.17 505.2 L1181.44 504.47 L1181.71 504.23 L1181.98 504.55 L1182.25 505.34 L1182.52 506.41 L1182.79 507.5 L1183.06 508.34 L1183.33 508.76 L1183.6 508.72 L1183.87 508.27 L1184.14 507.58 L1184.41 506.84 L1184.68 506.21 L1184.95 505.82 L1185.22 505.67 L1185.49 505.74 L1185.76 505.92 L1186.03 506.12 L1186.3 506.26 L1186.57 506.33 L1186.84 506.36 L1187.11 506.41 L1187.38 506.56 L1187.65 506.83 L1187.92 507.18 L1188.19 507.53 L1188.46 507.75 L1188.73 507.74 L1189 507.45 L1189.27 506.92 L1189.54 506.26 L1189.81 505.66 L1190.08 505.26 L1190.35 505.18 L1190.62 505.44 L1190.89 505.95 L1191.16 506.61 L1191.43 507.26 L1191.7 507.78 L1191.97 508.09 L1192.24 508.16 L1192.51 508.01 L1192.78 507.65 L1193.05 507.15 L1193.32 506.57 L1193.59 506 L1193.86 505.53 L1194.13 505.25 L1194.4 505.23 L1194.67 505.46 L1194.94 505.9 L1195.21 506.45 L1195.48 506.97 L1195.75 507.38 L1196.02 507.6 L1196.29 507.62 L1196.56 507.46 L1196.83 507.19 L1197.1 506.86 L1197.37 506.53 L1197.64 506.27 L1197.91 506.14 L1198.18 506.17 L1198.45 506.37 L1198.72 506.7 L1198.99 507.06 L1199.26 507.33 L1199.53 507.37 L1199.8 507.13 L1200.07 506.63 L1200.34 505.97 L1200.61 505.35 L1200.88 504.95 L1201.15 504.92 L1201.42 505.3 L1201.69 506.03 L1201.96 506.94 L1202.23 507.82 L1202.5 508.46 L1202.77 508.71 L1203.04 508.54 L1203.31 507.99 L1203.58 507.21 L1203.85 506.4 L1204.12 505.77 L1204.39 505.46 L1204.66 505.56 L1204.93 506 L1205.2 506.62 L1205.47 507.2 L1205.74 507.51 L1206.01 507.41 L1206.28 506.9 L1206.55 506.14 L1206.82 505.38 L1207.09 504.91 L1207.36 504.91 L1207.63 505.41 L1207.9 506.24 L1208.17 507.12 L1208.44 507.75 L1208.71 507.94 L1208.98 507.69 L1209.25 507.18 L1209.52 506.65 L1209.79 506.35 L1210.06 506.36 L1210.33 506.62 L1210.6 506.95 L1210.87 507.15 L1211.14 507.13 L1211.41 506.9 L1211.68 506.6 L1211.95 506.38 L1212.22 506.36 L1212.49 506.54 L1212.76 506.82 L1213.03 507.04 L1213.3 507.09 L1213.57 506.93 L1213.84 506.59 L1214.11 506.21 L1214.38 505.92 L1214.65 505.84 L1214.92 506.03 L1215.19 506.47 L1215.46 507.04 L1215.73 507.62 L1216 508.03 L1216.27 508.12 L1216.54 507.81 L1216.81 507.12 L1217.08 506.18 L1217.35 505.2 L1217.62 504.45 L1217.89 504.15 L1218.16 504.41 L1218.43 505.19 L1218.7 506.29 L1218.97 507.43 L1219.24 508.27 L1219.51 508.6 L1219.78 508.36 L1220.05 507.67 L1220.32 506.79 L1220.59 506.04 L1220.86 505.69 L1221.13 505.85 L1221.4 506.46 L1221.67 507.26 L1221.94 507.95 L1222.21 508.22 L1222.48 507.93 L1222.75 507.12 L1223.02 505.99 L1223.29 504.89 L1223.56 504.15 L1223.83 503.99 L1224.1 504.47 L1224.37 505.46 L1224.64 506.72 L1224.91 507.93 L1225.18 508.83 L1225.45 509.25 L1225.72 509.17 L1225.99 508.66 L1226.26 507.85 L1226.53 506.93 L1226.8 506.05 L1227.07 505.33 L1227.34 504.87 L1227.61 504.72 L1227.88 504.89 L1228.15 505.32 L1228.42 505.92 L1228.69 506.54 L1228.96 507.04 L1229.23 507.32 L1229.5 507.36 L1229.77 507.22 L1230.04 507.01 L1230.31 506.83 L1230.58 506.76 L1230.85 506.8 L1231.12 506.91 L1231.39 506.99 L1231.66 507 L1231.93 506.89 L1232.2 506.72 L1232.47 506.54 L1232.74 506.43 L1233.01 506.43 L1233.28 506.55 L1233.55 506.75 L1233.82 506.95 L1234.09 507.05 L1234.36 507.02 L1234.63 506.85 L1234.9 506.59 L1235.17 506.32 L1235.44 506.09 L1235.71 505.96 L1235.98 505.92 L1236.25 505.95 L1236.52 506.03 L1236.79 506.15 L1237.06 506.33 L1237.33 506.61 L1237.6 507.02 L1237.87 507.51 L1238.14 508 L1238.41 508.36 L1238.68 508.47 L1238.95 508.2 L1239.22 507.54 L1239.49 506.58 L1239.76 505.49 L1240.03 504.53 L1240.3 503.96 L1240.57 503.99 L1240.84 504.67 L1241.11 505.89 L1241.38 507.37 L1241.65 508.74 L1241.92 509.62 L1242.19 509.76 L1242.46 509.12 L1242.73 507.88 L1243 506.39 L1243.27 505.08 L1243.54 504.31 L1243.81 504.27 L1244.08 504.91 L1244.35 505.98 L1244.62 507.14 L1244.89 508.06 L1245.16 508.51 L1245.43 508.45 L1245.7 507.94 L1245.97 507.17 L1246.24 506.34 L1246.51 505.64 L1246.78 505.2 L1247.05 505.08 L1247.32 505.27 L1247.59 505.68 L1247.86 506.2 L1248.13 506.68 L1248.4 507.03 L1248.67 507.17 L1248.94 507.14 L1249.21 507.01 L1249.48 506.88 L1249.75 506.81 L1250.02 506.85 L1250.29 506.94 L1250.56 507.03 L1250.83 507.04 L1251.1 506.95 L1251.37 506.78 L1251.64 506.6 L1251.91 506.48 L1252.18 506.45 L1252.45 506.49 L1252.72 506.52 L1252.99 506.44 L1253.26 506.18 L1253.53 505.79 L1253.8 505.4 L1254.07 505.2 L1254.34 505.37 L1254.61 505.96 L1254.88 506.88 L1255.15 507.92 L1255.42 508.77 L1255.69 509.16 L1255.96 508.98 L1256.23 508.26 L1256.5 507.2 L1256.77 506.07 L1257.04 505.16 L1257.31 504.66 L1257.58 504.64 L1257.85 505.04 L1258.12 505.73 L1258.39 506.52 L1258.66 507.25 L1258.93 507.8 L1259.2 508.08 L1259.47 508.09 L1259.74 507.82 L1260.01 507.32 L1260.28 506.64 L1260.55 505.88 L1260.82 505.19 L1261.09 504.74 L1261.36 504.67 L1261.63 505.07 L1261.9 505.89 L1262.17 506.98 L1262.44 508.06 L1262.71 508.87 L1262.98 509.2 L1263.25 508.98 L1263.52 508.26 L1263.79 507.25 L1264.06 506.18 L1264.33 505.27 L1264.6 504.7 L1264.87 504.52 L1265.14 504.71 L1265.41 505.17 L1265.68 505.79 L1265.95 506.43 L1266.22 507 L1266.49 507.43 L1266.76 507.71 L1267.03 507.84 L1267.3 507.87 L1267.57 507.82 L1267.84 507.7 L1268.11 507.51 L1268.38 507.23 L1268.65 506.88 L1268.92 506.49 L1269.19 506.15 L1269.46 505.93 L1269.73 505.91 L1270 506.11 L1270.27 506.48 L1270.54 506.91 L1270.81 507.26 L1271.08 507.42 L1271.35 507.35 L1271.62 507.07 L1271.89 506.68 L1272.16 506.29 L1272.43 505.97 L1272.7 505.76 L1272.97 505.63 L1273.24 505.55 L1273.51 505.51 L1273.78 505.55 L1274.05 505.73 L1274.32 506.11 L1274.59 506.69 L1274.86 507.4 L1275.13 508.1 L1275.4 508.62 L1275.67 508.81 L1275.94 508.59 L1276.21 507.97 L1276.48 507.08 L1276.75 506.1 L1277.02 505.25 L1277.29 504.71 L1277.56 504.61 L1277.83 504.96 L1278.1 505.66 L1278.37 506.52 L1278.64 507.29 L1278.91 507.79 L1279.18 507.92 L1279.45 507.7 L1279.72 507.25 L1279.99 506.73 L1280.26 506.3 L1280.53 506.08 L1280.8 506.08 L1281.07 506.28 L1281.34 506.59 L1281.61 506.94 L1281.88 507.23 L1282.15 507.39 L1282.42 507.37 L1282.69 507.15 L1282.96 506.74 L1283.23 506.2 L1283.5 505.65 L1283.77 505.22 L1284.04 505.04 L1284.31 505.2 L1284.58 505.71 L1284.85 506.48 L1285.12 507.34 L1285.39 508.09 L1285.66 508.53 L1285.93 508.57 L1286.2 508.21 L1286.47 507.59 L1286.74 506.9 L1287.01 506.36 L1287.28 506.1 L1287.55 506.14 L1287.82 506.37 L1288.09 506.61 L1288.36 506.71 L1288.63 506.57 L1288.9 506.26 L1289.17 505.9 L1289.44 505.67 L1289.71 505.7 L1289.98 505.97 L1290.25 506.39 L1290.52 506.8 L1290.79 507.06 L1291.06 507.13 L1291.33 507.06 L1291.6 506.99 L1291.87 507.04 L1292.14 507.26 L1292.41 507.59 L1292.68 507.89 L1292.95 507.99 L1293.22 507.8 L1293.49 507.31 L1293.76 506.62 L1294.03 505.88 L1294.3 505.25 L1294.57 504.83 L1294.84 504.66 L1295.11 504.73 L1295.38 505.04 L1295.65 505.54 L1295.92 506.2 L1296.19 506.96 L1296.46 507.74 L1296.73 508.39 L1297 508.77 L1297.27 508.78 L1297.54 508.38 L1297.81 507.65 L1298.08 506.76 L1298.35 505.93 L1298.62 505.35 L1298.89 505.15 L1299.16 505.33 L1299.43 505.79 L1299.7 506.34 L1299.97 506.79 L1300.24 507 L1300.51 506.93 L1300.78 506.64 L1301.05 506.28 L1301.32 506.01 L1301.59 505.95 L1301.86 506.16 L1302.13 506.59 L1302.4 507.11 L1302.67 507.59 L1302.94 507.91 L1303.21 508 L1303.48 507.86 L1303.75 507.55 L1304.02 507.15 L1304.29 506.74 L1304.56 506.4 L1304.83 506.14 L1305.1 505.97 L1305.37 505.89 L1305.64 505.89 L1305.91 505.95 L1306.18 506.05 L1306.45 506.2 L1306.72 506.37 L1306.99 506.56 L1307.26 506.73 L1307.53 506.87 L1307.8 506.95 L1308.07 506.94 L1308.34 506.85 L1308.61 506.7 L1308.88 506.54 L1309.15 506.45 L1309.42 506.48 L1309.69 506.67 L1309.96 506.97 L1310.23 507.31 L1310.5 507.56 L1310.77 507.64 L1311.04 507.5 L1311.31 507.16 L1311.58 506.7 L1311.85 506.21 L1312.12 505.79 L1312.39 505.51 L1312.66 505.4 L1312.93 505.48" fill="none" stroke="#c8c800" stroke-width="2.0" stroke-linejoin="round"/>
<path d="M341.26 733.26 L343.95 746.68 L345.74 758.62 L347.68 763.39 L349.17 757.12 L351.11 748.92 L352.9 751.16 L354.39 758.62 L355.88 761.6 L357.37 760.11 L359.61 758.32 L361.55 756.83 L364.09 746.68 L366.32 749.67 L367.52 756.38 L369.31 755.63 L371.55 730.27 L373.48 717.6 L375.27 728.78 L377.51 757.12 L379.75 784.72 L381.99 779.5 L384.22 761.6 L386.46 755.63 L388.4 752.65 L390.19 739.22 L391.68 719.83 L393.47 700.44 L395.41 716.85 L397.35 754.14 L399.44 787.7 L401.68 769.06 L403.91 758.32 L405.85 767.57 L407.64 770.55 L409.58 751.16 L411.82 727.29 L413.76 722.82 L415.85 728.04 L418.23 740.72 L420.77 757.87 L423.01 759.36 L425.24 760.11 L427.18 770.55 L428.97 776.22 L431.21 754.14 L433.45 727.29 L435.24 740.72 L437.18 764.58 L438.37 771.29 L440.16 746.68 L441.65 725.8 L442.85 718.64 L444.34 728.78 L446.13 764.58 L447.92 778.01 L449.86 767.57 L452.09 746.68 L454.33 734.75 L456.57 737.73 L458.81 746.68 L460.75 755.63 L462.54 760.11 L464.77 757.87 L467.76 756.38 L470.74 742.95 L472.98 745.94 L475.96 771.29 L478.2 754.14 L480.44 730.27 L482.37 746.68 L484.91 766.82 L487.15 752.65 L488.64 742.95 L490.88 745.94 L491.62 755.63 L493.86 754.89 L496.1 730.27 L498.34 734 L500.57 749.67 L502.81 767.57 L505.35 757.12 L507.73 749.67 L509.52 760.11 L511.01 766.82 L513.25 766.07 L515.79 752.65 L517.73 737.73 L519.52 730.27 L521.46 734.75 L523.69 760.11 L525.93 772.04 L528.17 760.11 L529.66 746.68 L531.9 743.7 L534.13 744.45 L537.12 729.53 L539.06 731.77 L540.85 743.7 L543.08 779.5 L545.32 778.01 L547.11 769.06 L549.35 766.82 L551.59 778.01 L553.53 764.58 L555.76 716.85 L558.3 710.14 L560.24 734.75 L561.73 749.67 L563.22 753.39 L564.71 739.22 L566.5 725.8 L568.44 749.67 L571.43 788.45 L573.22 787.7 L575.16 761.6 L577.39 745.19 L579.63 742.21 L581.87 741.46 L582.98 742.21 L584.47 749.67 L586.71 759.36 L589.7 757.87 L591.93 764.58 L594.17 768.31 L596.41 739.22 L598.65 719.09 L600.58 728.78 L603.12 763.84 L605.06 755.63 L606.85 734.75 L608.34 734.75 L610.58 761.6 L612.82 792.18 L615.05 776.52 L617.29 743.7 L619.53 721.32 L621.77 731.77 L624.45 762.34 L626.54 767.57 L629.22 755.63 L631.46 745.94 L633.7 752.65 L635.94 770.55 L638.17 746.68 L640.86 716.85 L642.65 730.27 L645.63 783.97 L647.87 760.11 L650.11 736.24 L651.6 749.67 L653.84 788.45 L656.07 761.6 L658.61 705.66 L660.55 712.37 L663.53 758.62 L665.77 754.14 L667.26 746.68 L669.5 761.6 L671.74 787.7 L673.97 773.53 L676.21 757.12 L678.45 734.75 L681.13 704.92 L682.92 712.37 L684.42 734.75 L686.21 772.04 L688.14 764.58 L689.93 743.7 L691.87 773.53 L694.11 797.4 L695.6 772.04 L697.09 727.29 L698.88 699.7 L700.82 722.82 L702.32 769.06 L704.11 801.87 L706.04 760.11 L707.54 727.29 L709.03 716.1 L710.52 734.75 L711.56 760.11 L714.25 757.12 L716.93 733.26 L718.72 739.22 L720.96 761.6 L723.2 775.77 L724.99 776.52 L726.93 761.6 L729.16 746.68 L730.66 751.16 L732.89 758.62 L735.13 748.17 L737.82 729.53 L739.61 739.22 L741.1 763.09 L742.89 763.09 L744.08 739.22 L745.87 724.31 L747.81 734.75 L749.3 755.63 L751.24 798.14 L753.03 779.5 L754.52 734.75 L756.31 711.63 L758.25 734.75 L760.49 779.5 L761.98 782.48 L763.77 749.67 L765.71 725.8 L767.65 742.21 L769.44 761.6 L770.93 769.8 L772.72 769.06 L774.66 755.63 L776.6 737.73 L778.69 738.48 L780.63 754.14 L781.67 759.36 L783.61 757.87 L785.85 748.17 L788.83 734.75 L791.81 730.27 L794.05 739.22 L796.29 754.14 L800.02 767.57 L801.51 777.26 L803.3 776.52 L805.24 749.67 L807.77 734.75 L810.46 743.7 L813 745.94 L815.38 754.14 L817.47 756.38 L820.16 737.73 L822.39 739.97 L825.38 772.79 L827.61 770.55 L828.73 749.67 L830.67 738.48 L832.16 743.7 L833.95 757.12 L835.44 759.36 L836.93 742.21 L838.72 722.07 L840.21 719.83 L841.41 739.22 L843.2 769.06 L845.14 788.45 L847.08 773.53 L848.87 752.65 L850.36 741.46 L851.85 735.5 L854.09 738.48 L855.58 741.46 L857.82 745.19 L859.61 752.65 L861.55 757.87 L863.78 754.14 L866.02 745.19 L868.26 757.12 L870.5 775.02 L872.43 780.99 L874.22 778.01 L876.46 752.65 L878.7 719.83 L880.49 716.85 L882.43 731.77 L883.92 740.72 L885.41 736.24 L887.35 722.82 L889.14 740.72 L890.63 770.55 L892.42 801.87 L894.36 773.53 L895.85 742.21 L897.34 732.51 L898.84 749.67 L900.33 767.57 L901.82 770.55 L903.31 761.6 L905.1 754.14 L906.74 760.11 L908.23 763.09 L910.02 739.22 L911.81 718.34 L913.31 715.36 L915.24 736.24 L917.48 761.6 L919.27 763.09 L921.21 748.17 L922.7 743.7 L924.64 755.63 L926.43 775.02 L927.92 785.47 L930.16 786.21 L932.1 752.65 L933.14 734.75 L934.64 728.04 L936.13 734.75 L937.62 745.94 L939.11 745.19 L940.6 736.24 L942.84 737.73 L945.08 763.09 L946.57 758.62 L948.81 749.67 L950.6 754.14 L952.54 766.07 L954.03 767.57 L955.97 746.68 L958.05 726.55 L959.55 728.78 L961.04 737.73 L962.53 754.14 L964.47 766.82 L966.26 761.6 L968.2 739.22 L969.69 733.26 L971.18 745.19 L972.97 767.57 L974.46 780.99 L975.95 764.58 L977.89 737.73 L979.39 729.53 L980.88 739.22 L982.37 754.14 L984.61 746.68 L987.14 742.21 L989.08 755.63 L990.87 769.8 L992.81 767.57 L994.3 757.12 L995.79 750.41 L997.29 754.14 L999.22 759.36 L1001.01 748.17 L1003.25 713.12 L1005.04 710.88 L1006.98 730.27 L1008.77 755.63 L1010.26 772.04 L1012.65 778.75 L1014.74 780.99 L1016.68 767.57 L1018.62 736.24 L1020.41 719.83 L1021.9 718.34 L1024.13 739.22 L1026.37 755.63 L1027.86 746.68 L1029.8 740.72 L1031.59 751.16 L1033.38 775.02 L1035.02 780.99 L1036.81 766.07 L1038.6 728.04 L1041.29 726.55 L1043.08 746.68 L1044.27 760.11 L1046.21 758.62 L1048 749.67 L1049.49 743.7 L1051.73 742.95 L1053.97 746.68 L1056.21 754.14 L1057.7 757.12 L1059.93 752.65 L1062.17 752.65 L1063.66 760.11 L1065.16 764.58 L1067.39 760.11 L1070.08 734 L1071.87 737.73 L1073.28 752.65 L1074.92 760.11 L1076.71 746.68 L1078.2 729.53 L1079.99 726.55 L1081.63 752.65 L1083.13 773.53 L1084.92 778.75 L1086.41 761.6 L1087.9 741.46 L1089.84 739.22 L1091.63 757.12 L1093.42 768.31 L1095.36 739.22 L1097.6 728.04 L1099.39 742.21 L1101.03 755.63 L1102.82 751.16 L1104.31 745.19 L1106.55 751.16 L1108.48 766.07 L1110.27 752.65 L1112.21 740.72 L1114 743.7 L1116.24 754.14 L1118.03 749.67 L1120.72 739.22 L1122.95 749.67 L1124.45 758.62 L1126.38 753.39 L1128.92 753.39 L1131.16 763.09 L1132.65 757.12 L1134.44 734.75 L1136.68 731.77 L1138.32 749.67 L1140.11 767.57 L1142.05 772.04 L1143.84 749.67 L1146.37 730.27 L1148.31 743.7 L1149.8 761.6 L1151.29 772.79 L1153.23 760.11 L1155.77 739.22 L1158.01 745.19 L1159.5 755.63 L1160.99 758.62 L1162.48 749.67 L1164.27 736.99 L1166.21 742.21 L1168.45 764.58 L1170.69 761.6 L1172.63 755.63 L1174.42 756.38 L1175.91 766.07 L1177.4 766.07 L1179.64 725.8 L1181.58 700.44 L1183.37 715.36 L1184.86 755.63 L1186.35 788.45 L1188.59 798.89 L1190.82 776.52 L1192.61 746.68 L1194.55 728.78 L1196.79 731.77 L1199.03 760.11 L1201.26 766.07 L1202.76 752.65 L1204.25 733.26 L1206.04 725.8 L1207.98 727.29 L1210.21 746.68 L1212.45 772.04 L1214.69 775.77 L1216.18 763.09 L1217.97 754.14 L1219.91 760.11 L1221.4 764.58 L1222.89 763.09 L1225.13 742.21 L1227.37 736.99 L1230.35 740.72 L1232.59 737.73 L1234.08 734.75 L1235.87 733.26 L1237.81 752.65 L1240.05 785.47 L1242.29 782.48 L1244.22 752.65 L1246.01 739.22 L1247.51 741.46 L1249 761.6 L1250.49 775.02 L1252.28 746.68 L1254.96 707.9 L1256.75 719.83 L1258.69 761.6 L1260.93 760.11 L1263.17 757.87 L1264.66 763.09 L1266.6 775.02 L1268.39 767.57 L1269.88 746.68 L1271.37 737.73 L1274.06 745.94 L1276.59 741.46 L1279.13 740.72 L1281.81 749.67 L1284.8 760.11 L1287.03 761.6 L1288.53 755.63 L1290.02 749.67 L1292.26 751.16 L1293.75 758.62 L1295.24 763.84 L1296.73 755.63 L1298.52 727.29 L1300.46 724.31 L1301.95 722.07 L1303.89 734.75 L1305.68 752.65 L1307.92 767.57 L1309.86 764.58 L1311.65 762.34 L1312.84 763.84" fill="none" stroke="#bebebe" stroke-width="2.2" stroke-linejoin="round"/>
<path d="M341.2 733.3 L357.67 733.9 L374.15 734.51 L390.62 735.11 L407.1 735.7 L423.57 736.3 L440.05 736.89 L456.52 737.48 L473 738.06 L489.47 738.65 L505.95 739.23 L522.42 739.8 L538.89 740.38 L555.37 740.95 L571.84 741.52 L588.32 742.09 L604.79 742.65 L621.27 743.21 L637.74 743.77 L654.22 744.33 L670.69 744.88 L687.17 745.44 L703.64 745.98 L720.12 746.53 L736.59 747.07 L753.06 747.61 L769.54 748.15 L786.01 748.69 L802.49 749.22 L818.96 749.75 L835.44 750.28 L851.91 750.8 L868.39 751.32 L884.86 751.84 L901.34 752.36 L917.81 752.87 L934.28 753.38 L950.76 753.89 L967.23 754.4 L983.71 754.9 L1000.18 755.4 L1016.66 755.9 L1033.13 756.39 L1049.61 756.89 L1066.08 757.38 L1082.56 757.86 L1099.03 758.35 L1115.51 758.83 L1131.98 759.31 L1148.45 759.78 L1164.93 760.26 L1181.4 760.73 L1197.88 761.2 L1214.35 761.66 L1230.83 762.13 L1247.3 762.59 L1263.78 763.04 L1280.25 763.5 L1296.73 763.95 L1313.2 764.4" fill="none" stroke="#ff0000" stroke-width="3.5" stroke-linecap="round"/>
<line x1="746.3" y1="638.5" x2="908.5" y2="638.5" stroke="#bebebe" stroke-width="4"/>
<line x1="746.3" y1="631.3" x2="746.3" y2="645.7" stroke="#bebebe" stroke-width="4.5"/>
<line x1="908.5" y1="631.3" x2="908.5" y2="645.7" stroke="#bebebe" stroke-width="4.5"/>
<line x1="227.6" y1="467" x2="227.6" y2="547" stroke="#bebebe" stroke-width="2"/>
<line x1="221" y1="467" x2="234.5" y2="467" stroke="#bebebe" stroke-width="2"/>
<line x1="221" y1="547" x2="234.5" y2="547" stroke="#bebebe" stroke-width="2"/>
<circle cx="227.6" cy="506.8" r="4" fill="#000"/>
<path d="M179.2 902.5 V914.5 M179.2 110.8 V99.3 M195.4 902.5 V908.5 M195.4 110.8 V105 M211.6 902.5 V908.5 M211.6 110.8 V105 M227.8 902.5 V908.5 M227.8 110.8 V105 M244 902.5 V908.5 M244 110.8 V105 M260.2 902.5 V908.5 M260.2 110.8 V105 M276.4 902.5 V908.5 M276.4 110.8 V105 M292.6 902.5 V908.5 M292.6 110.8 V105 M308.8 902.5 V908.5 M308.8 110.8 V105 M325 902.5 V908.5 M325 110.8 V105 M341.2 902.5 V914.5 M341.2 110.8 V99.3 M357.4 902.5 V908.5 M357.4 110.8 V105 M373.6 902.5 V908.5 M373.6 110.8 V105 M389.8 902.5 V908.5 M389.8 110.8 V105 M406 902.5 V908.5 M406 110.8 V105 M422.2 902.5 V908.5 M422.2 110.8 V105 M438.4 902.5 V908.5 M438.4 110.8 V105 M454.6 902.5 V908.5 M454.6 110.8 V105 M470.8 902.5 V908.5 M470.8 110.8 V105 M487 902.5 V908.5 M487 110.8 V105 M503.2 902.5 V914.5 M503.2 110.8 V99.3 M519.4 902.5 V908.5 M519.4 110.8 V105 M535.6 902.5 V908.5 M535.6 110.8 V105 M551.8 902.5 V908.5 M551.8 110.8 V105 M568 902.5 V908.5 M568 110.8 V105 M584.2 902.5 V908.5 M584.2 110.8 V105 M600.4 902.5 V908.5 M600.4 110.8 V105 M616.6 902.5 V908.5 M616.6 110.8 V105 M632.8 902.5 V908.5 M632.8 110.8 V105 M649 902.5 V908.5 M649 110.8 V105 M665.2 902.5 V914.5 M665.2 110.8 V99.3 M681.4 902.5 V908.5 M681.4 110.8 V105 M697.6 902.5 V908.5 M697.6 110.8 V105 M713.8 902.5 V908.5 M713.8 110.8 V105 M730 902.5 V908.5 M730 110.8 V105 M746.2 902.5 V908.5 M746.2 110.8 V105 M762.4 902.5 V908.5 M762.4 110.8 V105 M778.6 902.5 V908.5 M778.6 110.8 V105 M794.8 902.5 V908.5 M794.8 110.8 V105 M811 902.5 V908.5 M811 110.8 V105 M827.2 902.5 V914.5 M827.2 110.8 V99.3 M843.4 902.5 V908.5 M843.4 110.8 V105 M859.6 902.5 V908.5 M859.6 110.8 V105 M875.8 902.5 V908.5 M875.8 110.8 V105 M892 902.5 V908.5 M892 110.8 V105 M908.2 902.5 V908.5 M908.2 110.8 V105 M924.4 902.5 V908.5 M924.4 110.8 V105 M940.6 902.5 V908.5 M940.6 110.8 V105 M956.8 902.5 V908.5 M956.8 110.8 V105 M973 902.5 V908.5 M973 110.8 V105 M989.2 902.5 V914.5 M989.2 110.8 V99.3 M1005.4 902.5 V908.5 M1005.4 110.8 V105 M1021.6 902.5 V908.5 M1021.6 110.8 V105 M1037.8 902.5 V908.5 M1037.8 110.8 V105 M1054 902.5 V908.5 M1054 110.8 V105 M1070.2 902.5 V908.5 M1070.2 110.8 V105 M1086.4 902.5 V908.5 M1086.4 110.8 V105 M1102.6 902.5 V908.5 M1102.6 110.8 V105 M1118.8 902.5 V908.5 M1118.8 110.8 V105 M1135 902.5 V908.5 M1135 110.8 V105 M1151.2 902.5 V914.5 M1151.2 110.8 V99.3 M1167.4 902.5 V908.5 M1167.4 110.8 V105 M1183.6 902.5 V908.5 M1183.6 110.8 V105 M1199.8 902.5 V908.5 M1199.8 110.8 V105 M1216 902.5 V908.5 M1216 110.8 V105 M1232.2 902.5 V908.5 M1232.2 110.8 V105 M1248.4 902.5 V908.5 M1248.4 110.8 V105 M1264.6 902.5 V908.5 M1264.6 110.8 V105 M1280.8 902.5 V908.5 M1280.8 110.8 V105 M1297 902.5 V908.5 M1297 110.8 V105 M1313.2 902.5 V914.5 M1313.2 110.8 V99.3 M1329.4 902.5 V908.5 M1329.4 110.8 V105 M1345.6 902.5 V908.5 M1345.6 110.8 V105 M1361.8 902.5 V908.5 M1361.8 110.8 V105 M1378 902.5 V908.5 M1378 110.8 V105 M1394.2 902.5 V908.5 M1394.2 110.8 V105 M1410.4 902.5 V908.5 M1410.4 110.8 V105 M1426.6 902.5 V908.5 M1426.6 110.8 V105 M1442.8 902.5 V908.5 M1442.8 110.8 V105 M1459 902.5 V908.5 M1459 110.8 V105 M1475.2 902.5 V914.5 M1475.2 110.8 V99.3 M179.2 902.45 H167.2 M179.2 882.66 H173.2 M179.2 862.87 H173.2 M179.2 843.08 H173.2 M179.2 823.29 H173.2 M179.2 803.5 H167.2 M179.2 783.71 H173.2 M179.2 763.92 H173.2 M179.2 744.13 H173.2 M179.2 724.34 H173.2 M179.2 704.55 H167.2 M179.2 684.76 H173.2 M179.2 664.97 H173.2 M179.2 645.18 H173.2 M179.2 625.39 H173.2 M179.2 605.6 H167.2 M179.2 585.81 H173.2 M179.2 566.02 H173.2 M179.2 546.23 H173.2 M179.2 526.44 H173.2 M179.2 506.65 H167.2 M179.2 486.86 H173.2 M179.2 467.07 H173.2 M179.2 447.28 H173.2 M179.2 427.49 H173.2 M179.2 407.7 H167.2 M179.2 387.91 H173.2 M179.2 368.12 H173.2 M179.2 348.33 H173.2 M179.2 328.54 H173.2 M179.2 308.75 H167.2 M179.2 288.96 H173.2 M179.2 269.17 H173.2 M179.2 249.38 H173.2 M179.2 229.59 H173.2 M179.2 209.8 H167.2 M179.2 190.01 H173.2 M179.2 170.22 H173.2 M179.2 150.43 H173.2 M179.2 130.64 H173.2 M179.2 110.85 H167.2 M1475.3 468 H1480.8 M1475.3 428.2 H1486.3 M1475.3 388.4 H1480.8 M1475.3 348.6 H1486.3 M1475.3 308.8 H1480.8 M1475.3 269 H1486.3 M1475.3 229.2 H1480.8 M1475.3 189.4 H1486.3 M1475.3 149.6 H1480.8 M1475.3 902.53 H1486.8 M1475.3 889.33 H1480.3 M1475.3 876.13 H1480.3 M1475.3 862.94 H1480.3 M1475.3 849.75 H1480.3 M1475.3 836.55 H1486.8 M1475.3 823.36 H1480.3 M1475.3 810.16 H1480.3 M1475.3 796.97 H1480.3 M1475.3 783.77 H1480.3 M1475.3 770.58 H1486.8 M1475.3 757.38 H1480.3 M1475.3 744.19 H1480.3 M1475.3 730.99 H1480.3 M1475.3 717.8 H1480.3 M1475.3 704.6 H1486.8 M1475.3 691.4 H1480.3 M1475.3 678.21 H1480.3 M1475.3 665.01 H1480.3 M1475.3 651.82 H1480.3 M1475.3 638.62 H1486.8 M1475.3 625.43 H1480.3 M1475.3 612.24 H1480.3 M1475.3 599.04 H1480.3 M1475.3 585.85 H1480.3 M1475.3 572.65 H1486.8 M1475.3 559.46 H1480.3 M1475.3 546.26 H1480.3 M1475.3 533.07 H1480.3 M1475.3 519.87 H1480.3" stroke="#000" stroke-width="1.1" fill="none"/>
<rect x="179.2" y="110.8" width="1296.1" height="791.7" fill="none" stroke="#000" stroke-width="2.5"/>
<line x1="1345.7" y1="110.8" x2="1377.4" y2="110.8" stroke="#009999" stroke-opacity="0.6" stroke-width="2"/>
<rect x="183.1" y="18.5" width="372.4" height="163" fill="#fff" stroke="#707070" stroke-width="1.1"/>
<line x1="220" y1="39.3" x2="276" y2="39.3" stroke="#0000ff" stroke-width="1"/>
<circle cx="248.2" cy="39.3" r="4.3" fill="#0000ff"/>
<line x1="220" y1="69.3" x2="276" y2="69.3" stroke="#00c8c8" stroke-width="1"/>
<circle cx="248.2" cy="69.3" r="4.3" fill="#00c8c8"/>
<line x1="220" y1="100.0" x2="276" y2="100.0" stroke="#000" stroke-width="2.6"/>
<line x1="220" y1="130.4" x2="276" y2="130.4" stroke="#bebebe" stroke-width="2.8"/>
<line x1="220" y1="161.3" x2="276" y2="161.3" stroke="#ff0000" stroke-width="1"/>
<circle cx="248.2" cy="161.3" r="4.2" fill="#ff0000"/>
<text transform="translate(295.3 47.9) scale(1 1.043)" font-size="24" text-anchor="start" font-weight="normal" fill="#000">Pressure</text>
<text transform="translate(295.3 77.9) scale(1 1.043)" font-size="24" text-anchor="start" font-weight="normal" fill="#000">dP/dt range ±0.3 hPa/s</text>
<text transform="translate(295.3 108.6) scale(1 1.043)" font-size="24" text-anchor="start" font-weight="normal" fill="#000">Residual</text>
<text transform="translate(295.3 139) scale(1 1.043)" font-size="24" text-anchor="start" font-weight="normal" fill="#000">10 minutes slice</text>
<text transform="translate(295.3 169.9) scale(1 1.043)" font-size="24" text-anchor="start" font-weight="normal" fill="#000">Theor.Tide</text>
<text transform="translate(575 81.8) scale(1 1.043)" font-size="32.3" text-anchor="start" font-weight="bold" fill="#000">SCG_054 gravimeter Onsala Space Observatory, Sweden</text>
<text transform="translate(208 887.8) scale(1 1.043)" font-size="27.95" text-anchor="start" font-weight="bold" fill="#000">The requested 1−hour, 1−second sampling</text>
<text transform="translate(1446.8 887.8) scale(1 1.043)" font-size="27.9" text-anchor="end" font-weight="bold" fill="#000">End at 2026−03−20 10:39:59 UTC</text>
<text transform="translate(827.2 991) scale(1 1.043)" font-size="28" text-anchor="middle" font-weight="normal" fill="#000">Time [min] from 2026−03−20 09:40:00 UTC</text>
<text transform="translate(179.2 943.7) scale(1 1.043)" font-size="24" text-anchor="middle" font-weight="normal" fill="#000">−10</text>
<text transform="translate(341.2 943.7) scale(1 1.043)" font-size="24" text-anchor="middle" font-weight="normal" fill="#000">0</text>
<text transform="translate(503.2 943.7) scale(1 1.043)" font-size="24" text-anchor="middle" font-weight="normal" fill="#000">10</text>
<text transform="translate(665.2 943.7) scale(1 1.043)" font-size="24" text-anchor="middle" font-weight="normal" fill="#000">20</text>
<text transform="translate(827.2 943.7) scale(1 1.043)" font-size="24" text-anchor="middle" font-weight="normal" fill="#000">30</text>
<text transform="translate(989.2 943.7) scale(1 1.043)" font-size="24" text-anchor="middle" font-weight="normal" fill="#000">40</text>
<text transform="translate(1151.2 943.7) scale(1 1.043)" font-size="24" text-anchor="middle" font-weight="normal" fill="#000">50</text>
<text transform="translate(1313.2 943.7) scale(1 1.043)" font-size="24" text-anchor="middle" font-weight="normal" fill="#000">60</text>
<text transform="translate(1475.2 943.7) scale(1 1.043)" font-size="24" text-anchor="middle" font-weight="normal" fill="#000">70</text>
<text transform="translate(155.6 911.35) scale(1 1.043)" font-size="24" text-anchor="end" font-weight="normal" fill="#000">−200</text>
<text transform="translate(155.6 812.4) scale(1 1.043)" font-size="24" text-anchor="end" font-weight="normal" fill="#000">−150</text>
<text transform="translate(155.6 713.45) scale(1 1.043)" font-size="24" text-anchor="end" font-weight="normal" fill="#000">−100</text>
<text transform="translate(155.6 614.5) scale(1 1.043)" font-size="24" text-anchor="end" font-weight="normal" fill="#000">−50</text>
<text transform="translate(155.6 515.55) scale(1 1.043)" font-size="24" text-anchor="end" font-weight="normal" fill="#000">0</text>
<text transform="translate(155.6 416.6) scale(1 1.043)" font-size="24" text-anchor="end" font-weight="normal" fill="#000">50</text>
<text transform="translate(155.6 317.65) scale(1 1.043)" font-size="24" text-anchor="end" font-weight="normal" fill="#000">100</text>
<text transform="translate(155.6 218.7) scale(1 1.043)" font-size="24" text-anchor="end" font-weight="normal" fill="#000">150</text>
<text transform="translate(155.6 119.75) scale(1 1.043)" font-size="24" text-anchor="end" font-weight="normal" fill="#000">200</text>
<text transform="translate(1498.1 437.3) scale(1 1.043)" font-size="24" text-anchor="start" font-weight="normal" fill="#000">1018</text>
<text transform="translate(1498.1 357.7) scale(1 1.043)" font-size="24" text-anchor="start" font-weight="normal" fill="#000">1020</text>
<text transform="translate(1498.1 278.1) scale(1 1.043)" font-size="24" text-anchor="start" font-weight="normal" fill="#000">1022</text>
<text transform="translate(1498.1 198.5) scale(1 1.043)" font-size="24" text-anchor="start" font-weight="normal" fill="#000">1024</text>
<text transform="translate(1564.8 911.53) scale(1 1.043)" font-size="24" text-anchor="end" font-weight="normal" fill="#000">−1500</text>
<text transform="translate(1564.8 845.55) scale(1 1.043)" font-size="24" text-anchor="end" font-weight="normal" fill="#000">−1000</text>
<text transform="translate(1564.8 779.58) scale(1 1.043)" font-size="24" text-anchor="end" font-weight="normal" fill="#000">−500</text>
<text transform="translate(1564.8 713.6) scale(1 1.043)" font-size="24" text-anchor="end" font-weight="normal" fill="#000">0</text>
<text transform="translate(1564.8 647.62) scale(1 1.043)" font-size="24" text-anchor="end" font-weight="normal" fill="#000">500</text>
<text transform="translate(1564.8 581.65) scale(1 1.043)" font-size="24" text-anchor="end" font-weight="normal" fill="#000">1000</text>
<text transform="translate(74 505.7) rotate(-90) scale(1 1.043)" font-size="28" text-anchor="middle" font-weight="normal" fill="#000">Obs’d Gravity [nm/s<tspan font-size="19" dy="-10">2</tspan><tspan dy="10">]</tspan></text>
<text transform="translate(1599.5 308.7) rotate(-90) scale(1 1.043)" font-size="28" text-anchor="middle" font-weight="normal" fill="#000">Pressure [hPa]</text>
<text transform="translate(1614 704.6) rotate(-90) scale(1 1.043)" font-size="28" text-anchor="middle" font-weight="normal" fill="#000">Tide [nm/s<tspan font-size="19" dy="-10">2</tspan><tspan dy="10">]</tspan></text>
<text transform="translate(260.4 507.8) rotate(-90) scale(1 1.043)" font-size="24" text-anchor="middle" font-weight="normal" fill="#000">Typical noise level</text>
<text transform="translate(1402.9 308.6) rotate(-90) scale(1 1.043)" font-size="24" text-anchor="middle" font-weight="normal" fill="#000">1 DIV = 0.5 hPa/h</text>
<text transform="translate(1442.6 309.5) rotate(-90) scale(1 1.043)" font-size="24" text-anchor="middle" font-weight="normal" fill="#000">average = −0.0174</text>
<text transform="translate(186 759.5) scale(1 1.043)" font-size="28" text-anchor="start" font-weight="normal" fill="#a0a0a0">Start:</text>
<text transform="translate(186 802.1) scale(1 1.043)" font-size="28" text-anchor="start" font-weight="normal" fill="#a0a0a0">10:05:00</text>
</svg>
</body></html>
